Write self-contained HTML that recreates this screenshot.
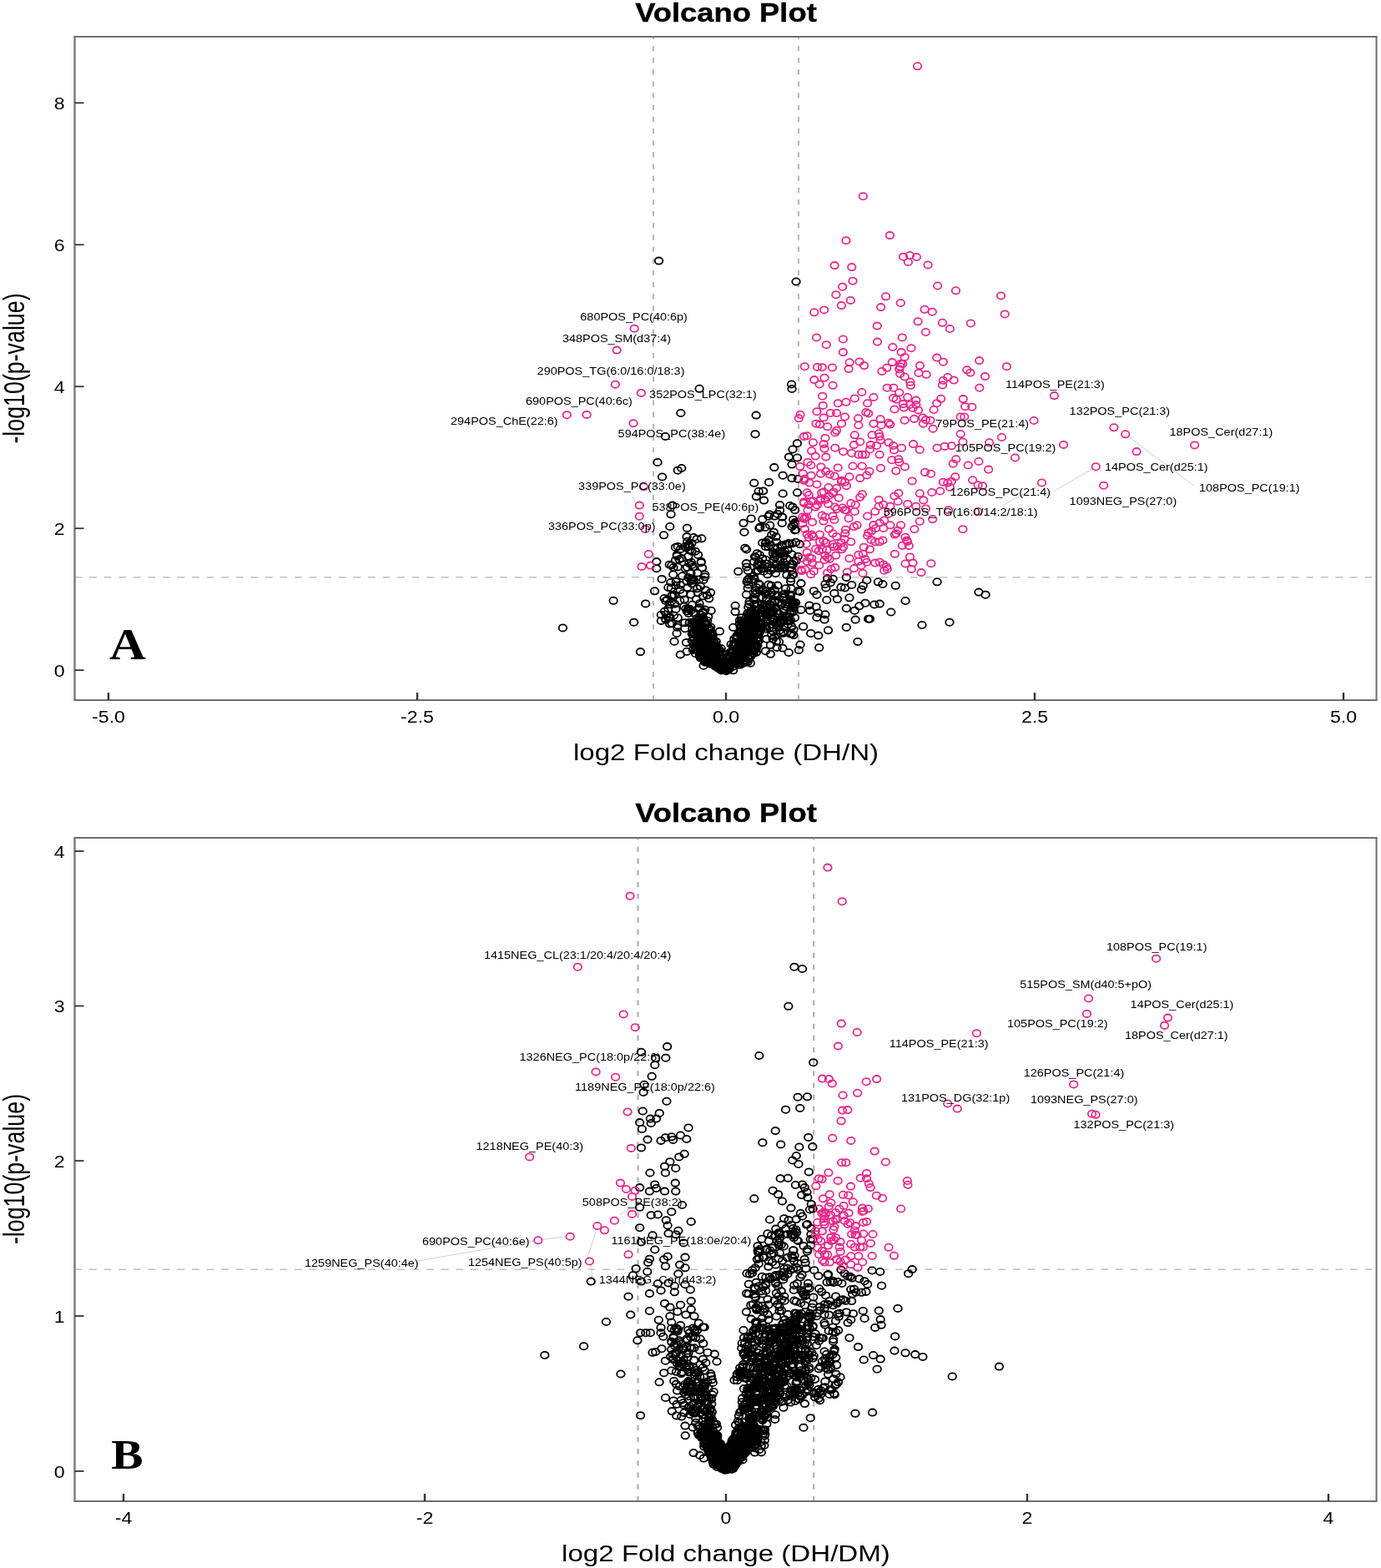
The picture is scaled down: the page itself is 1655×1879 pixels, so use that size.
<!DOCTYPE html>
<html lang="en"><head><meta charset="utf-8"><title>Volcano Plot</title>
<style>
html,body{margin:0;padding:0;background:#fff;}
body{width:1655px;height:1879px;overflow:hidden;}
svg{display:block;}
text{white-space:pre;}
</style></head><body>
<svg width="1655" height="1879" viewBox="0 0 1655 1879">
<rect width="1655" height="1879" fill="#fff"/>
<g>
<line x1="783" y1="839" x2="783" y2="44" stroke="#bababa" stroke-width="2.2" stroke-dasharray="6.3 7.85" stroke-dashoffset="0.5"/>
<line x1="957" y1="839" x2="957" y2="44" stroke="#bababa" stroke-width="2.2" stroke-dasharray="6.3 7.85" stroke-dashoffset="0.5"/>
<line x1="89.5" y1="691.8" x2="1649.5" y2="691.8" stroke="#c0c0c0" stroke-width="1.6" stroke-dasharray="8.75 8.82" stroke-dashoffset="0"/>
</g>
<line x1="1352.0" y1="523.0" x2="1431.0" y2="582.0" stroke="#cfcfcf" stroke-width="1"/>
<line x1="1262.0" y1="589.0" x2="1309.0" y2="562.0" stroke="#cfcfcf" stroke-width="1"/>
<line x1="1200.6" y1="606.1" x2="1243.0" y2="583.0" stroke="#cfcfcf" stroke-width="1"/>
<line x1="758.0" y1="595.0" x2="763.0" y2="605.0" stroke="#cfcfcf" stroke-width="1"/>
<polygon points="869.1,808.0 854.6,801.9 842.5,795.9 832.8,785.0 826.8,772.9 825.0,754.8 826.8,743.9 834.0,739.1 843.7,741.5 852.2,748.8 859.4,760.8 865.5,776.6 868.9,786.2 872.7,776.6 878.8,760.8 886.0,743.9 895.7,729.4 906.6,724.6 916.2,729.4 916.8,742.7 914.4,754.8 912.6,772.9 906.6,785.0 896.9,795.9 884.8,803.1" fill="#000" stroke="#fff" stroke-width="10" stroke-linejoin="round"/>
<path d="M949.3 337.5a4.75 4.1 0 1 0 9.5 0a4.75 4.1 0 1 0 -9.5 0M943.8 460.5a4.75 4.1 0 1 0 9.5 0a4.75 4.1 0 1 0 -9.5 0M944.3 466.0a4.75 4.1 0 1 0 9.5 0a4.75 4.1 0 1 0 -9.5 0M950.7 531.2a4.75 4.1 0 1 0 9.5 0a4.75 4.1 0 1 0 -9.5 0M945.2 538.5a4.75 4.1 0 1 0 9.5 0a4.75 4.1 0 1 0 -9.5 0M940.7 547.6a4.75 4.1 0 1 0 9.5 0a4.75 4.1 0 1 0 -9.5 0M950.7 548.5a4.75 4.1 0 1 0 9.5 0a4.75 4.1 0 1 0 -9.5 0M944.3 556.6a4.75 4.1 0 1 0 9.5 0a4.75 4.1 0 1 0 -9.5 0M986.9 693.1a4.75 4.1 0 1 0 9.5 0a4.75 4.1 0 1 0 -9.5 0M993.3 693.7a4.75 4.1 0 1 0 9.5 0a4.75 4.1 0 1 0 -9.5 0M1009.6 691.9a4.75 4.1 0 1 0 9.5 0a4.75 4.1 0 1 0 -9.5 0M1034.0 695.5a4.75 4.1 0 1 0 9.5 0a4.75 4.1 0 1 0 -9.5 0M1047.6 697.3a4.75 4.1 0 1 0 9.5 0a4.75 4.1 0 1 0 -9.5 0M1053.1 700.0a4.75 4.1 0 1 0 9.5 0a4.75 4.1 0 1 0 -9.5 0M1068.5 701.8a4.75 4.1 0 1 0 9.5 0a4.75 4.1 0 1 0 -9.5 0M1118.3 697.3a4.75 4.1 0 1 0 9.5 0a4.75 4.1 0 1 0 -9.5 0M1168.2 709.6a4.75 4.1 0 1 0 9.5 0a4.75 4.1 0 1 0 -9.5 0M1176.3 712.7a4.75 4.1 0 1 0 9.5 0a4.75 4.1 0 1 0 -9.5 0M955.2 699.1a4.75 4.1 0 1 0 9.5 0a4.75 4.1 0 1 0 -9.5 0M984.2 700.0a4.75 4.1 0 1 0 9.5 0a4.75 4.1 0 1 0 -9.5 0M990.5 698.2a4.75 4.1 0 1 0 9.5 0a4.75 4.1 0 1 0 -9.5 0M1015.9 700.9a4.75 4.1 0 1 0 9.5 0a4.75 4.1 0 1 0 -9.5 0M1029.5 701.8a4.75 4.1 0 1 0 9.5 0a4.75 4.1 0 1 0 -9.5 0M1027.7 706.4a4.75 4.1 0 1 0 9.5 0a4.75 4.1 0 1 0 -9.5 0M985.1 704.5a4.75 4.1 0 1 0 9.5 0a4.75 4.1 0 1 0 -9.5 0M1003.2 703.6a4.75 4.1 0 1 0 9.5 0a4.75 4.1 0 1 0 -9.5 0M1007.8 704.5a4.75 4.1 0 1 0 9.5 0a4.75 4.1 0 1 0 -9.5 0M970.6 708.2a4.75 4.1 0 1 0 9.5 0a4.75 4.1 0 1 0 -9.5 0M974.2 712.7a4.75 4.1 0 1 0 9.5 0a4.75 4.1 0 1 0 -9.5 0M995.1 710.9a4.75 4.1 0 1 0 9.5 0a4.75 4.1 0 1 0 -9.5 0M1013.2 716.3a4.75 4.1 0 1 0 9.5 0a4.75 4.1 0 1 0 -9.5 0M998.7 718.1a4.75 4.1 0 1 0 9.5 0a4.75 4.1 0 1 0 -9.5 0M986.0 719.0a4.75 4.1 0 1 0 9.5 0a4.75 4.1 0 1 0 -9.5 0M1080.3 720.0a4.75 4.1 0 1 0 9.5 0a4.75 4.1 0 1 0 -9.5 0M1032.2 722.7a4.75 4.1 0 1 0 9.5 0a4.75 4.1 0 1 0 -9.5 0M1025.0 726.3a4.75 4.1 0 1 0 9.5 0a4.75 4.1 0 1 0 -9.5 0M1043.1 724.5a4.75 4.1 0 1 0 9.5 0a4.75 4.1 0 1 0 -9.5 0M1049.4 723.6a4.75 4.1 0 1 0 9.5 0a4.75 4.1 0 1 0 -9.5 0M1009.6 729.0a4.75 4.1 0 1 0 9.5 0a4.75 4.1 0 1 0 -9.5 0M1019.5 731.7a4.75 4.1 0 1 0 9.5 0a4.75 4.1 0 1 0 -9.5 0M1063.0 733.5a4.75 4.1 0 1 0 9.5 0a4.75 4.1 0 1 0 -9.5 0M965.2 725.4a4.75 4.1 0 1 0 9.5 0a4.75 4.1 0 1 0 -9.5 0M973.3 727.2a4.75 4.1 0 1 0 9.5 0a4.75 4.1 0 1 0 -9.5 0M966.1 731.7a4.75 4.1 0 1 0 9.5 0a4.75 4.1 0 1 0 -9.5 0M976.0 734.5a4.75 4.1 0 1 0 9.5 0a4.75 4.1 0 1 0 -9.5 0M984.2 736.3a4.75 4.1 0 1 0 9.5 0a4.75 4.1 0 1 0 -9.5 0M974.2 739.9a4.75 4.1 0 1 0 9.5 0a4.75 4.1 0 1 0 -9.5 0M983.3 742.6a4.75 4.1 0 1 0 9.5 0a4.75 4.1 0 1 0 -9.5 0M955.2 730.8a4.75 4.1 0 1 0 9.5 0a4.75 4.1 0 1 0 -9.5 0M1020.4 742.6a4.75 4.1 0 1 0 9.5 0a4.75 4.1 0 1 0 -9.5 0M1035.9 741.7a4.75 4.1 0 1 0 9.5 0a4.75 4.1 0 1 0 -9.5 0M1037.7 741.7a4.75 4.1 0 1 0 9.5 0a4.75 4.1 0 1 0 -9.5 0M1100.2 749.0a4.75 4.1 0 1 0 9.5 0a4.75 4.1 0 1 0 -9.5 0M1133.2 745.7a4.75 4.1 0 1 0 9.5 0a4.75 4.1 0 1 0 -9.5 0M1009.6 751.7a4.75 4.1 0 1 0 9.5 0a4.75 4.1 0 1 0 -9.5 0M987.8 755.3a4.75 4.1 0 1 0 9.5 0a4.75 4.1 0 1 0 -9.5 0M957.9 750.8a4.75 4.1 0 1 0 9.5 0a4.75 4.1 0 1 0 -9.5 0M967.0 758.9a4.75 4.1 0 1 0 9.5 0a4.75 4.1 0 1 0 -9.5 0M976.0 761.6a4.75 4.1 0 1 0 9.5 0a4.75 4.1 0 1 0 -9.5 0M1023.2 768.9a4.75 4.1 0 1 0 9.5 0a4.75 4.1 0 1 0 -9.5 0M954.3 772.5a4.75 4.1 0 1 0 9.5 0a4.75 4.1 0 1 0 -9.5 0M976.9 776.1a4.75 4.1 0 1 0 9.5 0a4.75 4.1 0 1 0 -9.5 0M944.3 573.1a4.75 4.1 0 1 0 9.5 0a4.75 4.1 0 1 0 -9.5 0M951.6 574.0a4.75 4.1 0 1 0 9.5 0a4.75 4.1 0 1 0 -9.5 0M950.7 590.3a4.75 4.1 0 1 0 9.5 0a4.75 4.1 0 1 0 -9.5 0M945.2 607.6a4.75 4.1 0 1 0 9.5 0a4.75 4.1 0 1 0 -9.5 0M947.9 611.2a4.75 4.1 0 1 0 9.5 0a4.75 4.1 0 1 0 -9.5 0M944.3 631.1a4.75 4.1 0 1 0 9.5 0a4.75 4.1 0 1 0 -9.5 0M948.8 634.8a4.75 4.1 0 1 0 9.5 0a4.75 4.1 0 1 0 -9.5 0M784.8 312.6a4.75 4.1 0 1 0 9.5 0a4.75 4.1 0 1 0 -9.5 0M833.4 465.8a4.75 4.1 0 1 0 9.5 0a4.75 4.1 0 1 0 -9.5 0M811.1 495.0a4.75 4.1 0 1 0 9.5 0a4.75 4.1 0 1 0 -9.5 0M901.4 497.6a4.75 4.1 0 1 0 9.5 0a4.75 4.1 0 1 0 -9.5 0M792.6 523.0a4.75 4.1 0 1 0 9.5 0a4.75 4.1 0 1 0 -9.5 0M900.3 520.2a4.75 4.1 0 1 0 9.5 0a4.75 4.1 0 1 0 -9.5 0M783.3 554.0a4.75 4.1 0 1 0 9.5 0a4.75 4.1 0 1 0 -9.5 0M807.5 563.7a4.75 4.1 0 1 0 9.5 0a4.75 4.1 0 1 0 -9.5 0M812.0 561.0a4.75 4.1 0 1 0 9.5 0a4.75 4.1 0 1 0 -9.5 0M788.8 571.5a4.75 4.1 0 1 0 9.5 0a4.75 4.1 0 1 0 -9.5 0M923.1 560.1a4.75 4.1 0 1 0 9.5 0a4.75 4.1 0 1 0 -9.5 0M899.0 578.8a4.75 4.1 0 1 0 9.5 0a4.75 4.1 0 1 0 -9.5 0M916.8 577.9a4.75 4.1 0 1 0 9.5 0a4.75 4.1 0 1 0 -9.5 0M904.4 588.8a4.75 4.1 0 1 0 9.5 0a4.75 4.1 0 1 0 -9.5 0M909.9 588.4a4.75 4.1 0 1 0 9.5 0a4.75 4.1 0 1 0 -9.5 0M901.7 595.1a4.75 4.1 0 1 0 9.5 0a4.75 4.1 0 1 0 -9.5 0M910.8 599.6a4.75 4.1 0 1 0 9.5 0a4.75 4.1 0 1 0 -9.5 0M801.1 605.6a4.75 4.1 0 1 0 9.5 0a4.75 4.1 0 1 0 -9.5 0M799.3 616.3a4.75 4.1 0 1 0 9.5 0a4.75 4.1 0 1 0 -9.5 0M798.0 631.0a4.75 4.1 0 1 0 9.5 0a4.75 4.1 0 1 0 -9.5 0M790.8 641.3a4.75 4.1 0 1 0 9.5 0a4.75 4.1 0 1 0 -9.5 0M818.7 632.8a4.75 4.1 0 1 0 9.5 0a4.75 4.1 0 1 0 -9.5 0M818.3 643.1a4.75 4.1 0 1 0 9.5 0a4.75 4.1 0 1 0 -9.5 0M826.5 644.0a4.75 4.1 0 1 0 9.5 0a4.75 4.1 0 1 0 -9.5 0M836.1 645.3a4.75 4.1 0 1 0 9.5 0a4.75 4.1 0 1 0 -9.5 0M807.5 654.9a4.75 4.1 0 1 0 9.5 0a4.75 4.1 0 1 0 -9.5 0M821.0 652.2a4.75 4.1 0 1 0 9.5 0a4.75 4.1 0 1 0 -9.5 0M822.0 659.5a4.75 4.1 0 1 0 9.5 0a4.75 4.1 0 1 0 -9.5 0M831.9 664.9a4.75 4.1 0 1 0 9.5 0a4.75 4.1 0 1 0 -9.5 0M806.5 664.9a4.75 4.1 0 1 0 9.5 0a4.75 4.1 0 1 0 -9.5 0M820.1 666.7a4.75 4.1 0 1 0 9.5 0a4.75 4.1 0 1 0 -9.5 0M809.3 670.3a4.75 4.1 0 1 0 9.5 0a4.75 4.1 0 1 0 -9.5 0M823.8 674.0a4.75 4.1 0 1 0 9.5 0a4.75 4.1 0 1 0 -9.5 0M782.1 673.1a4.75 4.1 0 1 0 9.5 0a4.75 4.1 0 1 0 -9.5 0M797.5 676.7a4.75 4.1 0 1 0 9.5 0a4.75 4.1 0 1 0 -9.5 0M782.1 681.2a4.75 4.1 0 1 0 9.5 0a4.75 4.1 0 1 0 -9.5 0M807.5 679.4a4.75 4.1 0 1 0 9.5 0a4.75 4.1 0 1 0 -9.5 0M816.5 681.2a4.75 4.1 0 1 0 9.5 0a4.75 4.1 0 1 0 -9.5 0M825.6 679.4a4.75 4.1 0 1 0 9.5 0a4.75 4.1 0 1 0 -9.5 0M831.0 686.6a4.75 4.1 0 1 0 9.5 0a4.75 4.1 0 1 0 -9.5 0M840.1 688.5a4.75 4.1 0 1 0 9.5 0a4.75 4.1 0 1 0 -9.5 0M802.0 688.5a4.75 4.1 0 1 0 9.5 0a4.75 4.1 0 1 0 -9.5 0M788.4 693.9a4.75 4.1 0 1 0 9.5 0a4.75 4.1 0 1 0 -9.5 0M812.9 690.3a4.75 4.1 0 1 0 9.5 0a4.75 4.1 0 1 0 -9.5 0M820.1 692.1a4.75 4.1 0 1 0 9.5 0a4.75 4.1 0 1 0 -9.5 0M933.4 569.7a4.75 4.1 0 1 0 9.5 0a4.75 4.1 0 1 0 -9.5 0M933.4 591.5a4.75 4.1 0 1 0 9.5 0a4.75 4.1 0 1 0 -9.5 0M895.4 621.4a4.75 4.1 0 1 0 9.5 0a4.75 4.1 0 1 0 -9.5 0M886.3 626.8a4.75 4.1 0 1 0 9.5 0a4.75 4.1 0 1 0 -9.5 0M887.2 637.7a4.75 4.1 0 1 0 9.5 0a4.75 4.1 0 1 0 -9.5 0M906.2 631.4a4.75 4.1 0 1 0 9.5 0a4.75 4.1 0 1 0 -9.5 0M909.0 622.3a4.75 4.1 0 1 0 9.5 0a4.75 4.1 0 1 0 -9.5 0M916.2 618.7a4.75 4.1 0 1 0 9.5 0a4.75 4.1 0 1 0 -9.5 0M918.0 629.5a4.75 4.1 0 1 0 9.5 0a4.75 4.1 0 1 0 -9.5 0M922.6 637.7a4.75 4.1 0 1 0 9.5 0a4.75 4.1 0 1 0 -9.5 0M889.9 658.5a4.75 4.1 0 1 0 9.5 0a4.75 4.1 0 1 0 -9.5 0M888.1 656.7a4.75 4.1 0 1 0 9.5 0a4.75 4.1 0 1 0 -9.5 0M909.0 650.4a4.75 4.1 0 1 0 9.5 0a4.75 4.1 0 1 0 -9.5 0M912.6 654.9a4.75 4.1 0 1 0 9.5 0a4.75 4.1 0 1 0 -9.5 0M916.2 646.8a4.75 4.1 0 1 0 9.5 0a4.75 4.1 0 1 0 -9.5 0M925.3 643.1a4.75 4.1 0 1 0 9.5 0a4.75 4.1 0 1 0 -9.5 0M929.8 605.1a4.75 4.1 0 1 0 9.5 0a4.75 4.1 0 1 0 -9.5 0M929.8 611.4a4.75 4.1 0 1 0 9.5 0a4.75 4.1 0 1 0 -9.5 0M932.5 619.6a4.75 4.1 0 1 0 9.5 0a4.75 4.1 0 1 0 -9.5 0M932.5 626.8a4.75 4.1 0 1 0 9.5 0a4.75 4.1 0 1 0 -9.5 0M909.0 669.4a4.75 4.1 0 1 0 9.5 0a4.75 4.1 0 1 0 -9.5 0M899.0 673.1a4.75 4.1 0 1 0 9.5 0a4.75 4.1 0 1 0 -9.5 0M921.7 663.1a4.75 4.1 0 1 0 9.5 0a4.75 4.1 0 1 0 -9.5 0M880.0 684.8a4.75 4.1 0 1 0 9.5 0a4.75 4.1 0 1 0 -9.5 0M891.7 683.9a4.75 4.1 0 1 0 9.5 0a4.75 4.1 0 1 0 -9.5 0M905.3 677.6a4.75 4.1 0 1 0 9.5 0a4.75 4.1 0 1 0 -9.5 0M914.4 679.4a4.75 4.1 0 1 0 9.5 0a4.75 4.1 0 1 0 -9.5 0M925.3 675.8a4.75 4.1 0 1 0 9.5 0a4.75 4.1 0 1 0 -9.5 0M932.5 661.3a4.75 4.1 0 1 0 9.5 0a4.75 4.1 0 1 0 -9.5 0M669.7 752.4a4.75 4.1 0 1 0 9.5 0a4.75 4.1 0 1 0 -9.5 0M730.4 719.8a4.75 4.1 0 1 0 9.5 0a4.75 4.1 0 1 0 -9.5 0M754.9 745.7a4.75 4.1 0 1 0 9.5 0a4.75 4.1 0 1 0 -9.5 0M762.7 781.1a4.75 4.1 0 1 0 9.5 0a4.75 4.1 0 1 0 -9.5 0M799.1 698.0a4.75 4.1 0 1 0 9.5 0a4.75 4.1 0 1 0 -9.5 0M805.1 701.6a4.75 4.1 0 1 0 9.5 0a4.75 4.1 0 1 0 -9.5 0M818.4 696.8a4.75 4.1 0 1 0 9.5 0a4.75 4.1 0 1 0 -9.5 0M826.9 695.6a4.75 4.1 0 1 0 9.5 0a4.75 4.1 0 1 0 -9.5 0M834.7 702.8a4.75 4.1 0 1 0 9.5 0a4.75 4.1 0 1 0 -9.5 0M779.8 708.3a4.75 4.1 0 1 0 9.5 0a4.75 4.1 0 1 0 -9.5 0M796.1 704.0a4.75 4.1 0 1 0 9.5 0a4.75 4.1 0 1 0 -9.5 0M819.0 704.0a4.75 4.1 0 1 0 9.5 0a4.75 4.1 0 1 0 -9.5 0M830.5 705.3a4.75 4.1 0 1 0 9.5 0a4.75 4.1 0 1 0 -9.5 0M846.8 710.1a4.75 4.1 0 1 0 9.5 0a4.75 4.1 0 1 0 -9.5 0M845.0 717.3a4.75 4.1 0 1 0 9.5 0a4.75 4.1 0 1 0 -9.5 0M813.6 711.3a4.75 4.1 0 1 0 9.5 0a4.75 4.1 0 1 0 -9.5 0M823.3 712.5a4.75 4.1 0 1 0 9.5 0a4.75 4.1 0 1 0 -9.5 0M794.9 718.5a4.75 4.1 0 1 0 9.5 0a4.75 4.1 0 1 0 -9.5 0M799.7 721.0a4.75 4.1 0 1 0 9.5 0a4.75 4.1 0 1 0 -9.5 0M768.9 723.4a4.75 4.1 0 1 0 9.5 0a4.75 4.1 0 1 0 -9.5 0M810.0 719.8a4.75 4.1 0 1 0 9.5 0a4.75 4.1 0 1 0 -9.5 0M796.1 729.4a4.75 4.1 0 1 0 9.5 0a4.75 4.1 0 1 0 -9.5 0M805.1 730.0a4.75 4.1 0 1 0 9.5 0a4.75 4.1 0 1 0 -9.5 0M817.2 729.4a4.75 4.1 0 1 0 9.5 0a4.75 4.1 0 1 0 -9.5 0M840.2 730.6a4.75 4.1 0 1 0 9.5 0a4.75 4.1 0 1 0 -9.5 0M847.4 731.8a4.75 4.1 0 1 0 9.5 0a4.75 4.1 0 1 0 -9.5 0M787.6 736.7a4.75 4.1 0 1 0 9.5 0a4.75 4.1 0 1 0 -9.5 0M787.6 743.9a4.75 4.1 0 1 0 9.5 0a4.75 4.1 0 1 0 -9.5 0M797.9 739.1a4.75 4.1 0 1 0 9.5 0a4.75 4.1 0 1 0 -9.5 0M807.5 740.3a4.75 4.1 0 1 0 9.5 0a4.75 4.1 0 1 0 -9.5 0M797.9 747.6a4.75 4.1 0 1 0 9.5 0a4.75 4.1 0 1 0 -9.5 0M807.5 749.4a4.75 4.1 0 1 0 9.5 0a4.75 4.1 0 1 0 -9.5 0M816.0 746.3a4.75 4.1 0 1 0 9.5 0a4.75 4.1 0 1 0 -9.5 0M806.3 759.0a4.75 4.1 0 1 0 9.5 0a4.75 4.1 0 1 0 -9.5 0M803.3 768.7a4.75 4.1 0 1 0 9.5 0a4.75 4.1 0 1 0 -9.5 0M817.8 769.9a4.75 4.1 0 1 0 9.5 0a4.75 4.1 0 1 0 -9.5 0M857.7 756.6a4.75 4.1 0 1 0 9.5 0a4.75 4.1 0 1 0 -9.5 0M810.6 784.4a4.75 4.1 0 1 0 9.5 0a4.75 4.1 0 1 0 -9.5 0M818.4 780.8a4.75 4.1 0 1 0 9.5 0a4.75 4.1 0 1 0 -9.5 0M838.4 797.7a4.75 4.1 0 1 0 9.5 0a4.75 4.1 0 1 0 -9.5 0M825.7 779.0a4.75 4.1 0 1 0 9.5 0a4.75 4.1 0 1 0 -9.5 0M926.0 649.7a4.75 4.1 0 1 0 9.5 0a4.75 4.1 0 1 0 -9.5 0M932.0 653.3a4.75 4.1 0 1 0 9.5 0a4.75 4.1 0 1 0 -9.5 0M940.5 650.9a4.75 4.1 0 1 0 9.5 0a4.75 4.1 0 1 0 -9.5 0M948.9 649.7a4.75 4.1 0 1 0 9.5 0a4.75 4.1 0 1 0 -9.5 0M953.8 652.1a4.75 4.1 0 1 0 9.5 0a4.75 4.1 0 1 0 -9.5 0M944.1 664.2a4.75 4.1 0 1 0 9.5 0a4.75 4.1 0 1 0 -9.5 0M922.3 670.2a4.75 4.1 0 1 0 9.5 0a4.75 4.1 0 1 0 -9.5 0M938.1 669.0a4.75 4.1 0 1 0 9.5 0a4.75 4.1 0 1 0 -9.5 0M946.5 672.6a4.75 4.1 0 1 0 9.5 0a4.75 4.1 0 1 0 -9.5 0M901.8 684.7a4.75 4.1 0 1 0 9.5 0a4.75 4.1 0 1 0 -9.5 0M910.3 684.7a4.75 4.1 0 1 0 9.5 0a4.75 4.1 0 1 0 -9.5 0M919.9 679.9a4.75 4.1 0 1 0 9.5 0a4.75 4.1 0 1 0 -9.5 0M928.4 681.1a4.75 4.1 0 1 0 9.5 0a4.75 4.1 0 1 0 -9.5 0M935.6 679.9a4.75 4.1 0 1 0 9.5 0a4.75 4.1 0 1 0 -9.5 0M944.1 683.5a4.75 4.1 0 1 0 9.5 0a4.75 4.1 0 1 0 -9.5 0M924.8 687.1a4.75 4.1 0 1 0 9.5 0a4.75 4.1 0 1 0 -9.5 0M915.1 688.3a4.75 4.1 0 1 0 9.5 0a4.75 4.1 0 1 0 -9.5 0M942.9 693.2a4.75 4.1 0 1 0 9.5 0a4.75 4.1 0 1 0 -9.5 0M942.9 696.8a4.75 4.1 0 1 0 9.5 0a4.75 4.1 0 1 0 -9.5 0M951.4 708.3a4.75 4.1 0 1 0 9.5 0a4.75 4.1 0 1 0 -9.5 0M953.8 708.9a4.75 4.1 0 1 0 9.5 0a4.75 4.1 0 1 0 -9.5 0M892.1 700.4a4.75 4.1 0 1 0 9.5 0a4.75 4.1 0 1 0 -9.5 0M904.2 699.2a4.75 4.1 0 1 0 9.5 0a4.75 4.1 0 1 0 -9.5 0M916.3 700.4a4.75 4.1 0 1 0 9.5 0a4.75 4.1 0 1 0 -9.5 0M927.2 701.6a4.75 4.1 0 1 0 9.5 0a4.75 4.1 0 1 0 -9.5 0M936.9 705.3a4.75 4.1 0 1 0 9.5 0a4.75 4.1 0 1 0 -9.5 0M889.7 712.5a4.75 4.1 0 1 0 9.5 0a4.75 4.1 0 1 0 -9.5 0M900.6 707.7a4.75 4.1 0 1 0 9.5 0a4.75 4.1 0 1 0 -9.5 0M912.7 708.9a4.75 4.1 0 1 0 9.5 0a4.75 4.1 0 1 0 -9.5 0M923.6 712.5a4.75 4.1 0 1 0 9.5 0a4.75 4.1 0 1 0 -9.5 0M934.4 714.9a4.75 4.1 0 1 0 9.5 0a4.75 4.1 0 1 0 -9.5 0M941.7 712.5a4.75 4.1 0 1 0 9.5 0a4.75 4.1 0 1 0 -9.5 0M876.4 725.8a4.75 4.1 0 1 0 9.5 0a4.75 4.1 0 1 0 -9.5 0M876.4 733.1a4.75 4.1 0 1 0 9.5 0a4.75 4.1 0 1 0 -9.5 0M893.3 721.0a4.75 4.1 0 1 0 9.5 0a4.75 4.1 0 1 0 -9.5 0M927.2 722.2a4.75 4.1 0 1 0 9.5 0a4.75 4.1 0 1 0 -9.5 0M939.3 724.6a4.75 4.1 0 1 0 9.5 0a4.75 4.1 0 1 0 -9.5 0M948.9 722.2a4.75 4.1 0 1 0 9.5 0a4.75 4.1 0 1 0 -9.5 0M934.4 731.8a4.75 4.1 0 1 0 9.5 0a4.75 4.1 0 1 0 -9.5 0M944.1 734.3a4.75 4.1 0 1 0 9.5 0a4.75 4.1 0 1 0 -9.5 0M928.4 740.3a4.75 4.1 0 1 0 9.5 0a4.75 4.1 0 1 0 -9.5 0M939.3 742.7a4.75 4.1 0 1 0 9.5 0a4.75 4.1 0 1 0 -9.5 0M947.7 740.3a4.75 4.1 0 1 0 9.5 0a4.75 4.1 0 1 0 -9.5 0M918.7 740.3a4.75 4.1 0 1 0 9.5 0a4.75 4.1 0 1 0 -9.5 0M912.7 745.1a4.75 4.1 0 1 0 9.5 0a4.75 4.1 0 1 0 -9.5 0M922.3 748.8a4.75 4.1 0 1 0 9.5 0a4.75 4.1 0 1 0 -9.5 0M934.4 751.2a4.75 4.1 0 1 0 9.5 0a4.75 4.1 0 1 0 -9.5 0M944.1 751.2a4.75 4.1 0 1 0 9.5 0a4.75 4.1 0 1 0 -9.5 0M944.1 759.6a4.75 4.1 0 1 0 9.5 0a4.75 4.1 0 1 0 -9.5 0M919.9 760.8a4.75 4.1 0 1 0 9.5 0a4.75 4.1 0 1 0 -9.5 0M913.9 765.7a4.75 4.1 0 1 0 9.5 0a4.75 4.1 0 1 0 -9.5 0M918.7 772.9a4.75 4.1 0 1 0 9.5 0a4.75 4.1 0 1 0 -9.5 0M912.7 780.2a4.75 4.1 0 1 0 9.5 0a4.75 4.1 0 1 0 -9.5 0M918.7 783.8a4.75 4.1 0 1 0 9.5 0a4.75 4.1 0 1 0 -9.5 0M933.2 776.6a4.75 4.1 0 1 0 9.5 0a4.75 4.1 0 1 0 -9.5 0M940.5 782.0a4.75 4.1 0 1 0 9.5 0a4.75 4.1 0 1 0 -9.5 0M952.6 779.0a4.75 4.1 0 1 0 9.5 0a4.75 4.1 0 1 0 -9.5 0M874.0 751.8a4.75 4.1 0 1 0 9.5 0a4.75 4.1 0 1 0 -9.5 0M883.7 740.3a4.75 4.1 0 1 0 9.5 0a4.75 4.1 0 1 0 -9.5 0M894.6 794.7a4.75 4.1 0 1 0 9.5 0a4.75 4.1 0 1 0 -9.5 0M826.4 759.8a4.75 4.1 0 1 0 9.5 0a4.75 4.1 0 1 0 -9.5 0M905.7 738.7a4.75 4.1 0 1 0 9.5 0a4.75 4.1 0 1 0 -9.5 0M830.5 745.7a4.75 4.1 0 1 0 9.5 0a4.75 4.1 0 1 0 -9.5 0M886.5 749.2a4.75 4.1 0 1 0 9.5 0a4.75 4.1 0 1 0 -9.5 0M871.4 781.6a4.75 4.1 0 1 0 9.5 0a4.75 4.1 0 1 0 -9.5 0M895.6 732.4a4.75 4.1 0 1 0 9.5 0a4.75 4.1 0 1 0 -9.5 0M896.0 733.5a4.75 4.1 0 1 0 9.5 0a4.75 4.1 0 1 0 -9.5 0M850.7 797.1a4.75 4.1 0 1 0 9.5 0a4.75 4.1 0 1 0 -9.5 0M846.4 795.6a4.75 4.1 0 1 0 9.5 0a4.75 4.1 0 1 0 -9.5 0M826.5 772.6a4.75 4.1 0 1 0 9.5 0a4.75 4.1 0 1 0 -9.5 0M830.4 774.9a4.75 4.1 0 1 0 9.5 0a4.75 4.1 0 1 0 -9.5 0M872.7 781.0a4.75 4.1 0 1 0 9.5 0a4.75 4.1 0 1 0 -9.5 0M873.6 779.6a4.75 4.1 0 1 0 9.5 0a4.75 4.1 0 1 0 -9.5 0M897.7 778.9a4.75 4.1 0 1 0 9.5 0a4.75 4.1 0 1 0 -9.5 0M867.9 787.8a4.75 4.1 0 1 0 9.5 0a4.75 4.1 0 1 0 -9.5 0M870.1 781.7a4.75 4.1 0 1 0 9.5 0a4.75 4.1 0 1 0 -9.5 0M857.9 786.1a4.75 4.1 0 1 0 9.5 0a4.75 4.1 0 1 0 -9.5 0M900.8 775.6a4.75 4.1 0 1 0 9.5 0a4.75 4.1 0 1 0 -9.5 0M906.5 748.7a4.75 4.1 0 1 0 9.5 0a4.75 4.1 0 1 0 -9.5 0M826.0 760.3a4.75 4.1 0 1 0 9.5 0a4.75 4.1 0 1 0 -9.5 0M853.2 774.0a4.75 4.1 0 1 0 9.5 0a4.75 4.1 0 1 0 -9.5 0M892.4 789.8a4.75 4.1 0 1 0 9.5 0a4.75 4.1 0 1 0 -9.5 0M898.3 783.0a4.75 4.1 0 1 0 9.5 0a4.75 4.1 0 1 0 -9.5 0M878.2 761.5a4.75 4.1 0 1 0 9.5 0a4.75 4.1 0 1 0 -9.5 0M850.3 767.0a4.75 4.1 0 1 0 9.5 0a4.75 4.1 0 1 0 -9.5 0M868.6 800.6a4.75 4.1 0 1 0 9.5 0a4.75 4.1 0 1 0 -9.5 0M872.3 780.8a4.75 4.1 0 1 0 9.5 0a4.75 4.1 0 1 0 -9.5 0M882.6 796.6a4.75 4.1 0 1 0 9.5 0a4.75 4.1 0 1 0 -9.5 0M856.8 798.9a4.75 4.1 0 1 0 9.5 0a4.75 4.1 0 1 0 -9.5 0M841.2 749.1a4.75 4.1 0 1 0 9.5 0a4.75 4.1 0 1 0 -9.5 0M858.4 784.4a4.75 4.1 0 1 0 9.5 0a4.75 4.1 0 1 0 -9.5 0M828.4 774.6a4.75 4.1 0 1 0 9.5 0a4.75 4.1 0 1 0 -9.5 0M848.0 759.9a4.75 4.1 0 1 0 9.5 0a4.75 4.1 0 1 0 -9.5 0M882.4 751.6a4.75 4.1 0 1 0 9.5 0a4.75 4.1 0 1 0 -9.5 0M875.5 771.6a4.75 4.1 0 1 0 9.5 0a4.75 4.1 0 1 0 -9.5 0M834.5 785.3a4.75 4.1 0 1 0 9.5 0a4.75 4.1 0 1 0 -9.5 0M882.5 756.6a4.75 4.1 0 1 0 9.5 0a4.75 4.1 0 1 0 -9.5 0M847.9 762.0a4.75 4.1 0 1 0 9.5 0a4.75 4.1 0 1 0 -9.5 0M852.9 798.8a4.75 4.1 0 1 0 9.5 0a4.75 4.1 0 1 0 -9.5 0M889.6 791.1a4.75 4.1 0 1 0 9.5 0a4.75 4.1 0 1 0 -9.5 0M887.2 794.3a4.75 4.1 0 1 0 9.5 0a4.75 4.1 0 1 0 -9.5 0M826.6 760.5a4.75 4.1 0 1 0 9.5 0a4.75 4.1 0 1 0 -9.5 0M899.1 730.1a4.75 4.1 0 1 0 9.5 0a4.75 4.1 0 1 0 -9.5 0M887.5 746.4a4.75 4.1 0 1 0 9.5 0a4.75 4.1 0 1 0 -9.5 0M827.2 747.5a4.75 4.1 0 1 0 9.5 0a4.75 4.1 0 1 0 -9.5 0M862.1 800.1a4.75 4.1 0 1 0 9.5 0a4.75 4.1 0 1 0 -9.5 0M846.3 758.9a4.75 4.1 0 1 0 9.5 0a4.75 4.1 0 1 0 -9.5 0M892.8 736.2a4.75 4.1 0 1 0 9.5 0a4.75 4.1 0 1 0 -9.5 0M901.1 732.2a4.75 4.1 0 1 0 9.5 0a4.75 4.1 0 1 0 -9.5 0M869.5 788.9a4.75 4.1 0 1 0 9.5 0a4.75 4.1 0 1 0 -9.5 0M893.2 735.7a4.75 4.1 0 1 0 9.5 0a4.75 4.1 0 1 0 -9.5 0M905.3 746.2a4.75 4.1 0 1 0 9.5 0a4.75 4.1 0 1 0 -9.5 0M824.6 759.7a4.75 4.1 0 1 0 9.5 0a4.75 4.1 0 1 0 -9.5 0M881.2 757.7a4.75 4.1 0 1 0 9.5 0a4.75 4.1 0 1 0 -9.5 0M853.9 799.1a4.75 4.1 0 1 0 9.5 0a4.75 4.1 0 1 0 -9.5 0M833.6 783.9a4.75 4.1 0 1 0 9.5 0a4.75 4.1 0 1 0 -9.5 0M844.6 752.5a4.75 4.1 0 1 0 9.5 0a4.75 4.1 0 1 0 -9.5 0M831.3 745.0a4.75 4.1 0 1 0 9.5 0a4.75 4.1 0 1 0 -9.5 0M846.6 755.0a4.75 4.1 0 1 0 9.5 0a4.75 4.1 0 1 0 -9.5 0M832.8 745.0a4.75 4.1 0 1 0 9.5 0a4.75 4.1 0 1 0 -9.5 0M828.9 777.4a4.75 4.1 0 1 0 9.5 0a4.75 4.1 0 1 0 -9.5 0M906.0 753.2a4.75 4.1 0 1 0 9.5 0a4.75 4.1 0 1 0 -9.5 0M905.5 757.8a4.75 4.1 0 1 0 9.5 0a4.75 4.1 0 1 0 -9.5 0M843.2 792.4a4.75 4.1 0 1 0 9.5 0a4.75 4.1 0 1 0 -9.5 0M887.7 744.3a4.75 4.1 0 1 0 9.5 0a4.75 4.1 0 1 0 -9.5 0M904.4 764.3a4.75 4.1 0 1 0 9.5 0a4.75 4.1 0 1 0 -9.5 0M901.9 732.3a4.75 4.1 0 1 0 9.5 0a4.75 4.1 0 1 0 -9.5 0M825.1 753.3a4.75 4.1 0 1 0 9.5 0a4.75 4.1 0 1 0 -9.5 0M842.2 793.2a4.75 4.1 0 1 0 9.5 0a4.75 4.1 0 1 0 -9.5 0M905.1 745.9a4.75 4.1 0 1 0 9.5 0a4.75 4.1 0 1 0 -9.5 0M902.1 773.5a4.75 4.1 0 1 0 9.5 0a4.75 4.1 0 1 0 -9.5 0M902.5 773.2a4.75 4.1 0 1 0 9.5 0a4.75 4.1 0 1 0 -9.5 0M860.5 799.8a4.75 4.1 0 1 0 9.5 0a4.75 4.1 0 1 0 -9.5 0M885.7 745.7a4.75 4.1 0 1 0 9.5 0a4.75 4.1 0 1 0 -9.5 0M886.8 747.2a4.75 4.1 0 1 0 9.5 0a4.75 4.1 0 1 0 -9.5 0M855.4 797.3a4.75 4.1 0 1 0 9.5 0a4.75 4.1 0 1 0 -9.5 0M885.9 747.6a4.75 4.1 0 1 0 9.5 0a4.75 4.1 0 1 0 -9.5 0M902.7 730.8a4.75 4.1 0 1 0 9.5 0a4.75 4.1 0 1 0 -9.5 0M907.3 746.9a4.75 4.1 0 1 0 9.5 0a4.75 4.1 0 1 0 -9.5 0M878.0 763.0a4.75 4.1 0 1 0 9.5 0a4.75 4.1 0 1 0 -9.5 0M886.2 748.8a4.75 4.1 0 1 0 9.5 0a4.75 4.1 0 1 0 -9.5 0M903.1 773.5a4.75 4.1 0 1 0 9.5 0a4.75 4.1 0 1 0 -9.5 0M902.8 763.9a4.75 4.1 0 1 0 9.5 0a4.75 4.1 0 1 0 -9.5 0M859.5 789.9a4.75 4.1 0 1 0 9.5 0a4.75 4.1 0 1 0 -9.5 0M869.3 788.7a4.75 4.1 0 1 0 9.5 0a4.75 4.1 0 1 0 -9.5 0M872.2 781.0a4.75 4.1 0 1 0 9.5 0a4.75 4.1 0 1 0 -9.5 0M905.1 750.9a4.75 4.1 0 1 0 9.5 0a4.75 4.1 0 1 0 -9.5 0M865.9 800.4a4.75 4.1 0 1 0 9.5 0a4.75 4.1 0 1 0 -9.5 0M838.1 790.2a4.75 4.1 0 1 0 9.5 0a4.75 4.1 0 1 0 -9.5 0M904.9 755.8a4.75 4.1 0 1 0 9.5 0a4.75 4.1 0 1 0 -9.5 0M864.8 803.4a4.75 4.1 0 1 0 9.5 0a4.75 4.1 0 1 0 -9.5 0M826.5 746.1a4.75 4.1 0 1 0 9.5 0a4.75 4.1 0 1 0 -9.5 0M843.2 755.3a4.75 4.1 0 1 0 9.5 0a4.75 4.1 0 1 0 -9.5 0M885.6 745.4a4.75 4.1 0 1 0 9.5 0a4.75 4.1 0 1 0 -9.5 0M863.2 802.0a4.75 4.1 0 1 0 9.5 0a4.75 4.1 0 1 0 -9.5 0M826.6 763.2a4.75 4.1 0 1 0 9.5 0a4.75 4.1 0 1 0 -9.5 0M851.7 797.3a4.75 4.1 0 1 0 9.5 0a4.75 4.1 0 1 0 -9.5 0M827.4 770.5a4.75 4.1 0 1 0 9.5 0a4.75 4.1 0 1 0 -9.5 0M867.1 789.4a4.75 4.1 0 1 0 9.5 0a4.75 4.1 0 1 0 -9.5 0M881.8 757.6a4.75 4.1 0 1 0 9.5 0a4.75 4.1 0 1 0 -9.5 0M858.1 780.9a4.75 4.1 0 1 0 9.5 0a4.75 4.1 0 1 0 -9.5 0M854.9 779.5a4.75 4.1 0 1 0 9.5 0a4.75 4.1 0 1 0 -9.5 0M870.0 799.6a4.75 4.1 0 1 0 9.5 0a4.75 4.1 0 1 0 -9.5 0M866.2 792.4a4.75 4.1 0 1 0 9.5 0a4.75 4.1 0 1 0 -9.5 0M895.9 784.9a4.75 4.1 0 1 0 9.5 0a4.75 4.1 0 1 0 -9.5 0M879.6 796.7a4.75 4.1 0 1 0 9.5 0a4.75 4.1 0 1 0 -9.5 0M876.3 774.2a4.75 4.1 0 1 0 9.5 0a4.75 4.1 0 1 0 -9.5 0M906.7 746.3a4.75 4.1 0 1 0 9.5 0a4.75 4.1 0 1 0 -9.5 0M856.3 782.2a4.75 4.1 0 1 0 9.5 0a4.75 4.1 0 1 0 -9.5 0M849.4 795.8a4.75 4.1 0 1 0 9.5 0a4.75 4.1 0 1 0 -9.5 0M894.7 787.0a4.75 4.1 0 1 0 9.5 0a4.75 4.1 0 1 0 -9.5 0M899.9 779.3a4.75 4.1 0 1 0 9.5 0a4.75 4.1 0 1 0 -9.5 0M894.5 732.4a4.75 4.1 0 1 0 9.5 0a4.75 4.1 0 1 0 -9.5 0M828.1 773.9a4.75 4.1 0 1 0 9.5 0a4.75 4.1 0 1 0 -9.5 0M889.1 740.8a4.75 4.1 0 1 0 9.5 0a4.75 4.1 0 1 0 -9.5 0M835.5 744.8a4.75 4.1 0 1 0 9.5 0a4.75 4.1 0 1 0 -9.5 0M842.8 793.6a4.75 4.1 0 1 0 9.5 0a4.75 4.1 0 1 0 -9.5 0M833.6 785.0a4.75 4.1 0 1 0 9.5 0a4.75 4.1 0 1 0 -9.5 0M877.3 763.7a4.75 4.1 0 1 0 9.5 0a4.75 4.1 0 1 0 -9.5 0M868.9 785.3a4.75 4.1 0 1 0 9.5 0a4.75 4.1 0 1 0 -9.5 0M840.4 789.1a4.75 4.1 0 1 0 9.5 0a4.75 4.1 0 1 0 -9.5 0M862.7 800.8a4.75 4.1 0 1 0 9.5 0a4.75 4.1 0 1 0 -9.5 0M896.7 779.9a4.75 4.1 0 1 0 9.5 0a4.75 4.1 0 1 0 -9.5 0M829.2 778.5a4.75 4.1 0 1 0 9.5 0a4.75 4.1 0 1 0 -9.5 0M904.5 763.9a4.75 4.1 0 1 0 9.5 0a4.75 4.1 0 1 0 -9.5 0M893.7 735.3a4.75 4.1 0 1 0 9.5 0a4.75 4.1 0 1 0 -9.5 0M886.9 747.2a4.75 4.1 0 1 0 9.5 0a4.75 4.1 0 1 0 -9.5 0M872.3 782.3a4.75 4.1 0 1 0 9.5 0a4.75 4.1 0 1 0 -9.5 0M826.1 757.6a4.75 4.1 0 1 0 9.5 0a4.75 4.1 0 1 0 -9.5 0M891.6 789.2a4.75 4.1 0 1 0 9.5 0a4.75 4.1 0 1 0 -9.5 0M868.3 800.3a4.75 4.1 0 1 0 9.5 0a4.75 4.1 0 1 0 -9.5 0M846.7 795.5a4.75 4.1 0 1 0 9.5 0a4.75 4.1 0 1 0 -9.5 0M853.5 768.7a4.75 4.1 0 1 0 9.5 0a4.75 4.1 0 1 0 -9.5 0M873.5 774.3a4.75 4.1 0 1 0 9.5 0a4.75 4.1 0 1 0 -9.5 0M827.8 751.7a4.75 4.1 0 1 0 9.5 0a4.75 4.1 0 1 0 -9.5 0M876.5 770.1a4.75 4.1 0 1 0 9.5 0a4.75 4.1 0 1 0 -9.5 0M875.8 773.9a4.75 4.1 0 1 0 9.5 0a4.75 4.1 0 1 0 -9.5 0M867.4 801.5a4.75 4.1 0 1 0 9.5 0a4.75 4.1 0 1 0 -9.5 0M867.2 802.7a4.75 4.1 0 1 0 9.5 0a4.75 4.1 0 1 0 -9.5 0M828.1 744.9a4.75 4.1 0 1 0 9.5 0a4.75 4.1 0 1 0 -9.5 0M868.6 786.4a4.75 4.1 0 1 0 9.5 0a4.75 4.1 0 1 0 -9.5 0M859.2 801.4a4.75 4.1 0 1 0 9.5 0a4.75 4.1 0 1 0 -9.5 0M903.4 768.8a4.75 4.1 0 1 0 9.5 0a4.75 4.1 0 1 0 -9.5 0M849.8 796.1a4.75 4.1 0 1 0 9.5 0a4.75 4.1 0 1 0 -9.5 0M849.6 760.8a4.75 4.1 0 1 0 9.5 0a4.75 4.1 0 1 0 -9.5 0M905.3 734.5a4.75 4.1 0 1 0 9.5 0a4.75 4.1 0 1 0 -9.5 0M826.8 766.5a4.75 4.1 0 1 0 9.5 0a4.75 4.1 0 1 0 -9.5 0M905.4 735.5a4.75 4.1 0 1 0 9.5 0a4.75 4.1 0 1 0 -9.5 0M836.6 785.2a4.75 4.1 0 1 0 9.5 0a4.75 4.1 0 1 0 -9.5 0M881.0 759.7a4.75 4.1 0 1 0 9.5 0a4.75 4.1 0 1 0 -9.5 0M899.1 730.6a4.75 4.1 0 1 0 9.5 0a4.75 4.1 0 1 0 -9.5 0M848.7 761.6a4.75 4.1 0 1 0 9.5 0a4.75 4.1 0 1 0 -9.5 0M849.5 764.8a4.75 4.1 0 1 0 9.5 0a4.75 4.1 0 1 0 -9.5 0M836.9 785.3a4.75 4.1 0 1 0 9.5 0a4.75 4.1 0 1 0 -9.5 0M830.9 777.6a4.75 4.1 0 1 0 9.5 0a4.75 4.1 0 1 0 -9.5 0M891.5 740.9a4.75 4.1 0 1 0 9.5 0a4.75 4.1 0 1 0 -9.5 0M892.3 789.5a4.75 4.1 0 1 0 9.5 0a4.75 4.1 0 1 0 -9.5 0M853.5 798.8a4.75 4.1 0 1 0 9.5 0a4.75 4.1 0 1 0 -9.5 0M835.1 747.6a4.75 4.1 0 1 0 9.5 0a4.75 4.1 0 1 0 -9.5 0M867.9 802.3a4.75 4.1 0 1 0 9.5 0a4.75 4.1 0 1 0 -9.5 0M902.6 758.6a4.75 4.1 0 1 0 9.5 0a4.75 4.1 0 1 0 -9.5 0M837.9 789.9a4.75 4.1 0 1 0 9.5 0a4.75 4.1 0 1 0 -9.5 0M879.0 764.8a4.75 4.1 0 1 0 9.5 0a4.75 4.1 0 1 0 -9.5 0M902.1 760.2a4.75 4.1 0 1 0 9.5 0a4.75 4.1 0 1 0 -9.5 0M874.9 771.2a4.75 4.1 0 1 0 9.5 0a4.75 4.1 0 1 0 -9.5 0M894.0 735.6a4.75 4.1 0 1 0 9.5 0a4.75 4.1 0 1 0 -9.5 0M850.0 795.7a4.75 4.1 0 1 0 9.5 0a4.75 4.1 0 1 0 -9.5 0M839.7 791.4a4.75 4.1 0 1 0 9.5 0a4.75 4.1 0 1 0 -9.5 0M834.0 785.3a4.75 4.1 0 1 0 9.5 0a4.75 4.1 0 1 0 -9.5 0M869.2 786.1a4.75 4.1 0 1 0 9.5 0a4.75 4.1 0 1 0 -9.5 0M875.7 773.6a4.75 4.1 0 1 0 9.5 0a4.75 4.1 0 1 0 -9.5 0M895.4 786.0a4.75 4.1 0 1 0 9.5 0a4.75 4.1 0 1 0 -9.5 0M859.0 790.0a4.75 4.1 0 1 0 9.5 0a4.75 4.1 0 1 0 -9.5 0M903.0 731.8a4.75 4.1 0 1 0 9.5 0a4.75 4.1 0 1 0 -9.5 0M856.2 798.4a4.75 4.1 0 1 0 9.5 0a4.75 4.1 0 1 0 -9.5 0M874.3 773.9a4.75 4.1 0 1 0 9.5 0a4.75 4.1 0 1 0 -9.5 0M848.8 760.1a4.75 4.1 0 1 0 9.5 0a4.75 4.1 0 1 0 -9.5 0M830.9 746.4a4.75 4.1 0 1 0 9.5 0a4.75 4.1 0 1 0 -9.5 0M885.9 746.6a4.75 4.1 0 1 0 9.5 0a4.75 4.1 0 1 0 -9.5 0M898.1 733.5a4.75 4.1 0 1 0 9.5 0a4.75 4.1 0 1 0 -9.5 0M846.0 754.0a4.75 4.1 0 1 0 9.5 0a4.75 4.1 0 1 0 -9.5 0M906.3 751.6a4.75 4.1 0 1 0 9.5 0a4.75 4.1 0 1 0 -9.5 0M851.5 770.0a4.75 4.1 0 1 0 9.5 0a4.75 4.1 0 1 0 -9.5 0M884.9 747.0a4.75 4.1 0 1 0 9.5 0a4.75 4.1 0 1 0 -9.5 0M869.6 801.3a4.75 4.1 0 1 0 9.5 0a4.75 4.1 0 1 0 -9.5 0M857.5 785.7a4.75 4.1 0 1 0 9.5 0a4.75 4.1 0 1 0 -9.5 0M835.8 786.1a4.75 4.1 0 1 0 9.5 0a4.75 4.1 0 1 0 -9.5 0M826.5 746.2a4.75 4.1 0 1 0 9.5 0a4.75 4.1 0 1 0 -9.5 0M848.0 761.5a4.75 4.1 0 1 0 9.5 0a4.75 4.1 0 1 0 -9.5 0M840.1 751.7a4.75 4.1 0 1 0 9.5 0a4.75 4.1 0 1 0 -9.5 0M839.3 747.2a4.75 4.1 0 1 0 9.5 0a4.75 4.1 0 1 0 -9.5 0M871.4 783.0a4.75 4.1 0 1 0 9.5 0a4.75 4.1 0 1 0 -9.5 0M881.7 794.3a4.75 4.1 0 1 0 9.5 0a4.75 4.1 0 1 0 -9.5 0M864.4 801.3a4.75 4.1 0 1 0 9.5 0a4.75 4.1 0 1 0 -9.5 0M885.5 795.0a4.75 4.1 0 1 0 9.5 0a4.75 4.1 0 1 0 -9.5 0M856.9 777.9a4.75 4.1 0 1 0 9.5 0a4.75 4.1 0 1 0 -9.5 0M873.1 798.9a4.75 4.1 0 1 0 9.5 0a4.75 4.1 0 1 0 -9.5 0M870.8 788.1a4.75 4.1 0 1 0 9.5 0a4.75 4.1 0 1 0 -9.5 0M840.9 793.1a4.75 4.1 0 1 0 9.5 0a4.75 4.1 0 1 0 -9.5 0M855.2 775.1a4.75 4.1 0 1 0 9.5 0a4.75 4.1 0 1 0 -9.5 0M893.7 786.7a4.75 4.1 0 1 0 9.5 0a4.75 4.1 0 1 0 -9.5 0M858.4 784.3a4.75 4.1 0 1 0 9.5 0a4.75 4.1 0 1 0 -9.5 0M827.2 748.1a4.75 4.1 0 1 0 9.5 0a4.75 4.1 0 1 0 -9.5 0M873.6 779.3a4.75 4.1 0 1 0 9.5 0a4.75 4.1 0 1 0 -9.5 0M827.4 749.3a4.75 4.1 0 1 0 9.5 0a4.75 4.1 0 1 0 -9.5 0M884.0 750.0a4.75 4.1 0 1 0 9.5 0a4.75 4.1 0 1 0 -9.5 0M891.9 787.8a4.75 4.1 0 1 0 9.5 0a4.75 4.1 0 1 0 -9.5 0M851.9 770.5a4.75 4.1 0 1 0 9.5 0a4.75 4.1 0 1 0 -9.5 0M889.2 792.6a4.75 4.1 0 1 0 9.5 0a4.75 4.1 0 1 0 -9.5 0M899.1 776.5a4.75 4.1 0 1 0 9.5 0a4.75 4.1 0 1 0 -9.5 0M828.8 783.2a4.75 4.1 0 1 0 9.5 0a4.75 4.1 0 1 0 -9.5 0M865.5 804.2a4.75 4.1 0 1 0 9.5 0a4.75 4.1 0 1 0 -9.5 0M859.6 803.4a4.75 4.1 0 1 0 9.5 0a4.75 4.1 0 1 0 -9.5 0M847.0 751.5a4.75 4.1 0 1 0 9.5 0a4.75 4.1 0 1 0 -9.5 0M841.6 746.9a4.75 4.1 0 1 0 9.5 0a4.75 4.1 0 1 0 -9.5 0M832.6 742.4a4.75 4.1 0 1 0 9.5 0a4.75 4.1 0 1 0 -9.5 0M909.7 746.7a4.75 4.1 0 1 0 9.5 0a4.75 4.1 0 1 0 -9.5 0M866.7 784.0a4.75 4.1 0 1 0 9.5 0a4.75 4.1 0 1 0 -9.5 0M859.5 777.0a4.75 4.1 0 1 0 9.5 0a4.75 4.1 0 1 0 -9.5 0M830.2 741.0a4.75 4.1 0 1 0 9.5 0a4.75 4.1 0 1 0 -9.5 0M881.6 747.7a4.75 4.1 0 1 0 9.5 0a4.75 4.1 0 1 0 -9.5 0M839.6 792.5a4.75 4.1 0 1 0 9.5 0a4.75 4.1 0 1 0 -9.5 0M891.5 793.2a4.75 4.1 0 1 0 9.5 0a4.75 4.1 0 1 0 -9.5 0M907.1 753.8a4.75 4.1 0 1 0 9.5 0a4.75 4.1 0 1 0 -9.5 0M904.9 767.4a4.75 4.1 0 1 0 9.5 0a4.75 4.1 0 1 0 -9.5 0M860.3 802.7a4.75 4.1 0 1 0 9.5 0a4.75 4.1 0 1 0 -9.5 0M840.2 793.7a4.75 4.1 0 1 0 9.5 0a4.75 4.1 0 1 0 -9.5 0M909.7 738.0a4.75 4.1 0 1 0 9.5 0a4.75 4.1 0 1 0 -9.5 0M834.6 788.3a4.75 4.1 0 1 0 9.5 0a4.75 4.1 0 1 0 -9.5 0M901.6 777.1a4.75 4.1 0 1 0 9.5 0a4.75 4.1 0 1 0 -9.5 0M824.5 767.8a4.75 4.1 0 1 0 9.5 0a4.75 4.1 0 1 0 -9.5 0M826.1 772.6a4.75 4.1 0 1 0 9.5 0a4.75 4.1 0 1 0 -9.5 0M883.7 744.4a4.75 4.1 0 1 0 9.5 0a4.75 4.1 0 1 0 -9.5 0M836.4 789.0a4.75 4.1 0 1 0 9.5 0a4.75 4.1 0 1 0 -9.5 0M840.1 745.0a4.75 4.1 0 1 0 9.5 0a4.75 4.1 0 1 0 -9.5 0M856.0 800.9a4.75 4.1 0 1 0 9.5 0a4.75 4.1 0 1 0 -9.5 0M834.9 788.0a4.75 4.1 0 1 0 9.5 0a4.75 4.1 0 1 0 -9.5 0M875.1 765.6a4.75 4.1 0 1 0 9.5 0a4.75 4.1 0 1 0 -9.5 0M824.4 746.8a4.75 4.1 0 1 0 9.5 0a4.75 4.1 0 1 0 -9.5 0M901.5 782.0a4.75 4.1 0 1 0 9.5 0a4.75 4.1 0 1 0 -9.5 0M891.1 735.1a4.75 4.1 0 1 0 9.5 0a4.75 4.1 0 1 0 -9.5 0M858.7 780.3a4.75 4.1 0 1 0 9.5 0a4.75 4.1 0 1 0 -9.5 0M901.6 781.4a4.75 4.1 0 1 0 9.5 0a4.75 4.1 0 1 0 -9.5 0M871.4 772.2a4.75 4.1 0 1 0 9.5 0a4.75 4.1 0 1 0 -9.5 0M873.9 803.3a4.75 4.1 0 1 0 9.5 0a4.75 4.1 0 1 0 -9.5 0M821.7 745.8a4.75 4.1 0 1 0 9.5 0a4.75 4.1 0 1 0 -9.5 0M833.6 728.0a4.75 4.1 0 1 0 9.5 0a4.75 4.1 0 1 0 -9.5 0M837.9 732.9a4.75 4.1 0 1 0 9.5 0a4.75 4.1 0 1 0 -9.5 0M821.5 746.4a4.75 4.1 0 1 0 9.5 0a4.75 4.1 0 1 0 -9.5 0M820.4 735.0a4.75 4.1 0 1 0 9.5 0a4.75 4.1 0 1 0 -9.5 0M821.8 729.7a4.75 4.1 0 1 0 9.5 0a4.75 4.1 0 1 0 -9.5 0M818.5 732.5a4.75 4.1 0 1 0 9.5 0a4.75 4.1 0 1 0 -9.5 0M823.2 731.5a4.75 4.1 0 1 0 9.5 0a4.75 4.1 0 1 0 -9.5 0M844.0 739.1a4.75 4.1 0 1 0 9.5 0a4.75 4.1 0 1 0 -9.5 0M833.3 739.9a4.75 4.1 0 1 0 9.5 0a4.75 4.1 0 1 0 -9.5 0M832.0 729.4a4.75 4.1 0 1 0 9.5 0a4.75 4.1 0 1 0 -9.5 0M824.9 724.6a4.75 4.1 0 1 0 9.5 0a4.75 4.1 0 1 0 -9.5 0M836.4 740.8a4.75 4.1 0 1 0 9.5 0a4.75 4.1 0 1 0 -9.5 0M819.0 732.4a4.75 4.1 0 1 0 9.5 0a4.75 4.1 0 1 0 -9.5 0M834.7 736.6a4.75 4.1 0 1 0 9.5 0a4.75 4.1 0 1 0 -9.5 0M837.6 739.7a4.75 4.1 0 1 0 9.5 0a4.75 4.1 0 1 0 -9.5 0M843.0 743.8a4.75 4.1 0 1 0 9.5 0a4.75 4.1 0 1 0 -9.5 0M837.8 734.7a4.75 4.1 0 1 0 9.5 0a4.75 4.1 0 1 0 -9.5 0M826.7 734.4a4.75 4.1 0 1 0 9.5 0a4.75 4.1 0 1 0 -9.5 0M881.6 743.4a4.75 4.1 0 1 0 9.5 0a4.75 4.1 0 1 0 -9.5 0M902.4 723.4a4.75 4.1 0 1 0 9.5 0a4.75 4.1 0 1 0 -9.5 0M903.1 723.6a4.75 4.1 0 1 0 9.5 0a4.75 4.1 0 1 0 -9.5 0M913.0 736.8a4.75 4.1 0 1 0 9.5 0a4.75 4.1 0 1 0 -9.5 0M913.2 726.9a4.75 4.1 0 1 0 9.5 0a4.75 4.1 0 1 0 -9.5 0M913.7 720.2a4.75 4.1 0 1 0 9.5 0a4.75 4.1 0 1 0 -9.5 0M898.4 717.8a4.75 4.1 0 1 0 9.5 0a4.75 4.1 0 1 0 -9.5 0M893.1 724.1a4.75 4.1 0 1 0 9.5 0a4.75 4.1 0 1 0 -9.5 0M913.3 725.4a4.75 4.1 0 1 0 9.5 0a4.75 4.1 0 1 0 -9.5 0M898.8 724.0a4.75 4.1 0 1 0 9.5 0a4.75 4.1 0 1 0 -9.5 0M912.6 734.6a4.75 4.1 0 1 0 9.5 0a4.75 4.1 0 1 0 -9.5 0M909.0 723.6a4.75 4.1 0 1 0 9.5 0a4.75 4.1 0 1 0 -9.5 0M892.0 727.5a4.75 4.1 0 1 0 9.5 0a4.75 4.1 0 1 0 -9.5 0M910.9 725.1a4.75 4.1 0 1 0 9.5 0a4.75 4.1 0 1 0 -9.5 0M909.2 706.7a4.75 4.1 0 1 0 9.5 0a4.75 4.1 0 1 0 -9.5 0M909.3 716.0a4.75 4.1 0 1 0 9.5 0a4.75 4.1 0 1 0 -9.5 0M902.3 709.8a4.75 4.1 0 1 0 9.5 0a4.75 4.1 0 1 0 -9.5 0M912.9 711.4a4.75 4.1 0 1 0 9.5 0a4.75 4.1 0 1 0 -9.5 0M898.8 719.0a4.75 4.1 0 1 0 9.5 0a4.75 4.1 0 1 0 -9.5 0M899.8 718.9a4.75 4.1 0 1 0 9.5 0a4.75 4.1 0 1 0 -9.5 0M900.0 707.5a4.75 4.1 0 1 0 9.5 0a4.75 4.1 0 1 0 -9.5 0M900.8 712.3a4.75 4.1 0 1 0 9.5 0a4.75 4.1 0 1 0 -9.5 0M906.0 707.9a4.75 4.1 0 1 0 9.5 0a4.75 4.1 0 1 0 -9.5 0M791.3 717.0a4.75 4.1 0 1 0 9.5 0a4.75 4.1 0 1 0 -9.5 0M824.3 676.9a4.75 4.1 0 1 0 9.5 0a4.75 4.1 0 1 0 -9.5 0M793.4 742.7a4.75 4.1 0 1 0 9.5 0a4.75 4.1 0 1 0 -9.5 0M824.5 699.3a4.75 4.1 0 1 0 9.5 0a4.75 4.1 0 1 0 -9.5 0M824.4 660.8a4.75 4.1 0 1 0 9.5 0a4.75 4.1 0 1 0 -9.5 0M810.4 706.7a4.75 4.1 0 1 0 9.5 0a4.75 4.1 0 1 0 -9.5 0M810.8 657.9a4.75 4.1 0 1 0 9.5 0a4.75 4.1 0 1 0 -9.5 0M819.7 653.3a4.75 4.1 0 1 0 9.5 0a4.75 4.1 0 1 0 -9.5 0M799.8 714.3a4.75 4.1 0 1 0 9.5 0a4.75 4.1 0 1 0 -9.5 0M833.0 694.5a4.75 4.1 0 1 0 9.5 0a4.75 4.1 0 1 0 -9.5 0M829.7 717.9a4.75 4.1 0 1 0 9.5 0a4.75 4.1 0 1 0 -9.5 0M831.2 705.2a4.75 4.1 0 1 0 9.5 0a4.75 4.1 0 1 0 -9.5 0M833.4 723.3a4.75 4.1 0 1 0 9.5 0a4.75 4.1 0 1 0 -9.5 0M805.5 697.3a4.75 4.1 0 1 0 9.5 0a4.75 4.1 0 1 0 -9.5 0M802.8 737.5a4.75 4.1 0 1 0 9.5 0a4.75 4.1 0 1 0 -9.5 0M836.8 680.4a4.75 4.1 0 1 0 9.5 0a4.75 4.1 0 1 0 -9.5 0M835.4 674.2a4.75 4.1 0 1 0 9.5 0a4.75 4.1 0 1 0 -9.5 0M806.6 666.4a4.75 4.1 0 1 0 9.5 0a4.75 4.1 0 1 0 -9.5 0M818.8 679.8a4.75 4.1 0 1 0 9.5 0a4.75 4.1 0 1 0 -9.5 0M797.8 724.3a4.75 4.1 0 1 0 9.5 0a4.75 4.1 0 1 0 -9.5 0M828.6 660.7a4.75 4.1 0 1 0 9.5 0a4.75 4.1 0 1 0 -9.5 0M823.2 686.7a4.75 4.1 0 1 0 9.5 0a4.75 4.1 0 1 0 -9.5 0M823.8 693.2a4.75 4.1 0 1 0 9.5 0a4.75 4.1 0 1 0 -9.5 0M815.9 655.3a4.75 4.1 0 1 0 9.5 0a4.75 4.1 0 1 0 -9.5 0M792.8 741.6a4.75 4.1 0 1 0 9.5 0a4.75 4.1 0 1 0 -9.5 0M803.8 723.7a4.75 4.1 0 1 0 9.5 0a4.75 4.1 0 1 0 -9.5 0M810.8 701.0a4.75 4.1 0 1 0 9.5 0a4.75 4.1 0 1 0 -9.5 0M800.2 677.5a4.75 4.1 0 1 0 9.5 0a4.75 4.1 0 1 0 -9.5 0M793.7 736.3a4.75 4.1 0 1 0 9.5 0a4.75 4.1 0 1 0 -9.5 0M835.6 672.9a4.75 4.1 0 1 0 9.5 0a4.75 4.1 0 1 0 -9.5 0M796.7 740.1a4.75 4.1 0 1 0 9.5 0a4.75 4.1 0 1 0 -9.5 0M812.1 669.1a4.75 4.1 0 1 0 9.5 0a4.75 4.1 0 1 0 -9.5 0M841.0 707.2a4.75 4.1 0 1 0 9.5 0a4.75 4.1 0 1 0 -9.5 0M819.9 729.5a4.75 4.1 0 1 0 9.5 0a4.75 4.1 0 1 0 -9.5 0M817.7 656.6a4.75 4.1 0 1 0 9.5 0a4.75 4.1 0 1 0 -9.5 0M802.3 680.0a4.75 4.1 0 1 0 9.5 0a4.75 4.1 0 1 0 -9.5 0M819.0 648.8a4.75 4.1 0 1 0 9.5 0a4.75 4.1 0 1 0 -9.5 0M830.4 645.9a4.75 4.1 0 1 0 9.5 0a4.75 4.1 0 1 0 -9.5 0M791.7 732.6a4.75 4.1 0 1 0 9.5 0a4.75 4.1 0 1 0 -9.5 0M815.0 726.7a4.75 4.1 0 1 0 9.5 0a4.75 4.1 0 1 0 -9.5 0M806.9 751.7a4.75 4.1 0 1 0 9.5 0a4.75 4.1 0 1 0 -9.5 0M803.4 712.9a4.75 4.1 0 1 0 9.5 0a4.75 4.1 0 1 0 -9.5 0M821.1 675.1a4.75 4.1 0 1 0 9.5 0a4.75 4.1 0 1 0 -9.5 0M831.6 710.4a4.75 4.1 0 1 0 9.5 0a4.75 4.1 0 1 0 -9.5 0M804.7 655.9a4.75 4.1 0 1 0 9.5 0a4.75 4.1 0 1 0 -9.5 0M800.5 747.1a4.75 4.1 0 1 0 9.5 0a4.75 4.1 0 1 0 -9.5 0M822.1 654.4a4.75 4.1 0 1 0 9.5 0a4.75 4.1 0 1 0 -9.5 0M804.7 671.4a4.75 4.1 0 1 0 9.5 0a4.75 4.1 0 1 0 -9.5 0M825.1 694.8a4.75 4.1 0 1 0 9.5 0a4.75 4.1 0 1 0 -9.5 0M840.1 691.2a4.75 4.1 0 1 0 9.5 0a4.75 4.1 0 1 0 -9.5 0M793.0 720.0a4.75 4.1 0 1 0 9.5 0a4.75 4.1 0 1 0 -9.5 0M838.3 694.9a4.75 4.1 0 1 0 9.5 0a4.75 4.1 0 1 0 -9.5 0M815.5 718.4a4.75 4.1 0 1 0 9.5 0a4.75 4.1 0 1 0 -9.5 0M824.1 651.1a4.75 4.1 0 1 0 9.5 0a4.75 4.1 0 1 0 -9.5 0M842.7 713.3a4.75 4.1 0 1 0 9.5 0a4.75 4.1 0 1 0 -9.5 0M801.1 712.9a4.75 4.1 0 1 0 9.5 0a4.75 4.1 0 1 0 -9.5 0M799.6 704.7a4.75 4.1 0 1 0 9.5 0a4.75 4.1 0 1 0 -9.5 0M816.1 753.2a4.75 4.1 0 1 0 9.5 0a4.75 4.1 0 1 0 -9.5 0M837.8 714.2a4.75 4.1 0 1 0 9.5 0a4.75 4.1 0 1 0 -9.5 0M823.2 696.1a4.75 4.1 0 1 0 9.5 0a4.75 4.1 0 1 0 -9.5 0M946.3 754.3a4.75 4.1 0 1 0 9.5 0a4.75 4.1 0 1 0 -9.5 0M895.9 695.0a4.75 4.1 0 1 0 9.5 0a4.75 4.1 0 1 0 -9.5 0M903.1 677.8a4.75 4.1 0 1 0 9.5 0a4.75 4.1 0 1 0 -9.5 0M911.0 681.5a4.75 4.1 0 1 0 9.5 0a4.75 4.1 0 1 0 -9.5 0M926.8 713.1a4.75 4.1 0 1 0 9.5 0a4.75 4.1 0 1 0 -9.5 0M942.2 732.8a4.75 4.1 0 1 0 9.5 0a4.75 4.1 0 1 0 -9.5 0M922.2 731.6a4.75 4.1 0 1 0 9.5 0a4.75 4.1 0 1 0 -9.5 0M912.6 651.1a4.75 4.1 0 1 0 9.5 0a4.75 4.1 0 1 0 -9.5 0M898.7 693.7a4.75 4.1 0 1 0 9.5 0a4.75 4.1 0 1 0 -9.5 0M923.5 763.0a4.75 4.1 0 1 0 9.5 0a4.75 4.1 0 1 0 -9.5 0M946.0 727.7a4.75 4.1 0 1 0 9.5 0a4.75 4.1 0 1 0 -9.5 0M930.8 677.5a4.75 4.1 0 1 0 9.5 0a4.75 4.1 0 1 0 -9.5 0M945.3 677.0a4.75 4.1 0 1 0 9.5 0a4.75 4.1 0 1 0 -9.5 0M943.4 705.3a4.75 4.1 0 1 0 9.5 0a4.75 4.1 0 1 0 -9.5 0M925.6 768.8a4.75 4.1 0 1 0 9.5 0a4.75 4.1 0 1 0 -9.5 0M942.1 743.2a4.75 4.1 0 1 0 9.5 0a4.75 4.1 0 1 0 -9.5 0M942.4 759.6a4.75 4.1 0 1 0 9.5 0a4.75 4.1 0 1 0 -9.5 0M889.6 675.1a4.75 4.1 0 1 0 9.5 0a4.75 4.1 0 1 0 -9.5 0M949.5 671.8a4.75 4.1 0 1 0 9.5 0a4.75 4.1 0 1 0 -9.5 0M913.5 675.4a4.75 4.1 0 1 0 9.5 0a4.75 4.1 0 1 0 -9.5 0M901.9 704.0a4.75 4.1 0 1 0 9.5 0a4.75 4.1 0 1 0 -9.5 0M901.0 667.7a4.75 4.1 0 1 0 9.5 0a4.75 4.1 0 1 0 -9.5 0M917.1 712.6a4.75 4.1 0 1 0 9.5 0a4.75 4.1 0 1 0 -9.5 0M924.9 665.4a4.75 4.1 0 1 0 9.5 0a4.75 4.1 0 1 0 -9.5 0M932.5 680.9a4.75 4.1 0 1 0 9.5 0a4.75 4.1 0 1 0 -9.5 0M923.4 667.7a4.75 4.1 0 1 0 9.5 0a4.75 4.1 0 1 0 -9.5 0M932.2 677.0a4.75 4.1 0 1 0 9.5 0a4.75 4.1 0 1 0 -9.5 0M924.1 662.5a4.75 4.1 0 1 0 9.5 0a4.75 4.1 0 1 0 -9.5 0M934.3 712.1a4.75 4.1 0 1 0 9.5 0a4.75 4.1 0 1 0 -9.5 0M946.4 724.0a4.75 4.1 0 1 0 9.5 0a4.75 4.1 0 1 0 -9.5 0M903.6 675.5a4.75 4.1 0 1 0 9.5 0a4.75 4.1 0 1 0 -9.5 0M919.6 701.7a4.75 4.1 0 1 0 9.5 0a4.75 4.1 0 1 0 -9.5 0M926.4 775.9a4.75 4.1 0 1 0 9.5 0a4.75 4.1 0 1 0 -9.5 0M934.6 666.1a4.75 4.1 0 1 0 9.5 0a4.75 4.1 0 1 0 -9.5 0M945.9 688.5a4.75 4.1 0 1 0 9.5 0a4.75 4.1 0 1 0 -9.5 0M940.5 744.5a4.75 4.1 0 1 0 9.5 0a4.75 4.1 0 1 0 -9.5 0M899.3 693.7a4.75 4.1 0 1 0 9.5 0a4.75 4.1 0 1 0 -9.5 0M902.6 663.2a4.75 4.1 0 1 0 9.5 0a4.75 4.1 0 1 0 -9.5 0M920.2 721.9a4.75 4.1 0 1 0 9.5 0a4.75 4.1 0 1 0 -9.5 0M917.6 734.9a4.75 4.1 0 1 0 9.5 0a4.75 4.1 0 1 0 -9.5 0M924.1 667.8a4.75 4.1 0 1 0 9.5 0a4.75 4.1 0 1 0 -9.5 0M892.9 693.0a4.75 4.1 0 1 0 9.5 0a4.75 4.1 0 1 0 -9.5 0M933.9 757.3a4.75 4.1 0 1 0 9.5 0a4.75 4.1 0 1 0 -9.5 0M921.5 765.7a4.75 4.1 0 1 0 9.5 0a4.75 4.1 0 1 0 -9.5 0M930.9 759.2a4.75 4.1 0 1 0 9.5 0a4.75 4.1 0 1 0 -9.5 0M928.8 769.0a4.75 4.1 0 1 0 9.5 0a4.75 4.1 0 1 0 -9.5 0M907.5 681.2a4.75 4.1 0 1 0 9.5 0a4.75 4.1 0 1 0 -9.5 0M928.9 735.3a4.75 4.1 0 1 0 9.5 0a4.75 4.1 0 1 0 -9.5 0M923.4 681.1a4.75 4.1 0 1 0 9.5 0a4.75 4.1 0 1 0 -9.5 0M936.8 737.4a4.75 4.1 0 1 0 9.5 0a4.75 4.1 0 1 0 -9.5 0M917.3 723.8a4.75 4.1 0 1 0 9.5 0a4.75 4.1 0 1 0 -9.5 0M906.0 700.8a4.75 4.1 0 1 0 9.5 0a4.75 4.1 0 1 0 -9.5 0M951.5 666.7a4.75 4.1 0 1 0 9.5 0a4.75 4.1 0 1 0 -9.5 0M919.4 731.1a4.75 4.1 0 1 0 9.5 0a4.75 4.1 0 1 0 -9.5 0M920.0 710.3a4.75 4.1 0 1 0 9.5 0a4.75 4.1 0 1 0 -9.5 0M890.4 697.2a4.75 4.1 0 1 0 9.5 0a4.75 4.1 0 1 0 -9.5 0M913.0 670.7a4.75 4.1 0 1 0 9.5 0a4.75 4.1 0 1 0 -9.5 0M946.3 761.1a4.75 4.1 0 1 0 9.5 0a4.75 4.1 0 1 0 -9.5 0M890.1 679.4a4.75 4.1 0 1 0 9.5 0a4.75 4.1 0 1 0 -9.5 0M891.3 694.6a4.75 4.1 0 1 0 9.5 0a4.75 4.1 0 1 0 -9.5 0M899.8 667.1a4.75 4.1 0 1 0 9.5 0a4.75 4.1 0 1 0 -9.5 0M923.7 707.2a4.75 4.1 0 1 0 9.5 0a4.75 4.1 0 1 0 -9.5 0M918.7 653.1a4.75 4.1 0 1 0 9.5 0a4.75 4.1 0 1 0 -9.5 0M891.4 704.7a4.75 4.1 0 1 0 9.5 0a4.75 4.1 0 1 0 -9.5 0M933.9 758.8a4.75 4.1 0 1 0 9.5 0a4.75 4.1 0 1 0 -9.5 0M913.2 649.5a4.75 4.1 0 1 0 9.5 0a4.75 4.1 0 1 0 -9.5 0M944.6 651.3a4.75 4.1 0 1 0 9.5 0a4.75 4.1 0 1 0 -9.5 0M918.8 683.7a4.75 4.1 0 1 0 9.5 0a4.75 4.1 0 1 0 -9.5 0M927.5 670.4a4.75 4.1 0 1 0 9.5 0a4.75 4.1 0 1 0 -9.5 0M937.6 651.9a4.75 4.1 0 1 0 9.5 0a4.75 4.1 0 1 0 -9.5 0M941.7 651.9a4.75 4.1 0 1 0 9.5 0a4.75 4.1 0 1 0 -9.5 0M948.0 627.5a4.75 4.1 0 1 0 9.5 0a4.75 4.1 0 1 0 -9.5 0M947.9 626.0a4.75 4.1 0 1 0 9.5 0a4.75 4.1 0 1 0 -9.5 0M927.0 615.9a4.75 4.1 0 1 0 9.5 0a4.75 4.1 0 1 0 -9.5 0M933.0 619.5a4.75 4.1 0 1 0 9.5 0a4.75 4.1 0 1 0 -9.5 0M945.9 622.7a4.75 4.1 0 1 0 9.5 0a4.75 4.1 0 1 0 -9.5 0M947.8 635.5a4.75 4.1 0 1 0 9.5 0a4.75 4.1 0 1 0 -9.5 0M920.0 640.9a4.75 4.1 0 1 0 9.5 0a4.75 4.1 0 1 0 -9.5 0M912.3 631.9a4.75 4.1 0 1 0 9.5 0a4.75 4.1 0 1 0 -9.5 0M923.5 618.6a4.75 4.1 0 1 0 9.5 0a4.75 4.1 0 1 0 -9.5 0M941.9 606.0a4.75 4.1 0 1 0 9.5 0a4.75 4.1 0 1 0 -9.5 0M917.6 616.4a4.75 4.1 0 1 0 9.5 0a4.75 4.1 0 1 0 -9.5 0M905.1 632.9a4.75 4.1 0 1 0 9.5 0a4.75 4.1 0 1 0 -9.5 0M946.0 628.9a4.75 4.1 0 1 0 9.5 0a4.75 4.1 0 1 0 -9.5 0M947.1 723.2a4.75 4.1 0 1 0 9.5 0a4.75 4.1 0 1 0 -9.5 0M918.0 751.5a4.75 4.1 0 1 0 9.5 0a4.75 4.1 0 1 0 -9.5 0M913.1 736.2a4.75 4.1 0 1 0 9.5 0a4.75 4.1 0 1 0 -9.5 0M929.6 755.3a4.75 4.1 0 1 0 9.5 0a4.75 4.1 0 1 0 -9.5 0M935.1 751.8a4.75 4.1 0 1 0 9.5 0a4.75 4.1 0 1 0 -9.5 0M914.0 717.4a4.75 4.1 0 1 0 9.5 0a4.75 4.1 0 1 0 -9.5 0M933.1 738.2a4.75 4.1 0 1 0 9.5 0a4.75 4.1 0 1 0 -9.5 0M921.5 742.0a4.75 4.1 0 1 0 9.5 0a4.75 4.1 0 1 0 -9.5 0M930.5 747.5a4.75 4.1 0 1 0 9.5 0a4.75 4.1 0 1 0 -9.5 0M921.9 733.6a4.75 4.1 0 1 0 9.5 0a4.75 4.1 0 1 0 -9.5 0M920.4 752.4a4.75 4.1 0 1 0 9.5 0a4.75 4.1 0 1 0 -9.5 0M942.8 714.1a4.75 4.1 0 1 0 9.5 0a4.75 4.1 0 1 0 -9.5 0M943.0 718.2a4.75 4.1 0 1 0 9.5 0a4.75 4.1 0 1 0 -9.5 0M936.0 711.4a4.75 4.1 0 1 0 9.5 0a4.75 4.1 0 1 0 -9.5 0M922.0 741.7a4.75 4.1 0 1 0 9.5 0a4.75 4.1 0 1 0 -9.5 0M941.7 723.1a4.75 4.1 0 1 0 9.5 0a4.75 4.1 0 1 0 -9.5 0M928.5 749.6a4.75 4.1 0 1 0 9.5 0a4.75 4.1 0 1 0 -9.5 0M937.5 719.0a4.75 4.1 0 1 0 9.5 0a4.75 4.1 0 1 0 -9.5 0M923.8 742.5a4.75 4.1 0 1 0 9.5 0a4.75 4.1 0 1 0 -9.5 0M946.6 729.2a4.75 4.1 0 1 0 9.5 0a4.75 4.1 0 1 0 -9.5 0M931.6 725.3a4.75 4.1 0 1 0 9.5 0a4.75 4.1 0 1 0 -9.5 0M913.7 753.6a4.75 4.1 0 1 0 9.5 0a4.75 4.1 0 1 0 -9.5 0M921.2 756.3a4.75 4.1 0 1 0 9.5 0a4.75 4.1 0 1 0 -9.5 0M924.2 727.7a4.75 4.1 0 1 0 9.5 0a4.75 4.1 0 1 0 -9.5 0M936.5 738.2a4.75 4.1 0 1 0 9.5 0a4.75 4.1 0 1 0 -9.5 0M946.6 732.0a4.75 4.1 0 1 0 9.5 0a4.75 4.1 0 1 0 -9.5 0M941.8 722.7a4.75 4.1 0 1 0 9.5 0a4.75 4.1 0 1 0 -9.5 0M922.3 742.5a4.75 4.1 0 1 0 9.5 0a4.75 4.1 0 1 0 -9.5 0M932.5 722.4a4.75 4.1 0 1 0 9.5 0a4.75 4.1 0 1 0 -9.5 0M924.9 728.6a4.75 4.1 0 1 0 9.5 0a4.75 4.1 0 1 0 -9.5 0M927.6 735.0a4.75 4.1 0 1 0 9.5 0a4.75 4.1 0 1 0 -9.5 0M924.0 719.3a4.75 4.1 0 1 0 9.5 0a4.75 4.1 0 1 0 -9.5 0M920.1 737.2a4.75 4.1 0 1 0 9.5 0a4.75 4.1 0 1 0 -9.5 0M945.6 725.2a4.75 4.1 0 1 0 9.5 0a4.75 4.1 0 1 0 -9.5 0M923.5 721.9a4.75 4.1 0 1 0 9.5 0a4.75 4.1 0 1 0 -9.5 0M943.8 750.3a4.75 4.1 0 1 0 9.5 0a4.75 4.1 0 1 0 -9.5 0M912.3 731.3a4.75 4.1 0 1 0 9.5 0a4.75 4.1 0 1 0 -9.5 0M914.4 735.7a4.75 4.1 0 1 0 9.5 0a4.75 4.1 0 1 0 -9.5 0M928.3 751.6a4.75 4.1 0 1 0 9.5 0a4.75 4.1 0 1 0 -9.5 0M939.4 747.9a4.75 4.1 0 1 0 9.5 0a4.75 4.1 0 1 0 -9.5 0M932.1 746.1a4.75 4.1 0 1 0 9.5 0a4.75 4.1 0 1 0 -9.5 0M943.1 720.0a4.75 4.1 0 1 0 9.5 0a4.75 4.1 0 1 0 -9.5 0M912.8 750.2a4.75 4.1 0 1 0 9.5 0a4.75 4.1 0 1 0 -9.5 0M917.1 752.3a4.75 4.1 0 1 0 9.5 0a4.75 4.1 0 1 0 -9.5 0M936.1 726.7a4.75 4.1 0 1 0 9.5 0a4.75 4.1 0 1 0 -9.5 0M914.5 733.6a4.75 4.1 0 1 0 9.5 0a4.75 4.1 0 1 0 -9.5 0M939.1 739.0a4.75 4.1 0 1 0 9.5 0a4.75 4.1 0 1 0 -9.5 0M933.2 742.3a4.75 4.1 0 1 0 9.5 0a4.75 4.1 0 1 0 -9.5 0M913.7 742.4a4.75 4.1 0 1 0 9.5 0a4.75 4.1 0 1 0 -9.5 0M914.0 717.2a4.75 4.1 0 1 0 9.5 0a4.75 4.1 0 1 0 -9.5 0M944.8 725.7a4.75 4.1 0 1 0 9.5 0a4.75 4.1 0 1 0 -9.5 0M936.4 726.7a4.75 4.1 0 1 0 9.5 0a4.75 4.1 0 1 0 -9.5 0M919.1 733.2a4.75 4.1 0 1 0 9.5 0a4.75 4.1 0 1 0 -9.5 0M933.0 716.3a4.75 4.1 0 1 0 9.5 0a4.75 4.1 0 1 0 -9.5 0M915.0 727.1a4.75 4.1 0 1 0 9.5 0a4.75 4.1 0 1 0 -9.5 0M940.6 739.9a4.75 4.1 0 1 0 9.5 0a4.75 4.1 0 1 0 -9.5 0M926.9 745.7a4.75 4.1 0 1 0 9.5 0a4.75 4.1 0 1 0 -9.5 0M934.7 743.6a4.75 4.1 0 1 0 9.5 0a4.75 4.1 0 1 0 -9.5 0M942.8 743.4a4.75 4.1 0 1 0 9.5 0a4.75 4.1 0 1 0 -9.5 0M943.4 728.3a4.75 4.1 0 1 0 9.5 0a4.75 4.1 0 1 0 -9.5 0M908.2 675.9a4.75 4.1 0 1 0 9.5 0a4.75 4.1 0 1 0 -9.5 0M938.2 689.1a4.75 4.1 0 1 0 9.5 0a4.75 4.1 0 1 0 -9.5 0M944.5 675.5a4.75 4.1 0 1 0 9.5 0a4.75 4.1 0 1 0 -9.5 0M942.7 679.9a4.75 4.1 0 1 0 9.5 0a4.75 4.1 0 1 0 -9.5 0M930.8 679.4a4.75 4.1 0 1 0 9.5 0a4.75 4.1 0 1 0 -9.5 0M905.7 665.0a4.75 4.1 0 1 0 9.5 0a4.75 4.1 0 1 0 -9.5 0M929.7 660.7a4.75 4.1 0 1 0 9.5 0a4.75 4.1 0 1 0 -9.5 0M898.5 690.4a4.75 4.1 0 1 0 9.5 0a4.75 4.1 0 1 0 -9.5 0M934.2 673.8a4.75 4.1 0 1 0 9.5 0a4.75 4.1 0 1 0 -9.5 0M905.1 673.1a4.75 4.1 0 1 0 9.5 0a4.75 4.1 0 1 0 -9.5 0M932.8 655.4a4.75 4.1 0 1 0 9.5 0a4.75 4.1 0 1 0 -9.5 0M939.3 659.2a4.75 4.1 0 1 0 9.5 0a4.75 4.1 0 1 0 -9.5 0M904.0 683.8a4.75 4.1 0 1 0 9.5 0a4.75 4.1 0 1 0 -9.5 0M922.2 656.9a4.75 4.1 0 1 0 9.5 0a4.75 4.1 0 1 0 -9.5 0M935.4 660.3a4.75 4.1 0 1 0 9.5 0a4.75 4.1 0 1 0 -9.5 0M927.1 656.0a4.75 4.1 0 1 0 9.5 0a4.75 4.1 0 1 0 -9.5 0M935.8 676.7a4.75 4.1 0 1 0 9.5 0a4.75 4.1 0 1 0 -9.5 0M916.1 655.3a4.75 4.1 0 1 0 9.5 0a4.75 4.1 0 1 0 -9.5 0M934.7 663.6a4.75 4.1 0 1 0 9.5 0a4.75 4.1 0 1 0 -9.5 0M944.9 688.7a4.75 4.1 0 1 0 9.5 0a4.75 4.1 0 1 0 -9.5 0" fill="none" stroke="#000" stroke-width="1.8"/>
<path d="M1094.8 79.3a4.75 4.1 0 1 0 9.5 0a4.75 4.1 0 1 0 -9.5 0M1029.5 235.2a4.75 4.1 0 1 0 9.5 0a4.75 4.1 0 1 0 -9.5 0M1061.7 282.1a4.75 4.1 0 1 0 9.5 0a4.75 4.1 0 1 0 -9.5 0M1009.2 288.2a4.75 4.1 0 1 0 9.5 0a4.75 4.1 0 1 0 -9.5 0M1077.8 307.7a4.75 4.1 0 1 0 9.5 0a4.75 4.1 0 1 0 -9.5 0M1085.6 306.0a4.75 4.1 0 1 0 9.5 0a4.75 4.1 0 1 0 -9.5 0M1093.6 308.0a4.75 4.1 0 1 0 9.5 0a4.75 4.1 0 1 0 -9.5 0M1083.6 314.0a4.75 4.1 0 1 0 9.5 0a4.75 4.1 0 1 0 -9.5 0M1107.3 317.4a4.75 4.1 0 1 0 9.5 0a4.75 4.1 0 1 0 -9.5 0M995.4 318.1a4.75 4.1 0 1 0 9.5 0a4.75 4.1 0 1 0 -9.5 0M1016.0 320.1a4.75 4.1 0 1 0 9.5 0a4.75 4.1 0 1 0 -9.5 0M1017.2 336.7a4.75 4.1 0 1 0 9.5 0a4.75 4.1 0 1 0 -9.5 0M1004.9 343.7a4.75 4.1 0 1 0 9.5 0a4.75 4.1 0 1 0 -9.5 0M1118.9 342.5a4.75 4.1 0 1 0 9.5 0a4.75 4.1 0 1 0 -9.5 0M1140.7 348.3a4.75 4.1 0 1 0 9.5 0a4.75 4.1 0 1 0 -9.5 0M997.1 353.2a4.75 4.1 0 1 0 9.5 0a4.75 4.1 0 1 0 -9.5 0M1056.8 355.3a4.75 4.1 0 1 0 9.5 0a4.75 4.1 0 1 0 -9.5 0M1194.8 354.4a4.75 4.1 0 1 0 9.5 0a4.75 4.1 0 1 0 -9.5 0M1014.5 359.9a4.75 4.1 0 1 0 9.5 0a4.75 4.1 0 1 0 -9.5 0M1074.5 363.0a4.75 4.1 0 1 0 9.5 0a4.75 4.1 0 1 0 -9.5 0M1003.6 366.1a4.75 4.1 0 1 0 9.5 0a4.75 4.1 0 1 0 -9.5 0M1050.9 368.1a4.75 4.1 0 1 0 9.5 0a4.75 4.1 0 1 0 -9.5 0M982.9 371.4a4.75 4.1 0 1 0 9.5 0a4.75 4.1 0 1 0 -9.5 0M971.0 374.3a4.75 4.1 0 1 0 9.5 0a4.75 4.1 0 1 0 -9.5 0M1103.3 370.8a4.75 4.1 0 1 0 9.5 0a4.75 4.1 0 1 0 -9.5 0M1112.5 373.7a4.75 4.1 0 1 0 9.5 0a4.75 4.1 0 1 0 -9.5 0M1199.4 376.4a4.75 4.1 0 1 0 9.5 0a4.75 4.1 0 1 0 -9.5 0M1095.3 385.3a4.75 4.1 0 1 0 9.5 0a4.75 4.1 0 1 0 -9.5 0M1124.7 386.8a4.75 4.1 0 1 0 9.5 0a4.75 4.1 0 1 0 -9.5 0M1158.6 387.5a4.75 4.1 0 1 0 9.5 0a4.75 4.1 0 1 0 -9.5 0M1046.5 390.6a4.75 4.1 0 1 0 9.5 0a4.75 4.1 0 1 0 -9.5 0M1133.6 394.0a4.75 4.1 0 1 0 9.5 0a4.75 4.1 0 1 0 -9.5 0M1104.6 398.0a4.75 4.1 0 1 0 9.5 0a4.75 4.1 0 1 0 -9.5 0M973.7 404.5a4.75 4.1 0 1 0 9.5 0a4.75 4.1 0 1 0 -9.5 0M1005.6 406.5a4.75 4.1 0 1 0 9.5 0a4.75 4.1 0 1 0 -9.5 0M1076.5 404.4a4.75 4.1 0 1 0 9.5 0a4.75 4.1 0 1 0 -9.5 0M985.5 413.2a4.75 4.1 0 1 0 9.5 0a4.75 4.1 0 1 0 -9.5 0M1046.7 409.6a4.75 4.1 0 1 0 9.5 0a4.75 4.1 0 1 0 -9.5 0M1065.0 416.0a4.75 4.1 0 1 0 9.5 0a4.75 4.1 0 1 0 -9.5 0M1087.2 417.2a4.75 4.1 0 1 0 9.5 0a4.75 4.1 0 1 0 -9.5 0M1005.6 422.1a4.75 4.1 0 1 0 9.5 0a4.75 4.1 0 1 0 -9.5 0M1075.4 422.1a4.75 4.1 0 1 0 9.5 0a4.75 4.1 0 1 0 -9.5 0M1079.4 427.9a4.75 4.1 0 1 0 9.5 0a4.75 4.1 0 1 0 -9.5 0M1118.0 428.6a4.75 4.1 0 1 0 9.5 0a4.75 4.1 0 1 0 -9.5 0M1125.6 433.7a4.75 4.1 0 1 0 9.5 0a4.75 4.1 0 1 0 -9.5 0M1168.9 432.1a4.75 4.1 0 1 0 9.5 0a4.75 4.1 0 1 0 -9.5 0M1013.4 434.3a4.75 4.1 0 1 0 9.5 0a4.75 4.1 0 1 0 -9.5 0M1025.3 433.4a4.75 4.1 0 1 0 9.5 0a4.75 4.1 0 1 0 -9.5 0M1030.8 438.1a4.75 4.1 0 1 0 9.5 0a4.75 4.1 0 1 0 -9.5 0M1064.5 434.1a4.75 4.1 0 1 0 9.5 0a4.75 4.1 0 1 0 -9.5 0M1074.8 435.7a4.75 4.1 0 1 0 9.5 0a4.75 4.1 0 1 0 -9.5 0M1077.0 436.1a4.75 4.1 0 1 0 9.5 0a4.75 4.1 0 1 0 -9.5 0M959.5 439.2a4.75 4.1 0 1 0 9.5 0a4.75 4.1 0 1 0 -9.5 0M974.8 439.9a4.75 4.1 0 1 0 9.5 0a4.75 4.1 0 1 0 -9.5 0M980.6 440.2a4.75 4.1 0 1 0 9.5 0a4.75 4.1 0 1 0 -9.5 0M992.7 440.4a4.75 4.1 0 1 0 9.5 0a4.75 4.1 0 1 0 -9.5 0M1012.3 442.1a4.75 4.1 0 1 0 9.5 0a4.75 4.1 0 1 0 -9.5 0M1058.0 440.8a4.75 4.1 0 1 0 9.5 0a4.75 4.1 0 1 0 -9.5 0M1052.2 445.0a4.75 4.1 0 1 0 9.5 0a4.75 4.1 0 1 0 -9.5 0M1073.9 439.3a4.75 4.1 0 1 0 9.5 0a4.75 4.1 0 1 0 -9.5 0M1073.0 442.4a4.75 4.1 0 1 0 9.5 0a4.75 4.1 0 1 0 -9.5 0M1097.7 438.1a4.75 4.1 0 1 0 9.5 0a4.75 4.1 0 1 0 -9.5 0M1201.7 439.2a4.75 4.1 0 1 0 9.5 0a4.75 4.1 0 1 0 -9.5 0M1154.0 443.3a4.75 4.1 0 1 0 9.5 0a4.75 4.1 0 1 0 -9.5 0M1158.2 446.6a4.75 4.1 0 1 0 9.5 0a4.75 4.1 0 1 0 -9.5 0M1096.2 446.9a4.75 4.1 0 1 0 9.5 0a4.75 4.1 0 1 0 -9.5 0M1105.3 448.8a4.75 4.1 0 1 0 9.5 0a4.75 4.1 0 1 0 -9.5 0M1073.9 447.9a4.75 4.1 0 1 0 9.5 0a4.75 4.1 0 1 0 -9.5 0M1079.4 451.5a4.75 4.1 0 1 0 9.5 0a4.75 4.1 0 1 0 -9.5 0M983.3 452.7a4.75 4.1 0 1 0 9.5 0a4.75 4.1 0 1 0 -9.5 0M971.0 455.1a4.75 4.1 0 1 0 9.5 0a4.75 4.1 0 1 0 -9.5 0M1131.0 452.0a4.75 4.1 0 1 0 9.5 0a4.75 4.1 0 1 0 -9.5 0M1138.3 455.6a4.75 4.1 0 1 0 9.5 0a4.75 4.1 0 1 0 -9.5 0M1175.8 451.1a4.75 4.1 0 1 0 9.5 0a4.75 4.1 0 1 0 -9.5 0M1125.6 456.0a4.75 4.1 0 1 0 9.5 0a4.75 4.1 0 1 0 -9.5 0M977.3 460.5a4.75 4.1 0 1 0 9.5 0a4.75 4.1 0 1 0 -9.5 0M993.3 461.8a4.75 4.1 0 1 0 9.5 0a4.75 4.1 0 1 0 -9.5 0M1086.1 457.8a4.75 4.1 0 1 0 9.5 0a4.75 4.1 0 1 0 -9.5 0M1086.6 461.8a4.75 4.1 0 1 0 9.5 0a4.75 4.1 0 1 0 -9.5 0M1124.7 461.4a4.75 4.1 0 1 0 9.5 0a4.75 4.1 0 1 0 -9.5 0M1169.1 464.7a4.75 4.1 0 1 0 9.5 0a4.75 4.1 0 1 0 -9.5 0M1058.5 464.7a4.75 4.1 0 1 0 9.5 0a4.75 4.1 0 1 0 -9.5 0M1066.1 464.7a4.75 4.1 0 1 0 9.5 0a4.75 4.1 0 1 0 -9.5 0M1028.1 470.0a4.75 4.1 0 1 0 9.5 0a4.75 4.1 0 1 0 -9.5 0M1073.0 470.5a4.75 4.1 0 1 0 9.5 0a4.75 4.1 0 1 0 -9.5 0M980.9 474.7a4.75 4.1 0 1 0 9.5 0a4.75 4.1 0 1 0 -9.5 0M1042.2 476.0a4.75 4.1 0 1 0 9.5 0a4.75 4.1 0 1 0 -9.5 0M1019.5 477.4a4.75 4.1 0 1 0 9.5 0a4.75 4.1 0 1 0 -9.5 0M1065.8 476.9a4.75 4.1 0 1 0 9.5 0a4.75 4.1 0 1 0 -9.5 0M1069.4 478.7a4.75 4.1 0 1 0 9.5 0a4.75 4.1 0 1 0 -9.5 0M1083.0 476.0a4.75 4.1 0 1 0 9.5 0a4.75 4.1 0 1 0 -9.5 0M1093.0 479.6a4.75 4.1 0 1 0 9.5 0a4.75 4.1 0 1 0 -9.5 0M1122.9 477.8a4.75 4.1 0 1 0 9.5 0a4.75 4.1 0 1 0 -9.5 0M1149.5 478.1a4.75 4.1 0 1 0 9.5 0a4.75 4.1 0 1 0 -9.5 0M999.6 483.2a4.75 4.1 0 1 0 9.5 0a4.75 4.1 0 1 0 -9.5 0M1009.2 481.8a4.75 4.1 0 1 0 9.5 0a4.75 4.1 0 1 0 -9.5 0M1034.9 483.2a4.75 4.1 0 1 0 9.5 0a4.75 4.1 0 1 0 -9.5 0M981.5 485.9a4.75 4.1 0 1 0 9.5 0a4.75 4.1 0 1 0 -9.5 0M1077.5 484.1a4.75 4.1 0 1 0 9.5 0a4.75 4.1 0 1 0 -9.5 0M1085.7 485.0a4.75 4.1 0 1 0 9.5 0a4.75 4.1 0 1 0 -9.5 0M1093.0 485.0a4.75 4.1 0 1 0 9.5 0a4.75 4.1 0 1 0 -9.5 0M1118.0 483.2a4.75 4.1 0 1 0 9.5 0a4.75 4.1 0 1 0 -9.5 0M1151.9 487.2a4.75 4.1 0 1 0 9.5 0a4.75 4.1 0 1 0 -9.5 0M1160.0 487.7a4.75 4.1 0 1 0 9.5 0a4.75 4.1 0 1 0 -9.5 0M974.2 493.2a4.75 4.1 0 1 0 9.5 0a4.75 4.1 0 1 0 -9.5 0M990.5 495.0a4.75 4.1 0 1 0 9.5 0a4.75 4.1 0 1 0 -9.5 0M997.8 495.0a4.75 4.1 0 1 0 9.5 0a4.75 4.1 0 1 0 -9.5 0M1033.1 494.1a4.75 4.1 0 1 0 9.5 0a4.75 4.1 0 1 0 -9.5 0M1035.9 495.5a4.75 4.1 0 1 0 9.5 0a4.75 4.1 0 1 0 -9.5 0M1067.2 490.5a4.75 4.1 0 1 0 9.5 0a4.75 4.1 0 1 0 -9.5 0M1078.5 488.6a4.75 4.1 0 1 0 9.5 0a4.75 4.1 0 1 0 -9.5 0M1089.3 489.0a4.75 4.1 0 1 0 9.5 0a4.75 4.1 0 1 0 -9.5 0M1095.7 491.4a4.75 4.1 0 1 0 9.5 0a4.75 4.1 0 1 0 -9.5 0M1114.3 491.0a4.75 4.1 0 1 0 9.5 0a4.75 4.1 0 1 0 -9.5 0M954.3 496.8a4.75 4.1 0 1 0 9.5 0a4.75 4.1 0 1 0 -9.5 0M952.5 501.3a4.75 4.1 0 1 0 9.5 0a4.75 4.1 0 1 0 -9.5 0M982.4 500.4a4.75 4.1 0 1 0 9.5 0a4.75 4.1 0 1 0 -9.5 0M1007.8 499.5a4.75 4.1 0 1 0 9.5 0a4.75 4.1 0 1 0 -9.5 0M1023.7 501.3a4.75 4.1 0 1 0 9.5 0a4.75 4.1 0 1 0 -9.5 0M1050.4 502.2a4.75 4.1 0 1 0 9.5 0a4.75 4.1 0 1 0 -9.5 0M1079.4 503.7a4.75 4.1 0 1 0 9.5 0a4.75 4.1 0 1 0 -9.5 0M1090.8 501.9a4.75 4.1 0 1 0 9.5 0a4.75 4.1 0 1 0 -9.5 0M1101.1 500.4a4.75 4.1 0 1 0 9.5 0a4.75 4.1 0 1 0 -9.5 0M1104.7 503.1a4.75 4.1 0 1 0 9.5 0a4.75 4.1 0 1 0 -9.5 0M1110.2 503.7a4.75 4.1 0 1 0 9.5 0a4.75 4.1 0 1 0 -9.5 0M1146.4 499.5a4.75 4.1 0 1 0 9.5 0a4.75 4.1 0 1 0 -9.5 0M1151.0 499.5a4.75 4.1 0 1 0 9.5 0a4.75 4.1 0 1 0 -9.5 0M1234.3 504.0a4.75 4.1 0 1 0 9.5 0a4.75 4.1 0 1 0 -9.5 0M973.3 507.7a4.75 4.1 0 1 0 9.5 0a4.75 4.1 0 1 0 -9.5 0M977.8 508.6a4.75 4.1 0 1 0 9.5 0a4.75 4.1 0 1 0 -9.5 0M986.9 511.3a4.75 4.1 0 1 0 9.5 0a4.75 4.1 0 1 0 -9.5 0M1003.8 507.7a4.75 4.1 0 1 0 9.5 0a4.75 4.1 0 1 0 -9.5 0M1024.1 509.5a4.75 4.1 0 1 0 9.5 0a4.75 4.1 0 1 0 -9.5 0M1042.2 507.7a4.75 4.1 0 1 0 9.5 0a4.75 4.1 0 1 0 -9.5 0M1051.3 509.5a4.75 4.1 0 1 0 9.5 0a4.75 4.1 0 1 0 -9.5 0M1060.3 506.8a4.75 4.1 0 1 0 9.5 0a4.75 4.1 0 1 0 -9.5 0M1062.1 508.6a4.75 4.1 0 1 0 9.5 0a4.75 4.1 0 1 0 -9.5 0M1101.7 507.7a4.75 4.1 0 1 0 9.5 0a4.75 4.1 0 1 0 -9.5 0M1113.3 513.7a4.75 4.1 0 1 0 9.5 0a4.75 4.1 0 1 0 -9.5 0M958.8 523.1a4.75 4.1 0 1 0 9.5 0a4.75 4.1 0 1 0 -9.5 0M962.4 522.2a4.75 4.1 0 1 0 9.5 0a4.75 4.1 0 1 0 -9.5 0M984.2 524.9a4.75 4.1 0 1 0 9.5 0a4.75 4.1 0 1 0 -9.5 0M996.0 518.5a4.75 4.1 0 1 0 9.5 0a4.75 4.1 0 1 0 -9.5 0M997.8 515.8a4.75 4.1 0 1 0 9.5 0a4.75 4.1 0 1 0 -9.5 0M1019.5 521.3a4.75 4.1 0 1 0 9.5 0a4.75 4.1 0 1 0 -9.5 0M1040.4 521.3a4.75 4.1 0 1 0 9.5 0a4.75 4.1 0 1 0 -9.5 0M1048.5 519.5a4.75 4.1 0 1 0 9.5 0a4.75 4.1 0 1 0 -9.5 0M1049.4 523.1a4.75 4.1 0 1 0 9.5 0a4.75 4.1 0 1 0 -9.5 0M1146.4 520.0a4.75 4.1 0 1 0 9.5 0a4.75 4.1 0 1 0 -9.5 0M1195.7 524.0a4.75 4.1 0 1 0 9.5 0a4.75 4.1 0 1 0 -9.5 0M969.7 530.3a4.75 4.1 0 1 0 9.5 0a4.75 4.1 0 1 0 -9.5 0M982.4 532.1a4.75 4.1 0 1 0 9.5 0a4.75 4.1 0 1 0 -9.5 0M1025.9 529.4a4.75 4.1 0 1 0 9.5 0a4.75 4.1 0 1 0 -9.5 0M1018.6 533.1a4.75 4.1 0 1 0 9.5 0a4.75 4.1 0 1 0 -9.5 0M1038.6 533.1a4.75 4.1 0 1 0 9.5 0a4.75 4.1 0 1 0 -9.5 0M1045.8 534.0a4.75 4.1 0 1 0 9.5 0a4.75 4.1 0 1 0 -9.5 0M1050.4 527.6a4.75 4.1 0 1 0 9.5 0a4.75 4.1 0 1 0 -9.5 0M1060.3 530.3a4.75 4.1 0 1 0 9.5 0a4.75 4.1 0 1 0 -9.5 0M1065.8 534.0a4.75 4.1 0 1 0 9.5 0a4.75 4.1 0 1 0 -9.5 0M1075.7 536.7a4.75 4.1 0 1 0 9.5 0a4.75 4.1 0 1 0 -9.5 0M1089.7 532.1a4.75 4.1 0 1 0 9.5 0a4.75 4.1 0 1 0 -9.5 0M1097.5 539.0a4.75 4.1 0 1 0 9.5 0a4.75 4.1 0 1 0 -9.5 0M1118.3 536.7a4.75 4.1 0 1 0 9.5 0a4.75 4.1 0 1 0 -9.5 0M1127.4 534.9a4.75 4.1 0 1 0 9.5 0a4.75 4.1 0 1 0 -9.5 0M1135.6 534.3a4.75 4.1 0 1 0 9.5 0a4.75 4.1 0 1 0 -9.5 0M1149.1 529.4a4.75 4.1 0 1 0 9.5 0a4.75 4.1 0 1 0 -9.5 0M1180.9 530.3a4.75 4.1 0 1 0 9.5 0a4.75 4.1 0 1 0 -9.5 0M967.9 540.3a4.75 4.1 0 1 0 9.5 0a4.75 4.1 0 1 0 -9.5 0M983.3 537.6a4.75 4.1 0 1 0 9.5 0a4.75 4.1 0 1 0 -9.5 0M996.0 536.7a4.75 4.1 0 1 0 9.5 0a4.75 4.1 0 1 0 -9.5 0M1005.9 541.2a4.75 4.1 0 1 0 9.5 0a4.75 4.1 0 1 0 -9.5 0M1015.9 543.0a4.75 4.1 0 1 0 9.5 0a4.75 4.1 0 1 0 -9.5 0M1024.1 544.8a4.75 4.1 0 1 0 9.5 0a4.75 4.1 0 1 0 -9.5 0M1028.6 544.8a4.75 4.1 0 1 0 9.5 0a4.75 4.1 0 1 0 -9.5 0M1032.2 544.8a4.75 4.1 0 1 0 9.5 0a4.75 4.1 0 1 0 -9.5 0M1037.7 538.5a4.75 4.1 0 1 0 9.5 0a4.75 4.1 0 1 0 -9.5 0M1049.4 544.8a4.75 4.1 0 1 0 9.5 0a4.75 4.1 0 1 0 -9.5 0M1066.7 539.4a4.75 4.1 0 1 0 9.5 0a4.75 4.1 0 1 0 -9.5 0M972.4 546.6a4.75 4.1 0 1 0 9.5 0a4.75 4.1 0 1 0 -9.5 0M985.1 547.6a4.75 4.1 0 1 0 9.5 0a4.75 4.1 0 1 0 -9.5 0M963.3 553.9a4.75 4.1 0 1 0 9.5 0a4.75 4.1 0 1 0 -9.5 0M967.0 557.5a4.75 4.1 0 1 0 9.5 0a4.75 4.1 0 1 0 -9.5 0M1064.0 551.2a4.75 4.1 0 1 0 9.5 0a4.75 4.1 0 1 0 -9.5 0M1072.1 550.3a4.75 4.1 0 1 0 9.5 0a4.75 4.1 0 1 0 -9.5 0M1073.0 553.9a4.75 4.1 0 1 0 9.5 0a4.75 4.1 0 1 0 -9.5 0M1141.0 550.3a4.75 4.1 0 1 0 9.5 0a4.75 4.1 0 1 0 -9.5 0M1168.2 553.0a4.75 4.1 0 1 0 9.5 0a4.75 4.1 0 1 0 -9.5 0M1211.7 548.5a4.75 4.1 0 1 0 9.5 0a4.75 4.1 0 1 0 -9.5 0M1155.5 557.5a4.75 4.1 0 1 0 9.5 0a4.75 4.1 0 1 0 -9.5 0M1137.4 555.7a4.75 4.1 0 1 0 9.5 0a4.75 4.1 0 1 0 -9.5 0M1258.7 474.1a4.75 4.1 0 1 0 9.5 0a4.75 4.1 0 1 0 -9.5 0M1330.2 512.3a4.75 4.1 0 1 0 9.5 0a4.75 4.1 0 1 0 -9.5 0M1344.0 520.3a4.75 4.1 0 1 0 9.5 0a4.75 4.1 0 1 0 -9.5 0M1269.8 532.9a4.75 4.1 0 1 0 9.5 0a4.75 4.1 0 1 0 -9.5 0M1357.3 541.1a4.75 4.1 0 1 0 9.5 0a4.75 4.1 0 1 0 -9.5 0M1426.9 533.4a4.75 4.1 0 1 0 9.5 0a4.75 4.1 0 1 0 -9.5 0M1308.5 559.2a4.75 4.1 0 1 0 9.5 0a4.75 4.1 0 1 0 -9.5 0M1243.7 578.5a4.75 4.1 0 1 0 9.5 0a4.75 4.1 0 1 0 -9.5 0M1317.9 581.7a4.75 4.1 0 1 0 9.5 0a4.75 4.1 0 1 0 -9.5 0M978.8 567.7a4.75 4.1 0 1 0 9.5 0a4.75 4.1 0 1 0 -9.5 0M989.6 568.6a4.75 4.1 0 1 0 9.5 0a4.75 4.1 0 1 0 -9.5 0M1013.2 571.3a4.75 4.1 0 1 0 9.5 0a4.75 4.1 0 1 0 -9.5 0M1025.9 573.1a4.75 4.1 0 1 0 9.5 0a4.75 4.1 0 1 0 -9.5 0M1034.0 569.5a4.75 4.1 0 1 0 9.5 0a4.75 4.1 0 1 0 -9.5 0M1103.8 565.9a4.75 4.1 0 1 0 9.5 0a4.75 4.1 0 1 0 -9.5 0M1110.7 567.7a4.75 4.1 0 1 0 9.5 0a4.75 4.1 0 1 0 -9.5 0M1140.1 571.3a4.75 4.1 0 1 0 9.5 0a4.75 4.1 0 1 0 -9.5 0M1135.6 576.8a4.75 4.1 0 1 0 9.5 0a4.75 4.1 0 1 0 -9.5 0M1125.6 577.7a4.75 4.1 0 1 0 9.5 0a4.75 4.1 0 1 0 -9.5 0M1088.4 576.4a4.75 4.1 0 1 0 9.5 0a4.75 4.1 0 1 0 -9.5 0M1160.9 575.3a4.75 4.1 0 1 0 9.5 0a4.75 4.1 0 1 0 -9.5 0M1167.3 581.3a4.75 4.1 0 1 0 9.5 0a4.75 4.1 0 1 0 -9.5 0M1172.7 582.2a4.75 4.1 0 1 0 9.5 0a4.75 4.1 0 1 0 -9.5 0M958.8 575.8a4.75 4.1 0 1 0 9.5 0a4.75 4.1 0 1 0 -9.5 0M965.2 578.6a4.75 4.1 0 1 0 9.5 0a4.75 4.1 0 1 0 -9.5 0M974.2 580.4a4.75 4.1 0 1 0 9.5 0a4.75 4.1 0 1 0 -9.5 0M1007.8 577.7a4.75 4.1 0 1 0 9.5 0a4.75 4.1 0 1 0 -9.5 0M1009.6 582.2a4.75 4.1 0 1 0 9.5 0a4.75 4.1 0 1 0 -9.5 0M1004.1 575.8a4.75 4.1 0 1 0 9.5 0a4.75 4.1 0 1 0 -9.5 0M997.8 584.9a4.75 4.1 0 1 0 9.5 0a4.75 4.1 0 1 0 -9.5 0M994.2 589.4a4.75 4.1 0 1 0 9.5 0a4.75 4.1 0 1 0 -9.5 0M982.4 589.4a4.75 4.1 0 1 0 9.5 0a4.75 4.1 0 1 0 -9.5 0M962.4 590.3a4.75 4.1 0 1 0 9.5 0a4.75 4.1 0 1 0 -9.5 0M988.7 594.0a4.75 4.1 0 1 0 9.5 0a4.75 4.1 0 1 0 -9.5 0M1000.5 596.7a4.75 4.1 0 1 0 9.5 0a4.75 4.1 0 1 0 -9.5 0M978.8 597.6a4.75 4.1 0 1 0 9.5 0a4.75 4.1 0 1 0 -9.5 0M1028.6 592.2a4.75 4.1 0 1 0 9.5 0a4.75 4.1 0 1 0 -9.5 0M1025.9 595.8a4.75 4.1 0 1 0 9.5 0a4.75 4.1 0 1 0 -9.5 0M1072.1 590.9a4.75 4.1 0 1 0 9.5 0a4.75 4.1 0 1 0 -9.5 0M1097.5 591.3a4.75 4.1 0 1 0 9.5 0a4.75 4.1 0 1 0 -9.5 0M1112.0 590.0a4.75 4.1 0 1 0 9.5 0a4.75 4.1 0 1 0 -9.5 0M1122.0 588.5a4.75 4.1 0 1 0 9.5 0a4.75 4.1 0 1 0 -9.5 0M1133.7 584.0a4.75 4.1 0 1 0 9.5 0a4.75 4.1 0 1 0 -9.5 0M1131.0 578.6a4.75 4.1 0 1 0 9.5 0a4.75 4.1 0 1 0 -9.5 0M958.8 603.0a4.75 4.1 0 1 0 9.5 0a4.75 4.1 0 1 0 -9.5 0M972.4 607.6a4.75 4.1 0 1 0 9.5 0a4.75 4.1 0 1 0 -9.5 0M987.8 603.9a4.75 4.1 0 1 0 9.5 0a4.75 4.1 0 1 0 -9.5 0M1015.0 603.0a4.75 4.1 0 1 0 9.5 0a4.75 4.1 0 1 0 -9.5 0M1020.4 604.8a4.75 4.1 0 1 0 9.5 0a4.75 4.1 0 1 0 -9.5 0M1005.0 608.5a4.75 4.1 0 1 0 9.5 0a4.75 4.1 0 1 0 -9.5 0M1007.8 611.2a4.75 4.1 0 1 0 9.5 0a4.75 4.1 0 1 0 -9.5 0M1102.0 599.4a4.75 4.1 0 1 0 9.5 0a4.75 4.1 0 1 0 -9.5 0M1083.0 603.9a4.75 4.1 0 1 0 9.5 0a4.75 4.1 0 1 0 -9.5 0M1093.0 606.7a4.75 4.1 0 1 0 9.5 0a4.75 4.1 0 1 0 -9.5 0M1104.7 609.4a4.75 4.1 0 1 0 9.5 0a4.75 4.1 0 1 0 -9.5 0M1048.5 606.7a4.75 4.1 0 1 0 9.5 0a4.75 4.1 0 1 0 -9.5 0M1062.1 606.7a4.75 4.1 0 1 0 9.5 0a4.75 4.1 0 1 0 -9.5 0M1044.0 613.0a4.75 4.1 0 1 0 9.5 0a4.75 4.1 0 1 0 -9.5 0M1060.3 615.7a4.75 4.1 0 1 0 9.5 0a4.75 4.1 0 1 0 -9.5 0M1131.9 611.2a4.75 4.1 0 1 0 9.5 0a4.75 4.1 0 1 0 -9.5 0M1167.3 613.0a4.75 4.1 0 1 0 9.5 0a4.75 4.1 0 1 0 -9.5 0M1019.5 613.0a4.75 4.1 0 1 0 9.5 0a4.75 4.1 0 1 0 -9.5 0M1034.9 618.4a4.75 4.1 0 1 0 9.5 0a4.75 4.1 0 1 0 -9.5 0M980.6 617.5a4.75 4.1 0 1 0 9.5 0a4.75 4.1 0 1 0 -9.5 0M984.2 619.4a4.75 4.1 0 1 0 9.5 0a4.75 4.1 0 1 0 -9.5 0M993.3 618.4a4.75 4.1 0 1 0 9.5 0a4.75 4.1 0 1 0 -9.5 0M995.1 623.0a4.75 4.1 0 1 0 9.5 0a4.75 4.1 0 1 0 -9.5 0M1012.3 621.2a4.75 4.1 0 1 0 9.5 0a4.75 4.1 0 1 0 -9.5 0M959.7 620.3a4.75 4.1 0 1 0 9.5 0a4.75 4.1 0 1 0 -9.5 0M968.8 625.7a4.75 4.1 0 1 0 9.5 0a4.75 4.1 0 1 0 -9.5 0M1112.9 622.1a4.75 4.1 0 1 0 9.5 0a4.75 4.1 0 1 0 -9.5 0M1097.5 624.8a4.75 4.1 0 1 0 9.5 0a4.75 4.1 0 1 0 -9.5 0M957.0 627.5a4.75 4.1 0 1 0 9.5 0a4.75 4.1 0 1 0 -9.5 0M1049.4 626.6a4.75 4.1 0 1 0 9.5 0a4.75 4.1 0 1 0 -9.5 0M1062.1 629.3a4.75 4.1 0 1 0 9.5 0a4.75 4.1 0 1 0 -9.5 0M1074.8 629.3a4.75 4.1 0 1 0 9.5 0a4.75 4.1 0 1 0 -9.5 0M1022.3 629.3a4.75 4.1 0 1 0 9.5 0a4.75 4.1 0 1 0 -9.5 0M1018.6 631.1a4.75 4.1 0 1 0 9.5 0a4.75 4.1 0 1 0 -9.5 0M1044.9 632.9a4.75 4.1 0 1 0 9.5 0a4.75 4.1 0 1 0 -9.5 0M1054.0 632.9a4.75 4.1 0 1 0 9.5 0a4.75 4.1 0 1 0 -9.5 0M988.7 633.9a4.75 4.1 0 1 0 9.5 0a4.75 4.1 0 1 0 -9.5 0M1008.7 634.8a4.75 4.1 0 1 0 9.5 0a4.75 4.1 0 1 0 -9.5 0M1039.5 636.6a4.75 4.1 0 1 0 9.5 0a4.75 4.1 0 1 0 -9.5 0M1035.9 638.4a4.75 4.1 0 1 0 9.5 0a4.75 4.1 0 1 0 -9.5 0M1071.2 635.7a4.75 4.1 0 1 0 9.5 0a4.75 4.1 0 1 0 -9.5 0M1069.4 639.3a4.75 4.1 0 1 0 9.5 0a4.75 4.1 0 1 0 -9.5 0M1091.1 634.2a4.75 4.1 0 1 0 9.5 0a4.75 4.1 0 1 0 -9.5 0M1149.1 634.2a4.75 4.1 0 1 0 9.5 0a4.75 4.1 0 1 0 -9.5 0M993.3 639.3a4.75 4.1 0 1 0 9.5 0a4.75 4.1 0 1 0 -9.5 0M997.8 642.9a4.75 4.1 0 1 0 9.5 0a4.75 4.1 0 1 0 -9.5 0M1034.9 642.0a4.75 4.1 0 1 0 9.5 0a4.75 4.1 0 1 0 -9.5 0M959.7 633.9a4.75 4.1 0 1 0 9.5 0a4.75 4.1 0 1 0 -9.5 0M962.4 640.2a4.75 4.1 0 1 0 9.5 0a4.75 4.1 0 1 0 -9.5 0M964.3 643.8a4.75 4.1 0 1 0 9.5 0a4.75 4.1 0 1 0 -9.5 0M969.7 642.9a4.75 4.1 0 1 0 9.5 0a4.75 4.1 0 1 0 -9.5 0M1080.3 643.8a4.75 4.1 0 1 0 9.5 0a4.75 4.1 0 1 0 -9.5 0M1082.1 647.4a4.75 4.1 0 1 0 9.5 0a4.75 4.1 0 1 0 -9.5 0M1053.1 647.4a4.75 4.1 0 1 0 9.5 0a4.75 4.1 0 1 0 -9.5 0M1049.4 649.3a4.75 4.1 0 1 0 9.5 0a4.75 4.1 0 1 0 -9.5 0M1044.0 649.3a4.75 4.1 0 1 0 9.5 0a4.75 4.1 0 1 0 -9.5 0M1015.0 649.3a4.75 4.1 0 1 0 9.5 0a4.75 4.1 0 1 0 -9.5 0M977.8 649.3a4.75 4.1 0 1 0 9.5 0a4.75 4.1 0 1 0 -9.5 0M985.1 650.2a4.75 4.1 0 1 0 9.5 0a4.75 4.1 0 1 0 -9.5 0M961.5 652.0a4.75 4.1 0 1 0 9.5 0a4.75 4.1 0 1 0 -9.5 0M998.7 654.7a4.75 4.1 0 1 0 9.5 0a4.75 4.1 0 1 0 -9.5 0M1005.9 655.6a4.75 4.1 0 1 0 9.5 0a4.75 4.1 0 1 0 -9.5 0M1076.6 653.8a4.75 4.1 0 1 0 9.5 0a4.75 4.1 0 1 0 -9.5 0M1037.7 658.3a4.75 4.1 0 1 0 9.5 0a4.75 4.1 0 1 0 -9.5 0M980.6 658.3a4.75 4.1 0 1 0 9.5 0a4.75 4.1 0 1 0 -9.5 0M986.0 659.2a4.75 4.1 0 1 0 9.5 0a4.75 4.1 0 1 0 -9.5 0M1004.1 658.3a4.75 4.1 0 1 0 9.5 0a4.75 4.1 0 1 0 -9.5 0M962.4 661.9a4.75 4.1 0 1 0 9.5 0a4.75 4.1 0 1 0 -9.5 0M996.9 665.6a4.75 4.1 0 1 0 9.5 0a4.75 4.1 0 1 0 -9.5 0M984.2 665.6a4.75 4.1 0 1 0 9.5 0a4.75 4.1 0 1 0 -9.5 0M986.9 668.3a4.75 4.1 0 1 0 9.5 0a4.75 4.1 0 1 0 -9.5 0M1024.1 664.7a4.75 4.1 0 1 0 9.5 0a4.75 4.1 0 1 0 -9.5 0M1029.5 663.8a4.75 4.1 0 1 0 9.5 0a4.75 4.1 0 1 0 -9.5 0M1067.6 663.8a4.75 4.1 0 1 0 9.5 0a4.75 4.1 0 1 0 -9.5 0M1085.7 667.4a4.75 4.1 0 1 0 9.5 0a4.75 4.1 0 1 0 -9.5 0M1013.2 669.2a4.75 4.1 0 1 0 9.5 0a4.75 4.1 0 1 0 -9.5 0M1032.2 670.1a4.75 4.1 0 1 0 9.5 0a4.75 4.1 0 1 0 -9.5 0M956.1 669.2a4.75 4.1 0 1 0 9.5 0a4.75 4.1 0 1 0 -9.5 0M967.9 669.2a4.75 4.1 0 1 0 9.5 0a4.75 4.1 0 1 0 -9.5 0M1024.1 672.8a4.75 4.1 0 1 0 9.5 0a4.75 4.1 0 1 0 -9.5 0M1034.0 673.7a4.75 4.1 0 1 0 9.5 0a4.75 4.1 0 1 0 -9.5 0M1044.0 674.6a4.75 4.1 0 1 0 9.5 0a4.75 4.1 0 1 0 -9.5 0M1049.4 673.7a4.75 4.1 0 1 0 9.5 0a4.75 4.1 0 1 0 -9.5 0M1054.0 676.4a4.75 4.1 0 1 0 9.5 0a4.75 4.1 0 1 0 -9.5 0M1057.6 679.2a4.75 4.1 0 1 0 9.5 0a4.75 4.1 0 1 0 -9.5 0M1058.5 681.9a4.75 4.1 0 1 0 9.5 0a4.75 4.1 0 1 0 -9.5 0M1054.9 683.7a4.75 4.1 0 1 0 9.5 0a4.75 4.1 0 1 0 -9.5 0M1080.3 675.5a4.75 4.1 0 1 0 9.5 0a4.75 4.1 0 1 0 -9.5 0M1089.3 674.6a4.75 4.1 0 1 0 9.5 0a4.75 4.1 0 1 0 -9.5 0M1111.1 675.2a4.75 4.1 0 1 0 9.5 0a4.75 4.1 0 1 0 -9.5 0M1087.5 681.9a4.75 4.1 0 1 0 9.5 0a4.75 4.1 0 1 0 -9.5 0M962.4 672.8a4.75 4.1 0 1 0 9.5 0a4.75 4.1 0 1 0 -9.5 0M968.8 674.6a4.75 4.1 0 1 0 9.5 0a4.75 4.1 0 1 0 -9.5 0M976.9 677.4a4.75 4.1 0 1 0 9.5 0a4.75 4.1 0 1 0 -9.5 0M983.3 671.0a4.75 4.1 0 1 0 9.5 0a4.75 4.1 0 1 0 -9.5 0M996.0 680.1a4.75 4.1 0 1 0 9.5 0a4.75 4.1 0 1 0 -9.5 0M991.4 681.9a4.75 4.1 0 1 0 9.5 0a4.75 4.1 0 1 0 -9.5 0M955.2 682.8a4.75 4.1 0 1 0 9.5 0a4.75 4.1 0 1 0 -9.5 0M970.6 684.6a4.75 4.1 0 1 0 9.5 0a4.75 4.1 0 1 0 -9.5 0M967.0 688.2a4.75 4.1 0 1 0 9.5 0a4.75 4.1 0 1 0 -9.5 0M1010.5 685.5a4.75 4.1 0 1 0 9.5 0a4.75 4.1 0 1 0 -9.5 0M986.9 686.4a4.75 4.1 0 1 0 9.5 0a4.75 4.1 0 1 0 -9.5 0M1099.3 686.1a4.75 4.1 0 1 0 9.5 0a4.75 4.1 0 1 0 -9.5 0M755.4 393.7a4.75 4.1 0 1 0 9.5 0a4.75 4.1 0 1 0 -9.5 0M734.4 419.6a4.75 4.1 0 1 0 9.5 0a4.75 4.1 0 1 0 -9.5 0M732.6 460.7a4.75 4.1 0 1 0 9.5 0a4.75 4.1 0 1 0 -9.5 0M763.6 470.9a4.75 4.1 0 1 0 9.5 0a4.75 4.1 0 1 0 -9.5 0M674.6 497.2a4.75 4.1 0 1 0 9.5 0a4.75 4.1 0 1 0 -9.5 0M698.3 496.9a4.75 4.1 0 1 0 9.5 0a4.75 4.1 0 1 0 -9.5 0M754.3 507.2a4.75 4.1 0 1 0 9.5 0a4.75 4.1 0 1 0 -9.5 0M766.7 583.3a4.75 4.1 0 1 0 9.5 0a4.75 4.1 0 1 0 -9.5 0M761.6 605.6a4.75 4.1 0 1 0 9.5 0a4.75 4.1 0 1 0 -9.5 0M761.6 618.7a4.75 4.1 0 1 0 9.5 0a4.75 4.1 0 1 0 -9.5 0M768.5 634.1a4.75 4.1 0 1 0 9.5 0a4.75 4.1 0 1 0 -9.5 0M772.5 664.0a4.75 4.1 0 1 0 9.5 0a4.75 4.1 0 1 0 -9.5 0M764.3 678.9a4.75 4.1 0 1 0 9.5 0a4.75 4.1 0 1 0 -9.5 0M774.8 677.6a4.75 4.1 0 1 0 9.5 0a4.75 4.1 0 1 0 -9.5 0M954.0 559.0a4.75 4.1 0 1 0 9.5 0a4.75 4.1 0 1 0 -9.5 0M979.1 559.4a4.75 4.1 0 1 0 9.5 0a4.75 4.1 0 1 0 -9.5 0M984.9 564.8a4.75 4.1 0 1 0 9.5 0a4.75 4.1 0 1 0 -9.5 0M999.4 560.4a4.75 4.1 0 1 0 9.5 0a4.75 4.1 0 1 0 -9.5 0M1017.3 558.5a4.75 4.1 0 1 0 9.5 0a4.75 4.1 0 1 0 -9.5 0M1028.4 558.5a4.75 4.1 0 1 0 9.5 0a4.75 4.1 0 1 0 -9.5 0M1037.1 564.8a4.75 4.1 0 1 0 9.5 0a4.75 4.1 0 1 0 -9.5 0M1050.7 560.9a4.75 4.1 0 1 0 9.5 0a4.75 4.1 0 1 0 -9.5 0M1069.0 564.3a4.75 4.1 0 1 0 9.5 0a4.75 4.1 0 1 0 -9.5 0M1079.7 559.4a4.75 4.1 0 1 0 9.5 0a4.75 4.1 0 1 0 -9.5 0M1179.9 562.6a4.75 4.1 0 1 0 9.5 0a4.75 4.1 0 1 0 -9.5 0M959.6 573.8a4.75 4.1 0 1 0 9.5 0a4.75 4.1 0 1 0 -9.5 0M957.6 567.5a4.75 4.1 0 1 0 9.5 0a4.75 4.1 0 1 0 -9.5 0M956.0 684.1a4.75 4.1 0 1 0 9.5 0a4.75 4.1 0 1 0 -9.5 0M972.9 657.8a4.75 4.1 0 1 0 9.5 0a4.75 4.1 0 1 0 -9.5 0M993.2 652.3a4.75 4.1 0 1 0 9.5 0a4.75 4.1 0 1 0 -9.5 0M974.7 605.2a4.75 4.1 0 1 0 9.5 0a4.75 4.1 0 1 0 -9.5 0M967.5 569.8a4.75 4.1 0 1 0 9.5 0a4.75 4.1 0 1 0 -9.5 0M988.2 584.0a4.75 4.1 0 1 0 9.5 0a4.75 4.1 0 1 0 -9.5 0M992.9 591.3a4.75 4.1 0 1 0 9.5 0a4.75 4.1 0 1 0 -9.5 0M967.2 600.6a4.75 4.1 0 1 0 9.5 0a4.75 4.1 0 1 0 -9.5 0M961.8 619.6a4.75 4.1 0 1 0 9.5 0a4.75 4.1 0 1 0 -9.5 0M1003.8 577.2a4.75 4.1 0 1 0 9.5 0a4.75 4.1 0 1 0 -9.5 0M995.4 570.5a4.75 4.1 0 1 0 9.5 0a4.75 4.1 0 1 0 -9.5 0M969.9 600.5a4.75 4.1 0 1 0 9.5 0a4.75 4.1 0 1 0 -9.5 0M976.5 660.1a4.75 4.1 0 1 0 9.5 0a4.75 4.1 0 1 0 -9.5 0M956.8 619.5a4.75 4.1 0 1 0 9.5 0a4.75 4.1 0 1 0 -9.5 0M978.3 599.7a4.75 4.1 0 1 0 9.5 0a4.75 4.1 0 1 0 -9.5 0M964.6 593.3a4.75 4.1 0 1 0 9.5 0a4.75 4.1 0 1 0 -9.5 0M989.3 669.9a4.75 4.1 0 1 0 9.5 0a4.75 4.1 0 1 0 -9.5 0M1009.6 611.5a4.75 4.1 0 1 0 9.5 0a4.75 4.1 0 1 0 -9.5 0M958.5 601.4a4.75 4.1 0 1 0 9.5 0a4.75 4.1 0 1 0 -9.5 0M998.2 610.0a4.75 4.1 0 1 0 9.5 0a4.75 4.1 0 1 0 -9.5 0M979.9 590.3a4.75 4.1 0 1 0 9.5 0a4.75 4.1 0 1 0 -9.5 0M1007.3 645.9a4.75 4.1 0 1 0 9.5 0a4.75 4.1 0 1 0 -9.5 0M982.2 624.6a4.75 4.1 0 1 0 9.5 0a4.75 4.1 0 1 0 -9.5 0M958.7 621.8a4.75 4.1 0 1 0 9.5 0a4.75 4.1 0 1 0 -9.5 0M1008.1 639.2a4.75 4.1 0 1 0 9.5 0a4.75 4.1 0 1 0 -9.5 0M995.8 607.5a4.75 4.1 0 1 0 9.5 0a4.75 4.1 0 1 0 -9.5 0M982.3 648.2a4.75 4.1 0 1 0 9.5 0a4.75 4.1 0 1 0 -9.5 0M984.4 598.8a4.75 4.1 0 1 0 9.5 0a4.75 4.1 0 1 0 -9.5 0M964.4 604.8a4.75 4.1 0 1 0 9.5 0a4.75 4.1 0 1 0 -9.5 0M977.6 640.5a4.75 4.1 0 1 0 9.5 0a4.75 4.1 0 1 0 -9.5 0M965.0 668.0a4.75 4.1 0 1 0 9.5 0a4.75 4.1 0 1 0 -9.5 0M968.0 640.6a4.75 4.1 0 1 0 9.5 0a4.75 4.1 0 1 0 -9.5 0M994.7 655.3a4.75 4.1 0 1 0 9.5 0a4.75 4.1 0 1 0 -9.5 0M1003.6 650.4a4.75 4.1 0 1 0 9.5 0a4.75 4.1 0 1 0 -9.5 0M963.3 611.4a4.75 4.1 0 1 0 9.5 0a4.75 4.1 0 1 0 -9.5 0M960.3 682.5a4.75 4.1 0 1 0 9.5 0a4.75 4.1 0 1 0 -9.5 0M1039.3 646.9a4.75 4.1 0 1 0 9.5 0a4.75 4.1 0 1 0 -9.5 0M1084.5 653.9a4.75 4.1 0 1 0 9.5 0a4.75 4.1 0 1 0 -9.5 0M1082.7 649.1a4.75 4.1 0 1 0 9.5 0a4.75 4.1 0 1 0 -9.5 0M1042.1 629.1a4.75 4.1 0 1 0 9.5 0a4.75 4.1 0 1 0 -9.5 0M1071.4 601.0a4.75 4.1 0 1 0 9.5 0a4.75 4.1 0 1 0 -9.5 0M1067.6 640.6a4.75 4.1 0 1 0 9.5 0a4.75 4.1 0 1 0 -9.5 0M1048.5 598.9a4.75 4.1 0 1 0 9.5 0a4.75 4.1 0 1 0 -9.5 0M1067.2 594.5a4.75 4.1 0 1 0 9.5 0a4.75 4.1 0 1 0 -9.5 0M1029.2 687.0a4.75 4.1 0 1 0 9.5 0a4.75 4.1 0 1 0 -9.5 0M1018.8 681.1a4.75 4.1 0 1 0 9.5 0a4.75 4.1 0 1 0 -9.5 0M1054.9 623.5a4.75 4.1 0 1 0 9.5 0a4.75 4.1 0 1 0 -9.5 0M1027.2 677.9a4.75 4.1 0 1 0 9.5 0a4.75 4.1 0 1 0 -9.5 0M1030.5 655.7a4.75 4.1 0 1 0 9.5 0a4.75 4.1 0 1 0 -9.5 0M1053.8 604.7a4.75 4.1 0 1 0 9.5 0a4.75 4.1 0 1 0 -9.5 0" fill="none" stroke="#e7298a" stroke-width="1.8"/>
<text transform="translate(695.3,384.3) scale(1.186,1)" font-family='"Liberation Sans", sans-serif' font-size="12.2" font-weight="normal" text-anchor="start" fill="#000">680POS_PC(40:6p)</text>
<text transform="translate(673.9,409.7) scale(1.186,1)" font-family='"Liberation Sans", sans-serif' font-size="12.2" font-weight="normal" text-anchor="start" fill="#000">348POS_SM(d37:4)</text>
<text transform="translate(643.6,448.6) scale(1.186,1)" font-family='"Liberation Sans", sans-serif' font-size="12.2" font-weight="normal" text-anchor="start" fill="#000">290POS_TG(6:0/16:0/18:3)</text>
<text transform="translate(778.1,476.7) scale(1.186,1)" font-family='"Liberation Sans", sans-serif' font-size="12.2" font-weight="normal" text-anchor="start" fill="#000">352POS_LPC(32:1)</text>
<text transform="translate(630.0,485.2) scale(1.186,1)" font-family='"Liberation Sans", sans-serif' font-size="12.2" font-weight="normal" text-anchor="start" fill="#000">690POS_PC(40:6c)</text>
<text transform="translate(540.0,508.5) scale(1.186,1)" font-family='"Liberation Sans", sans-serif' font-size="12.2" font-weight="normal" text-anchor="start" fill="#000">294POS_ChE(22:6)</text>
<text transform="translate(740.6,523.5) scale(1.186,1)" font-family='"Liberation Sans", sans-serif' font-size="12.2" font-weight="normal" text-anchor="start" fill="#000">594POS_PC(38:4e)</text>
<text transform="translate(693.1,586.8) scale(1.186,1)" font-family='"Liberation Sans", sans-serif' font-size="12.2" font-weight="normal" text-anchor="start" fill="#000">339POS_PC(33:0e)</text>
<text transform="translate(781.4,611.5) scale(1.186,1)" font-family='"Liberation Sans", sans-serif' font-size="12.2" font-weight="normal" text-anchor="start" fill="#000">538POS_PE(40:6p)</text>
<text transform="translate(656.9,634.8) scale(1.186,1)" font-family='"Liberation Sans", sans-serif' font-size="12.2" font-weight="normal" text-anchor="start" fill="#000">336POS_PC(33:0p)</text>
<text transform="translate(1205.0,465.2) scale(1.186,1)" font-family='"Liberation Sans", sans-serif' font-size="12.2" font-weight="normal" text-anchor="start" fill="#000">114POS_PE(21:3)</text>
<text transform="translate(1281.6,496.5) scale(1.186,1)" font-family='"Liberation Sans", sans-serif' font-size="12.2" font-weight="normal" text-anchor="start" fill="#000">132POS_PC(21:3)</text>
<text transform="translate(1401.5,522.0) scale(1.186,1)" font-family='"Liberation Sans", sans-serif' font-size="12.2" font-weight="normal" text-anchor="start" fill="#000">18POS_Cer(d27:1)</text>
<text transform="translate(1323.9,563.8) scale(1.186,1)" font-family='"Liberation Sans", sans-serif' font-size="12.2" font-weight="normal" text-anchor="start" fill="#000">14POS_Cer(d25:1)</text>
<text transform="translate(1437.0,588.5) scale(1.186,1)" font-family='"Liberation Sans", sans-serif' font-size="12.2" font-weight="normal" text-anchor="start" fill="#000">108POS_PC(19:1)</text>
<text transform="translate(1281.6,604.5) scale(1.186,1)" font-family='"Liberation Sans", sans-serif' font-size="12.2" font-weight="normal" text-anchor="start" fill="#000">1093NEG_PS(27:0)</text>
<text transform="translate(1121.3,511.7) scale(1.186,1)" font-family='"Liberation Sans", sans-serif' font-size="12.2" font-weight="normal" text-anchor="start" fill="#000">79POS_PE(21:4)</text>
<text transform="translate(1144.8,540.7) scale(1.186,1)" font-family='"Liberation Sans", sans-serif' font-size="12.2" font-weight="normal" text-anchor="start" fill="#000">105POS_PC(19:2)</text>
<text transform="translate(1138.5,594.4) scale(1.186,1)" font-family='"Liberation Sans", sans-serif' font-size="12.2" font-weight="normal" text-anchor="start" fill="#000">126POS_PC(21:4)</text>
<text transform="translate(1058.7,617.9) scale(1.186,1)" font-family='"Liberation Sans", sans-serif' font-size="12.2" font-weight="normal" text-anchor="start" fill="#000">596POS_TG(16:0/14:2/18:1)</text>
<path d="M88.3 44H1650.7M88.3 839H1650.7" fill="none" stroke="#6e6e6e" stroke-width="1.8"/>
<path d="M89.5 44V839" fill="none" stroke="#7c7c7c" stroke-width="2.5"/>
<path d="M1649.5 44V839" fill="none" stroke="#686868" stroke-width="1.9"/>
<line x1="89.5" y1="123.3" x2="100.5" y2="123.3" stroke="#333" stroke-width="1.8"/>
<text transform="translate(77.6,131.0) scale(1.125,1)" font-family='"Liberation Sans", sans-serif' font-size="20.6" font-weight="normal" text-anchor="end" fill="#000">8</text>
<line x1="89.5" y1="293.3" x2="100.5" y2="293.3" stroke="#333" stroke-width="1.8"/>
<text transform="translate(77.6,301.0) scale(1.125,1)" font-family='"Liberation Sans", sans-serif' font-size="20.6" font-weight="normal" text-anchor="end" fill="#000">6</text>
<line x1="89.5" y1="463.2" x2="100.5" y2="463.2" stroke="#333" stroke-width="1.8"/>
<text transform="translate(77.6,470.9) scale(1.125,1)" font-family='"Liberation Sans", sans-serif' font-size="20.6" font-weight="normal" text-anchor="end" fill="#000">4</text>
<line x1="89.5" y1="633.2" x2="100.5" y2="633.2" stroke="#333" stroke-width="1.8"/>
<text transform="translate(77.6,640.9) scale(1.125,1)" font-family='"Liberation Sans", sans-serif' font-size="20.6" font-weight="normal" text-anchor="end" fill="#000">2</text>
<line x1="89.5" y1="803.1" x2="100.5" y2="803.1" stroke="#333" stroke-width="1.8"/>
<text transform="translate(77.6,810.8) scale(1.125,1)" font-family='"Liberation Sans", sans-serif' font-size="20.6" font-weight="normal" text-anchor="end" fill="#000">0</text>
<line x1="130" y1="839" x2="130" y2="830" stroke="#333" stroke-width="2.4"/>
<text transform="translate(130.0,866.0) scale(1.125,1)" font-family='"Liberation Sans", sans-serif' font-size="20.6" font-weight="normal" text-anchor="middle" fill="#000">-5.0</text>
<line x1="500" y1="839" x2="500" y2="830" stroke="#333" stroke-width="2.4"/>
<text transform="translate(500.0,866.0) scale(1.125,1)" font-family='"Liberation Sans", sans-serif' font-size="20.6" font-weight="normal" text-anchor="middle" fill="#000">-2.5</text>
<line x1="870" y1="839" x2="870" y2="830" stroke="#333" stroke-width="2.4"/>
<text transform="translate(870.0,866.0) scale(1.125,1)" font-family='"Liberation Sans", sans-serif' font-size="20.6" font-weight="normal" text-anchor="middle" fill="#000">0.0</text>
<line x1="1240" y1="839" x2="1240" y2="830" stroke="#333" stroke-width="2.4"/>
<text transform="translate(1240.0,866.0) scale(1.125,1)" font-family='"Liberation Sans", sans-serif' font-size="20.6" font-weight="normal" text-anchor="middle" fill="#000">2.5</text>
<line x1="1610" y1="839" x2="1610" y2="830" stroke="#333" stroke-width="2.4"/>
<text transform="translate(1610.0,866.0) scale(1.125,1)" font-family='"Liberation Sans", sans-serif' font-size="20.6" font-weight="normal" text-anchor="middle" fill="#000">5.0</text>
<text transform="translate(870.0,25.6) scale(1.166,1)" font-family='"Liberation Sans", sans-serif' font-size="31.2" font-weight="bold" text-anchor="middle" fill="#000" stroke="#000" stroke-width="0.4">Volcano Plot</text>
<text transform="translate(870.0,911.0) scale(1.183,1)" font-family='"Liberation Sans", sans-serif' font-size="28" font-weight="normal" text-anchor="middle" fill="#000">log2 Fold change (DH/N)</text>
<text transform="translate(28.7,441.5) scale(1.31,1) rotate(-90)" font-family='"Liberation Sans", sans-serif' font-size="26.8" font-weight="normal" text-anchor="middle" fill="#000">-log10(p-value)</text>
<text transform="translate(153.0,790.0) scale(1.17,1)" font-family='"Liberation Serif", serif' font-size="52" font-weight="bold" text-anchor="middle" fill="#000">A</text>
<line x1="764.5" y1="1799" x2="764.5" y2="1004" stroke="#b4b4b4" stroke-width="2.4" stroke-dasharray="6.3 7.85" stroke-dashoffset="0"/>
<line x1="975.2" y1="1799" x2="975.2" y2="1004" stroke="#b4b4b4" stroke-width="2.4" stroke-dasharray="6.3 7.85" stroke-dashoffset="0"/>
<line x1="89.5" y1="1521.3" x2="1649.5" y2="1521.3" stroke="#c0c0c0" stroke-width="1.6" stroke-dasharray="8.75 8.82" stroke-dashoffset="0"/>
<line x1="501.0" y1="1511.0" x2="640.0" y2="1487.0" stroke="#cfcfcf" stroke-width="1"/>
<line x1="645.0" y1="1486.0" x2="678.0" y2="1482.0" stroke="#cfcfcf" stroke-width="1"/>
<line x1="703.0" y1="1510.0" x2="714.0" y2="1476.0" stroke="#cfcfcf" stroke-width="1"/>
<line x1="743.0" y1="1456.0" x2="754.0" y2="1448.5" stroke="#cfcfcf" stroke-width="1"/>
<line x1="708.6" y1="1515.6" x2="709.5" y2="1532.0" stroke="#cfcfcf" stroke-width="1"/>
<polygon points="869.7,1767.6 854.6,1758.0 847.3,1747.1 840.1,1729.0 837.7,1718.1 841.3,1710.8 849.8,1709.6 858.2,1713.3 863.1,1720.5 869.3,1736.8 875.1,1721.7 878.8,1713.3 888.4,1706.0 900.5,1703.6 911.4,1708.4 915.0,1716.9 909.0,1727.8 894.5,1745.9 884.8,1758.0" fill="#000" stroke="#fff" stroke-width="10" stroke-linejoin="round"/>
<path d="M794.9 1254.1a4.75 4.1 0 1 0 9.5 0a4.75 4.1 0 1 0 -9.5 0M763.7 1260.8a4.75 4.1 0 1 0 9.5 0a4.75 4.1 0 1 0 -9.5 0M780.9 1268.1a4.75 4.1 0 1 0 9.5 0a4.75 4.1 0 1 0 -9.5 0M793.1 1267.7a4.75 4.1 0 1 0 9.5 0a4.75 4.1 0 1 0 -9.5 0M780.0 1276.2a4.75 4.1 0 1 0 9.5 0a4.75 4.1 0 1 0 -9.5 0M776.4 1289.8a4.75 4.1 0 1 0 9.5 0a4.75 4.1 0 1 0 -9.5 0M767.3 1299.8a4.75 4.1 0 1 0 9.5 0a4.75 4.1 0 1 0 -9.5 0M766.4 1308.9a4.75 4.1 0 1 0 9.5 0a4.75 4.1 0 1 0 -9.5 0M794.2 1319.7a4.75 4.1 0 1 0 9.5 0a4.75 4.1 0 1 0 -9.5 0M765.5 1331.5a4.75 4.1 0 1 0 9.5 0a4.75 4.1 0 1 0 -9.5 0M785.5 1333.9a4.75 4.1 0 1 0 9.5 0a4.75 4.1 0 1 0 -9.5 0M774.6 1340.6a4.75 4.1 0 1 0 9.5 0a4.75 4.1 0 1 0 -9.5 0M781.8 1340.6a4.75 4.1 0 1 0 9.5 0a4.75 4.1 0 1 0 -9.5 0M761.9 1345.1a4.75 4.1 0 1 0 9.5 0a4.75 4.1 0 1 0 -9.5 0M775.5 1346.0a4.75 4.1 0 1 0 9.5 0a4.75 4.1 0 1 0 -9.5 0M764.6 1352.9a4.75 4.1 0 1 0 9.5 0a4.75 4.1 0 1 0 -9.5 0M820.3 1351.4a4.75 4.1 0 1 0 9.5 0a4.75 4.1 0 1 0 -9.5 0M771.3 1365.6a4.75 4.1 0 1 0 9.5 0a4.75 4.1 0 1 0 -9.5 0M787.3 1366.9a4.75 4.1 0 1 0 9.5 0a4.75 4.1 0 1 0 -9.5 0M792.7 1363.2a4.75 4.1 0 1 0 9.5 0a4.75 4.1 0 1 0 -9.5 0M800.0 1362.3a4.75 4.1 0 1 0 9.5 0a4.75 4.1 0 1 0 -9.5 0M801.8 1366.0a4.75 4.1 0 1 0 9.5 0a4.75 4.1 0 1 0 -9.5 0M810.8 1360.5a4.75 4.1 0 1 0 9.5 0a4.75 4.1 0 1 0 -9.5 0M818.1 1365.0a4.75 4.1 0 1 0 9.5 0a4.75 4.1 0 1 0 -9.5 0M763.7 1375.4a4.75 4.1 0 1 0 9.5 0a4.75 4.1 0 1 0 -9.5 0M815.4 1382.8a4.75 4.1 0 1 0 9.5 0a4.75 4.1 0 1 0 -9.5 0M809.0 1386.4a4.75 4.1 0 1 0 9.5 0a4.75 4.1 0 1 0 -9.5 0M798.1 1392.2a4.75 4.1 0 1 0 9.5 0a4.75 4.1 0 1 0 -9.5 0M791.8 1397.7a4.75 4.1 0 1 0 9.5 0a4.75 4.1 0 1 0 -9.5 0M805.0 1400.0a4.75 4.1 0 1 0 9.5 0a4.75 4.1 0 1 0 -9.5 0M774.2 1405.5a4.75 4.1 0 1 0 9.5 0a4.75 4.1 0 1 0 -9.5 0M792.7 1405.5a4.75 4.1 0 1 0 9.5 0a4.75 4.1 0 1 0 -9.5 0M804.5 1417.6a4.75 4.1 0 1 0 9.5 0a4.75 4.1 0 1 0 -9.5 0M780.0 1419.4a4.75 4.1 0 1 0 9.5 0a4.75 4.1 0 1 0 -9.5 0M761.9 1423.1a4.75 4.1 0 1 0 9.5 0a4.75 4.1 0 1 0 -9.5 0M773.7 1427.6a4.75 4.1 0 1 0 9.5 0a4.75 4.1 0 1 0 -9.5 0M781.8 1424.0a4.75 4.1 0 1 0 9.5 0a4.75 4.1 0 1 0 -9.5 0M791.8 1427.6a4.75 4.1 0 1 0 9.5 0a4.75 4.1 0 1 0 -9.5 0M805.0 1427.6a4.75 4.1 0 1 0 9.5 0a4.75 4.1 0 1 0 -9.5 0M812.7 1444.0a4.75 4.1 0 1 0 9.5 0a4.75 4.1 0 1 0 -9.5 0M761.9 1446.8a4.75 4.1 0 1 0 9.5 0a4.75 4.1 0 1 0 -9.5 0M800.0 1452.2a4.75 4.1 0 1 0 9.5 0a4.75 4.1 0 1 0 -9.5 0M775.5 1456.2a4.75 4.1 0 1 0 9.5 0a4.75 4.1 0 1 0 -9.5 0M783.6 1455.5a4.75 4.1 0 1 0 9.5 0a4.75 4.1 0 1 0 -9.5 0M793.6 1462.2a4.75 4.1 0 1 0 9.5 0a4.75 4.1 0 1 0 -9.5 0M823.5 1464.0a4.75 4.1 0 1 0 9.5 0a4.75 4.1 0 1 0 -9.5 0M795.4 1468.5a4.75 4.1 0 1 0 9.5 0a4.75 4.1 0 1 0 -9.5 0M761.9 1471.2a4.75 4.1 0 1 0 9.5 0a4.75 4.1 0 1 0 -9.5 0M808.1 1474.8a4.75 4.1 0 1 0 9.5 0a4.75 4.1 0 1 0 -9.5 0M796.3 1478.1a4.75 4.1 0 1 0 9.5 0a4.75 4.1 0 1 0 -9.5 0M805.4 1479.4a4.75 4.1 0 1 0 9.5 0a4.75 4.1 0 1 0 -9.5 0M777.3 1480.3a4.75 4.1 0 1 0 9.5 0a4.75 4.1 0 1 0 -9.5 0M763.7 1488.4a4.75 4.1 0 1 0 9.5 0a4.75 4.1 0 1 0 -9.5 0M814.5 1489.4a4.75 4.1 0 1 0 9.5 0a4.75 4.1 0 1 0 -9.5 0M780.0 1497.5a4.75 4.1 0 1 0 9.5 0a4.75 4.1 0 1 0 -9.5 0M795.4 1505.7a4.75 4.1 0 1 0 9.5 0a4.75 4.1 0 1 0 -9.5 0M816.3 1506.6a4.75 4.1 0 1 0 9.5 0a4.75 4.1 0 1 0 -9.5 0M773.7 1508.7a4.75 4.1 0 1 0 9.5 0a4.75 4.1 0 1 0 -9.5 0M790.9 1509.3a4.75 4.1 0 1 0 9.5 0a4.75 4.1 0 1 0 -9.5 0M771.9 1512.9a4.75 4.1 0 1 0 9.5 0a4.75 4.1 0 1 0 -9.5 0M809.9 1515.6a4.75 4.1 0 1 0 9.5 0a4.75 4.1 0 1 0 -9.5 0M792.7 1517.4a4.75 4.1 0 1 0 9.5 0a4.75 4.1 0 1 0 -9.5 0M816.3 1519.3a4.75 4.1 0 1 0 9.5 0a4.75 4.1 0 1 0 -9.5 0M757.4 1520.2a4.75 4.1 0 1 0 9.5 0a4.75 4.1 0 1 0 -9.5 0M771.0 1523.8a4.75 4.1 0 1 0 9.5 0a4.75 4.1 0 1 0 -9.5 0M753.7 1528.3a4.75 4.1 0 1 0 9.5 0a4.75 4.1 0 1 0 -9.5 0M808.1 1526.5a4.75 4.1 0 1 0 9.5 0a4.75 4.1 0 1 0 -9.5 0M703.5 1535.6a4.75 4.1 0 1 0 9.5 0a4.75 4.1 0 1 0 -9.5 0M763.7 1535.6a4.75 4.1 0 1 0 9.5 0a4.75 4.1 0 1 0 -9.5 0M783.6 1538.3a4.75 4.1 0 1 0 9.5 0a4.75 4.1 0 1 0 -9.5 0M796.3 1537.4a4.75 4.1 0 1 0 9.5 0a4.75 4.1 0 1 0 -9.5 0M803.6 1541.0a4.75 4.1 0 1 0 9.5 0a4.75 4.1 0 1 0 -9.5 0M816.3 1539.2a4.75 4.1 0 1 0 9.5 0a4.75 4.1 0 1 0 -9.5 0M822.6 1545.5a4.75 4.1 0 1 0 9.5 0a4.75 4.1 0 1 0 -9.5 0M787.3 1546.4a4.75 4.1 0 1 0 9.5 0a4.75 4.1 0 1 0 -9.5 0M803.6 1548.3a4.75 4.1 0 1 0 9.5 0a4.75 4.1 0 1 0 -9.5 0M773.7 1550.1a4.75 4.1 0 1 0 9.5 0a4.75 4.1 0 1 0 -9.5 0M748.3 1553.7a4.75 4.1 0 1 0 9.5 0a4.75 4.1 0 1 0 -9.5 0M823.5 1559.1a4.75 4.1 0 1 0 9.5 0a4.75 4.1 0 1 0 -9.5 0M791.8 1561.9a4.75 4.1 0 1 0 9.5 0a4.75 4.1 0 1 0 -9.5 0M810.8 1563.7a4.75 4.1 0 1 0 9.5 0a4.75 4.1 0 1 0 -9.5 0M798.1 1566.4a4.75 4.1 0 1 0 9.5 0a4.75 4.1 0 1 0 -9.5 0M823.5 1569.1a4.75 4.1 0 1 0 9.5 0a4.75 4.1 0 1 0 -9.5 0M773.7 1570.9a4.75 4.1 0 1 0 9.5 0a4.75 4.1 0 1 0 -9.5 0M807.2 1571.8a4.75 4.1 0 1 0 9.5 0a4.75 4.1 0 1 0 -9.5 0M751.0 1575.5a4.75 4.1 0 1 0 9.5 0a4.75 4.1 0 1 0 -9.5 0M817.2 1575.5a4.75 4.1 0 1 0 9.5 0a4.75 4.1 0 1 0 -9.5 0M827.2 1577.3a4.75 4.1 0 1 0 9.5 0a4.75 4.1 0 1 0 -9.5 0M798.1 1577.3a4.75 4.1 0 1 0 9.5 0a4.75 4.1 0 1 0 -9.5 0M784.6 1581.8a4.75 4.1 0 1 0 9.5 0a4.75 4.1 0 1 0 -9.5 0M721.7 1584.0a4.75 4.1 0 1 0 9.5 0a4.75 4.1 0 1 0 -9.5 0M800.0 1584.5a4.75 4.1 0 1 0 9.5 0a4.75 4.1 0 1 0 -9.5 0M832.6 1585.4a4.75 4.1 0 1 0 9.5 0a4.75 4.1 0 1 0 -9.5 0M810.8 1588.1a4.75 4.1 0 1 0 9.5 0a4.75 4.1 0 1 0 -9.5 0M787.3 1590.9a4.75 4.1 0 1 0 9.5 0a4.75 4.1 0 1 0 -9.5 0M800.0 1591.8a4.75 4.1 0 1 0 9.5 0a4.75 4.1 0 1 0 -9.5 0M762.8 1597.2a4.75 4.1 0 1 0 9.5 0a4.75 4.1 0 1 0 -9.5 0M769.1 1597.2a4.75 4.1 0 1 0 9.5 0a4.75 4.1 0 1 0 -9.5 0M774.6 1597.2a4.75 4.1 0 1 0 9.5 0a4.75 4.1 0 1 0 -9.5 0M787.3 1597.2a4.75 4.1 0 1 0 9.5 0a4.75 4.1 0 1 0 -9.5 0M807.2 1595.4a4.75 4.1 0 1 0 9.5 0a4.75 4.1 0 1 0 -9.5 0M821.7 1597.2a4.75 4.1 0 1 0 9.5 0a4.75 4.1 0 1 0 -9.5 0M790.0 1601.7a4.75 4.1 0 1 0 9.5 0a4.75 4.1 0 1 0 -9.5 0M759.2 1606.3a4.75 4.1 0 1 0 9.5 0a4.75 4.1 0 1 0 -9.5 0M809.0 1606.3a4.75 4.1 0 1 0 9.5 0a4.75 4.1 0 1 0 -9.5 0M818.1 1604.5a4.75 4.1 0 1 0 9.5 0a4.75 4.1 0 1 0 -9.5 0M834.4 1604.5a4.75 4.1 0 1 0 9.5 0a4.75 4.1 0 1 0 -9.5 0M694.8 1613.2a4.75 4.1 0 1 0 9.5 0a4.75 4.1 0 1 0 -9.5 0M788.2 1616.2a4.75 4.1 0 1 0 9.5 0a4.75 4.1 0 1 0 -9.5 0M800.0 1617.1a4.75 4.1 0 1 0 9.5 0a4.75 4.1 0 1 0 -9.5 0M814.5 1615.3a4.75 4.1 0 1 0 9.5 0a4.75 4.1 0 1 0 -9.5 0M827.2 1615.3a4.75 4.1 0 1 0 9.5 0a4.75 4.1 0 1 0 -9.5 0M838.0 1609.9a4.75 4.1 0 1 0 9.5 0a4.75 4.1 0 1 0 -9.5 0M777.3 1620.8a4.75 4.1 0 1 0 9.5 0a4.75 4.1 0 1 0 -9.5 0M780.9 1619.9a4.75 4.1 0 1 0 9.5 0a4.75 4.1 0 1 0 -9.5 0M805.4 1622.6a4.75 4.1 0 1 0 9.5 0a4.75 4.1 0 1 0 -9.5 0M818.1 1622.6a4.75 4.1 0 1 0 9.5 0a4.75 4.1 0 1 0 -9.5 0M851.6 1622.6a4.75 4.1 0 1 0 9.5 0a4.75 4.1 0 1 0 -9.5 0M648.1 1623.9a4.75 4.1 0 1 0 9.5 0a4.75 4.1 0 1 0 -9.5 0M792.7 1630.7a4.75 4.1 0 1 0 9.5 0a4.75 4.1 0 1 0 -9.5 0M801.8 1628.0a4.75 4.1 0 1 0 9.5 0a4.75 4.1 0 1 0 -9.5 0M814.5 1629.8a4.75 4.1 0 1 0 9.5 0a4.75 4.1 0 1 0 -9.5 0M827.2 1629.8a4.75 4.1 0 1 0 9.5 0a4.75 4.1 0 1 0 -9.5 0M854.3 1631.6a4.75 4.1 0 1 0 9.5 0a4.75 4.1 0 1 0 -9.5 0M809.0 1637.1a4.75 4.1 0 1 0 9.5 0a4.75 4.1 0 1 0 -9.5 0M821.7 1637.1a4.75 4.1 0 1 0 9.5 0a4.75 4.1 0 1 0 -9.5 0M834.4 1635.3a4.75 4.1 0 1 0 9.5 0a4.75 4.1 0 1 0 -9.5 0M739.2 1646.5a4.75 4.1 0 1 0 9.5 0a4.75 4.1 0 1 0 -9.5 0M790.9 1645.2a4.75 4.1 0 1 0 9.5 0a4.75 4.1 0 1 0 -9.5 0M800.0 1642.5a4.75 4.1 0 1 0 9.5 0a4.75 4.1 0 1 0 -9.5 0M812.7 1644.3a4.75 4.1 0 1 0 9.5 0a4.75 4.1 0 1 0 -9.5 0M827.2 1644.3a4.75 4.1 0 1 0 9.5 0a4.75 4.1 0 1 0 -9.5 0M839.8 1642.5a4.75 4.1 0 1 0 9.5 0a4.75 4.1 0 1 0 -9.5 0M947.2 1158.7a4.75 4.1 0 1 0 9.5 0a4.75 4.1 0 1 0 -9.5 0M956.8 1161.0a4.75 4.1 0 1 0 9.5 0a4.75 4.1 0 1 0 -9.5 0M940.1 1205.8a4.75 4.1 0 1 0 9.5 0a4.75 4.1 0 1 0 -9.5 0M905.1 1265.0a4.75 4.1 0 1 0 9.5 0a4.75 4.1 0 1 0 -9.5 0M970.0 1273.2a4.75 4.1 0 1 0 9.5 0a4.75 4.1 0 1 0 -9.5 0M951.3 1314.7a4.75 4.1 0 1 0 9.5 0a4.75 4.1 0 1 0 -9.5 0M962.7 1314.3a4.75 4.1 0 1 0 9.5 0a4.75 4.1 0 1 0 -9.5 0M936.8 1329.7a4.75 4.1 0 1 0 9.5 0a4.75 4.1 0 1 0 -9.5 0M954.0 1327.9a4.75 4.1 0 1 0 9.5 0a4.75 4.1 0 1 0 -9.5 0M924.5 1355.1a4.75 4.1 0 1 0 9.5 0a4.75 4.1 0 1 0 -9.5 0M964.0 1362.9a4.75 4.1 0 1 0 9.5 0a4.75 4.1 0 1 0 -9.5 0M909.1 1369.2a4.75 4.1 0 1 0 9.5 0a4.75 4.1 0 1 0 -9.5 0M931.0 1371.4a4.75 4.1 0 1 0 9.5 0a4.75 4.1 0 1 0 -9.5 0M953.1 1374.5a4.75 4.1 0 1 0 9.5 0a4.75 4.1 0 1 0 -9.5 0M969.1 1374.1a4.75 4.1 0 1 0 9.5 0a4.75 4.1 0 1 0 -9.5 0M949.5 1385.0a4.75 4.1 0 1 0 9.5 0a4.75 4.1 0 1 0 -9.5 0M945.0 1390.5a4.75 4.1 0 1 0 9.5 0a4.75 4.1 0 1 0 -9.5 0M952.2 1395.0a4.75 4.1 0 1 0 9.5 0a4.75 4.1 0 1 0 -9.5 0M964.6 1404.4a4.75 4.1 0 1 0 9.5 0a4.75 4.1 0 1 0 -9.5 0M930.5 1412.2a4.75 4.1 0 1 0 9.5 0a4.75 4.1 0 1 0 -9.5 0M939.5 1411.8a4.75 4.1 0 1 0 9.5 0a4.75 4.1 0 1 0 -9.5 0M948.6 1420.0a4.75 4.1 0 1 0 9.5 0a4.75 4.1 0 1 0 -9.5 0M956.8 1419.5a4.75 4.1 0 1 0 9.5 0a4.75 4.1 0 1 0 -9.5 0M959.5 1423.1a4.75 4.1 0 1 0 9.5 0a4.75 4.1 0 1 0 -9.5 0M921.4 1426.7a4.75 4.1 0 1 0 9.5 0a4.75 4.1 0 1 0 -9.5 0M927.8 1431.2a4.75 4.1 0 1 0 9.5 0a4.75 4.1 0 1 0 -9.5 0M955.9 1432.1a4.75 4.1 0 1 0 9.5 0a4.75 4.1 0 1 0 -9.5 0M962.2 1428.5a4.75 4.1 0 1 0 9.5 0a4.75 4.1 0 1 0 -9.5 0M963.1 1434.9a4.75 4.1 0 1 0 9.5 0a4.75 4.1 0 1 0 -9.5 0M899.1 1436.3a4.75 4.1 0 1 0 9.5 0a4.75 4.1 0 1 0 -9.5 0M932.7 1439.4a4.75 4.1 0 1 0 9.5 0a4.75 4.1 0 1 0 -9.5 0M967.6 1443.0a4.75 4.1 0 1 0 9.5 0a4.75 4.1 0 1 0 -9.5 0M943.2 1447.6a4.75 4.1 0 1 0 9.5 0a4.75 4.1 0 1 0 -9.5 0M965.8 1449.4a4.75 4.1 0 1 0 9.5 0a4.75 4.1 0 1 0 -9.5 0M969.4 1448.5a4.75 4.1 0 1 0 9.5 0a4.75 4.1 0 1 0 -9.5 0M954.6 1453.9a4.75 4.1 0 1 0 9.5 0a4.75 4.1 0 1 0 -9.5 0M917.8 1461.5a4.75 4.1 0 1 0 9.5 0a4.75 4.1 0 1 0 -9.5 0M935.0 1460.2a4.75 4.1 0 1 0 9.5 0a4.75 4.1 0 1 0 -9.5 0M949.5 1461.1a4.75 4.1 0 1 0 9.5 0a4.75 4.1 0 1 0 -9.5 0M940.4 1462.1a4.75 4.1 0 1 0 9.5 0a4.75 4.1 0 1 0 -9.5 0M956.8 1457.5a4.75 4.1 0 1 0 9.5 0a4.75 4.1 0 1 0 -9.5 0M1003.2 1521.6a4.75 4.1 0 1 0 9.5 0a4.75 4.1 0 1 0 -9.5 0M1040.4 1522.5a4.75 4.1 0 1 0 9.5 0a4.75 4.1 0 1 0 -9.5 0M1050.0 1524.0a4.75 4.1 0 1 0 9.5 0a4.75 4.1 0 1 0 -9.5 0M1088.4 1521.1a4.75 4.1 0 1 0 9.5 0a4.75 4.1 0 1 0 -9.5 0M1083.9 1526.2a4.75 4.1 0 1 0 9.5 0a4.75 4.1 0 1 0 -9.5 0M1051.8 1540.7a4.75 4.1 0 1 0 9.5 0a4.75 4.1 0 1 0 -9.5 0M1014.1 1529.8a4.75 4.1 0 1 0 9.5 0a4.75 4.1 0 1 0 -9.5 0M1025.0 1532.5a4.75 4.1 0 1 0 9.5 0a4.75 4.1 0 1 0 -9.5 0M1031.3 1535.2a4.75 4.1 0 1 0 9.5 0a4.75 4.1 0 1 0 -9.5 0M1034.9 1538.9a4.75 4.1 0 1 0 9.5 0a4.75 4.1 0 1 0 -9.5 0M1004.1 1537.9a4.75 4.1 0 1 0 9.5 0a4.75 4.1 0 1 0 -9.5 0M994.2 1537.0a4.75 4.1 0 1 0 9.5 0a4.75 4.1 0 1 0 -9.5 0M976.0 1528.9a4.75 4.1 0 1 0 9.5 0a4.75 4.1 0 1 0 -9.5 0M987.8 1527.1a4.75 4.1 0 1 0 9.5 0a4.75 4.1 0 1 0 -9.5 0M976.9 1544.3a4.75 4.1 0 1 0 9.5 0a4.75 4.1 0 1 0 -9.5 0M1015.0 1545.2a4.75 4.1 0 1 0 9.5 0a4.75 4.1 0 1 0 -9.5 0M1027.7 1548.8a4.75 4.1 0 1 0 9.5 0a4.75 4.1 0 1 0 -9.5 0M1033.1 1547.9a4.75 4.1 0 1 0 9.5 0a4.75 4.1 0 1 0 -9.5 0M1016.8 1550.6a4.75 4.1 0 1 0 9.5 0a4.75 4.1 0 1 0 -9.5 0M996.9 1553.4a4.75 4.1 0 1 0 9.5 0a4.75 4.1 0 1 0 -9.5 0M989.6 1558.8a4.75 4.1 0 1 0 9.5 0a4.75 4.1 0 1 0 -9.5 0M1002.3 1557.9a4.75 4.1 0 1 0 9.5 0a4.75 4.1 0 1 0 -9.5 0M1008.7 1558.8a4.75 4.1 0 1 0 9.5 0a4.75 4.1 0 1 0 -9.5 0M1071.2 1567.9a4.75 4.1 0 1 0 9.5 0a4.75 4.1 0 1 0 -9.5 0M1048.5 1570.6a4.75 4.1 0 1 0 9.5 0a4.75 4.1 0 1 0 -9.5 0M1029.5 1570.9a4.75 4.1 0 1 0 9.5 0a4.75 4.1 0 1 0 -9.5 0M1017.7 1574.2a4.75 4.1 0 1 0 9.5 0a4.75 4.1 0 1 0 -9.5 0M1009.6 1572.4a4.75 4.1 0 1 0 9.5 0a4.75 4.1 0 1 0 -9.5 0M1000.5 1577.8a4.75 4.1 0 1 0 9.5 0a4.75 4.1 0 1 0 -9.5 0M1031.3 1580.0a4.75 4.1 0 1 0 9.5 0a4.75 4.1 0 1 0 -9.5 0M1050.4 1581.1a4.75 4.1 0 1 0 9.5 0a4.75 4.1 0 1 0 -9.5 0M1015.0 1581.4a4.75 4.1 0 1 0 9.5 0a4.75 4.1 0 1 0 -9.5 0M1011.4 1585.1a4.75 4.1 0 1 0 9.5 0a4.75 4.1 0 1 0 -9.5 0M1051.3 1587.8a4.75 4.1 0 1 0 9.5 0a4.75 4.1 0 1 0 -9.5 0M1044.0 1590.9a4.75 4.1 0 1 0 9.5 0a4.75 4.1 0 1 0 -9.5 0M993.3 1590.5a4.75 4.1 0 1 0 9.5 0a4.75 4.1 0 1 0 -9.5 0M993.3 1596.0a4.75 4.1 0 1 0 9.5 0a4.75 4.1 0 1 0 -9.5 0M1067.9 1601.4a4.75 4.1 0 1 0 9.5 0a4.75 4.1 0 1 0 -9.5 0M1013.2 1603.2a4.75 4.1 0 1 0 9.5 0a4.75 4.1 0 1 0 -9.5 0M979.7 1603.2a4.75 4.1 0 1 0 9.5 0a4.75 4.1 0 1 0 -9.5 0M1023.7 1614.1a4.75 4.1 0 1 0 9.5 0a4.75 4.1 0 1 0 -9.5 0M995.1 1617.7a4.75 4.1 0 1 0 9.5 0a4.75 4.1 0 1 0 -9.5 0M983.3 1619.5a4.75 4.1 0 1 0 9.5 0a4.75 4.1 0 1 0 -9.5 0M1067.2 1618.6a4.75 4.1 0 1 0 9.5 0a4.75 4.1 0 1 0 -9.5 0M1080.3 1621.3a4.75 4.1 0 1 0 9.5 0a4.75 4.1 0 1 0 -9.5 0M1092.0 1623.1a4.75 4.1 0 1 0 9.5 0a4.75 4.1 0 1 0 -9.5 0M1101.1 1625.9a4.75 4.1 0 1 0 9.5 0a4.75 4.1 0 1 0 -9.5 0M1041.8 1624.0a4.75 4.1 0 1 0 9.5 0a4.75 4.1 0 1 0 -9.5 0M1050.4 1628.6a4.75 4.1 0 1 0 9.5 0a4.75 4.1 0 1 0 -9.5 0M1030.4 1629.5a4.75 4.1 0 1 0 9.5 0a4.75 4.1 0 1 0 -9.5 0M997.8 1635.8a4.75 4.1 0 1 0 9.5 0a4.75 4.1 0 1 0 -9.5 0M980.6 1631.3a4.75 4.1 0 1 0 9.5 0a4.75 4.1 0 1 0 -9.5 0M1046.4 1640.7a4.75 4.1 0 1 0 9.5 0a4.75 4.1 0 1 0 -9.5 0M987.8 1641.3a4.75 4.1 0 1 0 9.5 0a4.75 4.1 0 1 0 -9.5 0M1192.7 1637.6a4.75 4.1 0 1 0 9.5 0a4.75 4.1 0 1 0 -9.5 0M1136.5 1649.4a4.75 4.1 0 1 0 9.5 0a4.75 4.1 0 1 0 -9.5 0M1002.3 1650.3a4.75 4.1 0 1 0 9.5 0a4.75 4.1 0 1 0 -9.5 0M987.8 1646.7a4.75 4.1 0 1 0 9.5 0a4.75 4.1 0 1 0 -9.5 0M967.0 1651.2a4.75 4.1 0 1 0 9.5 0a4.75 4.1 0 1 0 -9.5 0M996.0 1660.3a4.75 4.1 0 1 0 9.5 0a4.75 4.1 0 1 0 -9.5 0M989.6 1665.7a4.75 4.1 0 1 0 9.5 0a4.75 4.1 0 1 0 -9.5 0M976.9 1668.5a4.75 4.1 0 1 0 9.5 0a4.75 4.1 0 1 0 -9.5 0M965.2 1659.4a4.75 4.1 0 1 0 9.5 0a4.75 4.1 0 1 0 -9.5 0M959.7 1682.1a4.75 4.1 0 1 0 9.5 0a4.75 4.1 0 1 0 -9.5 0M1020.2 1693.8a4.75 4.1 0 1 0 9.5 0a4.75 4.1 0 1 0 -9.5 0M1040.8 1692.6a4.75 4.1 0 1 0 9.5 0a4.75 4.1 0 1 0 -9.5 0M966.5 1699.2a4.75 4.1 0 1 0 9.5 0a4.75 4.1 0 1 0 -9.5 0M958.2 1710.7a4.75 4.1 0 1 0 9.5 0a4.75 4.1 0 1 0 -9.5 0M762.8 1696.2a4.75 4.1 0 1 0 9.5 0a4.75 4.1 0 1 0 -9.5 0M847.6 1745.5a4.75 4.1 0 1 0 9.5 0a4.75 4.1 0 1 0 -9.5 0M840.1 1720.2a4.75 4.1 0 1 0 9.5 0a4.75 4.1 0 1 0 -9.5 0M903.2 1714.3a4.75 4.1 0 1 0 9.5 0a4.75 4.1 0 1 0 -9.5 0M848.3 1748.1a4.75 4.1 0 1 0 9.5 0a4.75 4.1 0 1 0 -9.5 0M901.4 1711.8a4.75 4.1 0 1 0 9.5 0a4.75 4.1 0 1 0 -9.5 0M871.2 1730.2a4.75 4.1 0 1 0 9.5 0a4.75 4.1 0 1 0 -9.5 0M902.1 1717.3a4.75 4.1 0 1 0 9.5 0a4.75 4.1 0 1 0 -9.5 0M861.4 1759.7a4.75 4.1 0 1 0 9.5 0a4.75 4.1 0 1 0 -9.5 0M883.7 1711.1a4.75 4.1 0 1 0 9.5 0a4.75 4.1 0 1 0 -9.5 0M844.1 1737.0a4.75 4.1 0 1 0 9.5 0a4.75 4.1 0 1 0 -9.5 0M873.9 1755.0a4.75 4.1 0 1 0 9.5 0a4.75 4.1 0 1 0 -9.5 0M894.3 1709.5a4.75 4.1 0 1 0 9.5 0a4.75 4.1 0 1 0 -9.5 0M873.9 1730.4a4.75 4.1 0 1 0 9.5 0a4.75 4.1 0 1 0 -9.5 0M899.9 1712.4a4.75 4.1 0 1 0 9.5 0a4.75 4.1 0 1 0 -9.5 0M871.9 1730.8a4.75 4.1 0 1 0 9.5 0a4.75 4.1 0 1 0 -9.5 0M855.0 1755.0a4.75 4.1 0 1 0 9.5 0a4.75 4.1 0 1 0 -9.5 0M874.4 1724.6a4.75 4.1 0 1 0 9.5 0a4.75 4.1 0 1 0 -9.5 0M854.0 1727.2a4.75 4.1 0 1 0 9.5 0a4.75 4.1 0 1 0 -9.5 0M878.6 1719.8a4.75 4.1 0 1 0 9.5 0a4.75 4.1 0 1 0 -9.5 0M853.0 1725.5a4.75 4.1 0 1 0 9.5 0a4.75 4.1 0 1 0 -9.5 0M872.3 1728.3a4.75 4.1 0 1 0 9.5 0a4.75 4.1 0 1 0 -9.5 0M854.7 1729.5a4.75 4.1 0 1 0 9.5 0a4.75 4.1 0 1 0 -9.5 0M900.4 1726.3a4.75 4.1 0 1 0 9.5 0a4.75 4.1 0 1 0 -9.5 0M902.7 1712.1a4.75 4.1 0 1 0 9.5 0a4.75 4.1 0 1 0 -9.5 0M842.7 1733.4a4.75 4.1 0 1 0 9.5 0a4.75 4.1 0 1 0 -9.5 0M879.5 1714.9a4.75 4.1 0 1 0 9.5 0a4.75 4.1 0 1 0 -9.5 0M854.6 1754.5a4.75 4.1 0 1 0 9.5 0a4.75 4.1 0 1 0 -9.5 0M877.0 1752.1a4.75 4.1 0 1 0 9.5 0a4.75 4.1 0 1 0 -9.5 0M837.8 1720.2a4.75 4.1 0 1 0 9.5 0a4.75 4.1 0 1 0 -9.5 0M856.1 1755.1a4.75 4.1 0 1 0 9.5 0a4.75 4.1 0 1 0 -9.5 0M874.6 1725.2a4.75 4.1 0 1 0 9.5 0a4.75 4.1 0 1 0 -9.5 0M901.2 1720.7a4.75 4.1 0 1 0 9.5 0a4.75 4.1 0 1 0 -9.5 0M856.9 1756.1a4.75 4.1 0 1 0 9.5 0a4.75 4.1 0 1 0 -9.5 0M845.8 1741.9a4.75 4.1 0 1 0 9.5 0a4.75 4.1 0 1 0 -9.5 0M870.3 1737.2a4.75 4.1 0 1 0 9.5 0a4.75 4.1 0 1 0 -9.5 0M880.4 1751.1a4.75 4.1 0 1 0 9.5 0a4.75 4.1 0 1 0 -9.5 0M854.9 1753.0a4.75 4.1 0 1 0 9.5 0a4.75 4.1 0 1 0 -9.5 0M847.6 1746.0a4.75 4.1 0 1 0 9.5 0a4.75 4.1 0 1 0 -9.5 0M840.9 1728.7a4.75 4.1 0 1 0 9.5 0a4.75 4.1 0 1 0 -9.5 0M853.9 1755.3a4.75 4.1 0 1 0 9.5 0a4.75 4.1 0 1 0 -9.5 0M878.5 1718.9a4.75 4.1 0 1 0 9.5 0a4.75 4.1 0 1 0 -9.5 0M882.1 1745.4a4.75 4.1 0 1 0 9.5 0a4.75 4.1 0 1 0 -9.5 0M870.8 1731.3a4.75 4.1 0 1 0 9.5 0a4.75 4.1 0 1 0 -9.5 0M899.8 1726.7a4.75 4.1 0 1 0 9.5 0a4.75 4.1 0 1 0 -9.5 0M896.2 1730.8a4.75 4.1 0 1 0 9.5 0a4.75 4.1 0 1 0 -9.5 0M839.8 1729.9a4.75 4.1 0 1 0 9.5 0a4.75 4.1 0 1 0 -9.5 0M846.0 1737.8a4.75 4.1 0 1 0 9.5 0a4.75 4.1 0 1 0 -9.5 0M865.7 1761.6a4.75 4.1 0 1 0 9.5 0a4.75 4.1 0 1 0 -9.5 0M900.4 1723.8a4.75 4.1 0 1 0 9.5 0a4.75 4.1 0 1 0 -9.5 0M892.1 1709.7a4.75 4.1 0 1 0 9.5 0a4.75 4.1 0 1 0 -9.5 0M851.6 1751.1a4.75 4.1 0 1 0 9.5 0a4.75 4.1 0 1 0 -9.5 0M886.5 1710.0a4.75 4.1 0 1 0 9.5 0a4.75 4.1 0 1 0 -9.5 0M864.1 1761.8a4.75 4.1 0 1 0 9.5 0a4.75 4.1 0 1 0 -9.5 0M877.6 1719.2a4.75 4.1 0 1 0 9.5 0a4.75 4.1 0 1 0 -9.5 0M842.2 1733.4a4.75 4.1 0 1 0 9.5 0a4.75 4.1 0 1 0 -9.5 0M884.2 1742.4a4.75 4.1 0 1 0 9.5 0a4.75 4.1 0 1 0 -9.5 0M871.9 1756.7a4.75 4.1 0 1 0 9.5 0a4.75 4.1 0 1 0 -9.5 0M868.8 1757.3a4.75 4.1 0 1 0 9.5 0a4.75 4.1 0 1 0 -9.5 0M901.5 1723.4a4.75 4.1 0 1 0 9.5 0a4.75 4.1 0 1 0 -9.5 0M865.2 1759.4a4.75 4.1 0 1 0 9.5 0a4.75 4.1 0 1 0 -9.5 0M838.5 1719.1a4.75 4.1 0 1 0 9.5 0a4.75 4.1 0 1 0 -9.5 0M904.0 1715.8a4.75 4.1 0 1 0 9.5 0a4.75 4.1 0 1 0 -9.5 0M840.9 1715.5a4.75 4.1 0 1 0 9.5 0a4.75 4.1 0 1 0 -9.5 0M869.9 1739.4a4.75 4.1 0 1 0 9.5 0a4.75 4.1 0 1 0 -9.5 0M884.3 1713.4a4.75 4.1 0 1 0 9.5 0a4.75 4.1 0 1 0 -9.5 0M857.0 1756.1a4.75 4.1 0 1 0 9.5 0a4.75 4.1 0 1 0 -9.5 0M895.0 1707.9a4.75 4.1 0 1 0 9.5 0a4.75 4.1 0 1 0 -9.5 0M840.6 1722.1a4.75 4.1 0 1 0 9.5 0a4.75 4.1 0 1 0 -9.5 0M886.6 1739.5a4.75 4.1 0 1 0 9.5 0a4.75 4.1 0 1 0 -9.5 0M857.6 1730.4a4.75 4.1 0 1 0 9.5 0a4.75 4.1 0 1 0 -9.5 0M846.1 1737.1a4.75 4.1 0 1 0 9.5 0a4.75 4.1 0 1 0 -9.5 0M894.6 1732.0a4.75 4.1 0 1 0 9.5 0a4.75 4.1 0 1 0 -9.5 0M882.5 1746.4a4.75 4.1 0 1 0 9.5 0a4.75 4.1 0 1 0 -9.5 0M850.6 1718.6a4.75 4.1 0 1 0 9.5 0a4.75 4.1 0 1 0 -9.5 0M864.2 1743.0a4.75 4.1 0 1 0 9.5 0a4.75 4.1 0 1 0 -9.5 0M900.1 1721.0a4.75 4.1 0 1 0 9.5 0a4.75 4.1 0 1 0 -9.5 0M881.7 1712.8a4.75 4.1 0 1 0 9.5 0a4.75 4.1 0 1 0 -9.5 0M888.9 1709.5a4.75 4.1 0 1 0 9.5 0a4.75 4.1 0 1 0 -9.5 0M902.4 1714.7a4.75 4.1 0 1 0 9.5 0a4.75 4.1 0 1 0 -9.5 0M849.4 1719.6a4.75 4.1 0 1 0 9.5 0a4.75 4.1 0 1 0 -9.5 0M852.6 1751.8a4.75 4.1 0 1 0 9.5 0a4.75 4.1 0 1 0 -9.5 0M903.4 1719.4a4.75 4.1 0 1 0 9.5 0a4.75 4.1 0 1 0 -9.5 0M902.7 1717.2a4.75 4.1 0 1 0 9.5 0a4.75 4.1 0 1 0 -9.5 0M903.8 1715.5a4.75 4.1 0 1 0 9.5 0a4.75 4.1 0 1 0 -9.5 0M893.0 1710.7a4.75 4.1 0 1 0 9.5 0a4.75 4.1 0 1 0 -9.5 0M881.9 1747.3a4.75 4.1 0 1 0 9.5 0a4.75 4.1 0 1 0 -9.5 0M846.2 1740.0a4.75 4.1 0 1 0 9.5 0a4.75 4.1 0 1 0 -9.5 0M873.9 1724.1a4.75 4.1 0 1 0 9.5 0a4.75 4.1 0 1 0 -9.5 0M861.4 1758.7a4.75 4.1 0 1 0 9.5 0a4.75 4.1 0 1 0 -9.5 0M852.4 1750.0a4.75 4.1 0 1 0 9.5 0a4.75 4.1 0 1 0 -9.5 0M855.8 1730.3a4.75 4.1 0 1 0 9.5 0a4.75 4.1 0 1 0 -9.5 0M877.2 1755.1a4.75 4.1 0 1 0 9.5 0a4.75 4.1 0 1 0 -9.5 0M897.1 1729.3a4.75 4.1 0 1 0 9.5 0a4.75 4.1 0 1 0 -9.5 0M880.0 1716.7a4.75 4.1 0 1 0 9.5 0a4.75 4.1 0 1 0 -9.5 0M849.3 1749.7a4.75 4.1 0 1 0 9.5 0a4.75 4.1 0 1 0 -9.5 0M858.5 1735.5a4.75 4.1 0 1 0 9.5 0a4.75 4.1 0 1 0 -9.5 0M851.3 1722.0a4.75 4.1 0 1 0 9.5 0a4.75 4.1 0 1 0 -9.5 0M897.7 1711.8a4.75 4.1 0 1 0 9.5 0a4.75 4.1 0 1 0 -9.5 0M839.6 1716.1a4.75 4.1 0 1 0 9.5 0a4.75 4.1 0 1 0 -9.5 0M859.4 1758.8a4.75 4.1 0 1 0 9.5 0a4.75 4.1 0 1 0 -9.5 0M872.7 1729.6a4.75 4.1 0 1 0 9.5 0a4.75 4.1 0 1 0 -9.5 0M876.5 1754.6a4.75 4.1 0 1 0 9.5 0a4.75 4.1 0 1 0 -9.5 0M858.3 1739.9a4.75 4.1 0 1 0 9.5 0a4.75 4.1 0 1 0 -9.5 0M874.5 1754.8a4.75 4.1 0 1 0 9.5 0a4.75 4.1 0 1 0 -9.5 0M894.2 1729.1a4.75 4.1 0 1 0 9.5 0a4.75 4.1 0 1 0 -9.5 0M860.0 1756.8a4.75 4.1 0 1 0 9.5 0a4.75 4.1 0 1 0 -9.5 0M855.4 1729.3a4.75 4.1 0 1 0 9.5 0a4.75 4.1 0 1 0 -9.5 0M850.5 1718.0a4.75 4.1 0 1 0 9.5 0a4.75 4.1 0 1 0 -9.5 0M854.1 1727.7a4.75 4.1 0 1 0 9.5 0a4.75 4.1 0 1 0 -9.5 0M843.5 1715.0a4.75 4.1 0 1 0 9.5 0a4.75 4.1 0 1 0 -9.5 0M871.1 1739.1a4.75 4.1 0 1 0 9.5 0a4.75 4.1 0 1 0 -9.5 0M897.4 1729.0a4.75 4.1 0 1 0 9.5 0a4.75 4.1 0 1 0 -9.5 0M842.7 1728.6a4.75 4.1 0 1 0 9.5 0a4.75 4.1 0 1 0 -9.5 0M853.2 1721.9a4.75 4.1 0 1 0 9.5 0a4.75 4.1 0 1 0 -9.5 0M842.2 1727.4a4.75 4.1 0 1 0 9.5 0a4.75 4.1 0 1 0 -9.5 0M839.7 1722.7a4.75 4.1 0 1 0 9.5 0a4.75 4.1 0 1 0 -9.5 0M838.1 1719.8a4.75 4.1 0 1 0 9.5 0a4.75 4.1 0 1 0 -9.5 0M890.3 1738.3a4.75 4.1 0 1 0 9.5 0a4.75 4.1 0 1 0 -9.5 0M845.1 1715.4a4.75 4.1 0 1 0 9.5 0a4.75 4.1 0 1 0 -9.5 0M887.8 1738.4a4.75 4.1 0 1 0 9.5 0a4.75 4.1 0 1 0 -9.5 0M888.6 1736.7a4.75 4.1 0 1 0 9.5 0a4.75 4.1 0 1 0 -9.5 0M862.1 1743.1a4.75 4.1 0 1 0 9.5 0a4.75 4.1 0 1 0 -9.5 0M891.4 1735.4a4.75 4.1 0 1 0 9.5 0a4.75 4.1 0 1 0 -9.5 0M844.7 1735.7a4.75 4.1 0 1 0 9.5 0a4.75 4.1 0 1 0 -9.5 0M892.1 1710.8a4.75 4.1 0 1 0 9.5 0a4.75 4.1 0 1 0 -9.5 0M885.3 1710.2a4.75 4.1 0 1 0 9.5 0a4.75 4.1 0 1 0 -9.5 0M851.6 1718.9a4.75 4.1 0 1 0 9.5 0a4.75 4.1 0 1 0 -9.5 0M896.0 1730.7a4.75 4.1 0 1 0 9.5 0a4.75 4.1 0 1 0 -9.5 0M889.2 1740.3a4.75 4.1 0 1 0 9.5 0a4.75 4.1 0 1 0 -9.5 0M877.3 1716.5a4.75 4.1 0 1 0 9.5 0a4.75 4.1 0 1 0 -9.5 0M895.0 1708.2a4.75 4.1 0 1 0 9.5 0a4.75 4.1 0 1 0 -9.5 0M853.2 1751.2a4.75 4.1 0 1 0 9.5 0a4.75 4.1 0 1 0 -9.5 0M851.7 1750.6a4.75 4.1 0 1 0 9.5 0a4.75 4.1 0 1 0 -9.5 0M846.7 1717.3a4.75 4.1 0 1 0 9.5 0a4.75 4.1 0 1 0 -9.5 0M872.1 1734.8a4.75 4.1 0 1 0 9.5 0a4.75 4.1 0 1 0 -9.5 0M857.2 1734.3a4.75 4.1 0 1 0 9.5 0a4.75 4.1 0 1 0 -9.5 0M889.2 1711.9a4.75 4.1 0 1 0 9.5 0a4.75 4.1 0 1 0 -9.5 0M901.8 1714.1a4.75 4.1 0 1 0 9.5 0a4.75 4.1 0 1 0 -9.5 0M876.1 1752.4a4.75 4.1 0 1 0 9.5 0a4.75 4.1 0 1 0 -9.5 0M868.9 1757.2a4.75 4.1 0 1 0 9.5 0a4.75 4.1 0 1 0 -9.5 0M901.7 1720.6a4.75 4.1 0 1 0 9.5 0a4.75 4.1 0 1 0 -9.5 0M896.2 1728.9a4.75 4.1 0 1 0 9.5 0a4.75 4.1 0 1 0 -9.5 0M883.0 1713.3a4.75 4.1 0 1 0 9.5 0a4.75 4.1 0 1 0 -9.5 0M848.6 1718.5a4.75 4.1 0 1 0 9.5 0a4.75 4.1 0 1 0 -9.5 0M860.0 1739.9a4.75 4.1 0 1 0 9.5 0a4.75 4.1 0 1 0 -9.5 0M898.9 1712.6a4.75 4.1 0 1 0 9.5 0a4.75 4.1 0 1 0 -9.5 0M866.5 1741.8a4.75 4.1 0 1 0 9.5 0a4.75 4.1 0 1 0 -9.5 0M863.5 1760.8a4.75 4.1 0 1 0 9.5 0a4.75 4.1 0 1 0 -9.5 0M841.6 1729.8a4.75 4.1 0 1 0 9.5 0a4.75 4.1 0 1 0 -9.5 0M838.6 1719.0a4.75 4.1 0 1 0 9.5 0a4.75 4.1 0 1 0 -9.5 0M903.5 1718.1a4.75 4.1 0 1 0 9.5 0a4.75 4.1 0 1 0 -9.5 0M876.4 1751.8a4.75 4.1 0 1 0 9.5 0a4.75 4.1 0 1 0 -9.5 0M895.4 1728.5a4.75 4.1 0 1 0 9.5 0a4.75 4.1 0 1 0 -9.5 0M887.9 1739.7a4.75 4.1 0 1 0 9.5 0a4.75 4.1 0 1 0 -9.5 0M861.8 1760.4a4.75 4.1 0 1 0 9.5 0a4.75 4.1 0 1 0 -9.5 0M875.0 1723.6a4.75 4.1 0 1 0 9.5 0a4.75 4.1 0 1 0 -9.5 0M857.9 1755.0a4.75 4.1 0 1 0 9.5 0a4.75 4.1 0 1 0 -9.5 0M885.5 1744.3a4.75 4.1 0 1 0 9.5 0a4.75 4.1 0 1 0 -9.5 0M877.0 1718.9a4.75 4.1 0 1 0 9.5 0a4.75 4.1 0 1 0 -9.5 0M884.6 1712.9a4.75 4.1 0 1 0 9.5 0a4.75 4.1 0 1 0 -9.5 0M865.2 1741.5a4.75 4.1 0 1 0 9.5 0a4.75 4.1 0 1 0 -9.5 0M840.6 1730.2a4.75 4.1 0 1 0 9.5 0a4.75 4.1 0 1 0 -9.5 0M865.0 1742.0a4.75 4.1 0 1 0 9.5 0a4.75 4.1 0 1 0 -9.5 0M844.7 1714.2a4.75 4.1 0 1 0 9.5 0a4.75 4.1 0 1 0 -9.5 0M838.7 1725.6a4.75 4.1 0 1 0 9.5 0a4.75 4.1 0 1 0 -9.5 0M899.8 1711.9a4.75 4.1 0 1 0 9.5 0a4.75 4.1 0 1 0 -9.5 0M843.4 1734.8a4.75 4.1 0 1 0 9.5 0a4.75 4.1 0 1 0 -9.5 0M839.7 1719.7a4.75 4.1 0 1 0 9.5 0a4.75 4.1 0 1 0 -9.5 0M893.3 1733.3a4.75 4.1 0 1 0 9.5 0a4.75 4.1 0 1 0 -9.5 0M900.8 1722.1a4.75 4.1 0 1 0 9.5 0a4.75 4.1 0 1 0 -9.5 0M894.9 1708.8a4.75 4.1 0 1 0 9.5 0a4.75 4.1 0 1 0 -9.5 0M891.9 1732.1a4.75 4.1 0 1 0 9.5 0a4.75 4.1 0 1 0 -9.5 0M843.3 1732.8a4.75 4.1 0 1 0 9.5 0a4.75 4.1 0 1 0 -9.5 0M843.3 1736.9a4.75 4.1 0 1 0 9.5 0a4.75 4.1 0 1 0 -9.5 0M869.0 1736.9a4.75 4.1 0 1 0 9.5 0a4.75 4.1 0 1 0 -9.5 0M853.8 1720.8a4.75 4.1 0 1 0 9.5 0a4.75 4.1 0 1 0 -9.5 0M884.0 1743.1a4.75 4.1 0 1 0 9.5 0a4.75 4.1 0 1 0 -9.5 0M892.2 1732.0a4.75 4.1 0 1 0 9.5 0a4.75 4.1 0 1 0 -9.5 0M884.5 1710.1a4.75 4.1 0 1 0 9.5 0a4.75 4.1 0 1 0 -9.5 0M891.9 1732.4a4.75 4.1 0 1 0 9.5 0a4.75 4.1 0 1 0 -9.5 0M884.8 1713.5a4.75 4.1 0 1 0 9.5 0a4.75 4.1 0 1 0 -9.5 0M854.1 1723.8a4.75 4.1 0 1 0 9.5 0a4.75 4.1 0 1 0 -9.5 0M871.6 1730.0a4.75 4.1 0 1 0 9.5 0a4.75 4.1 0 1 0 -9.5 0M878.5 1716.2a4.75 4.1 0 1 0 9.5 0a4.75 4.1 0 1 0 -9.5 0M887.9 1737.3a4.75 4.1 0 1 0 9.5 0a4.75 4.1 0 1 0 -9.5 0M842.8 1733.2a4.75 4.1 0 1 0 9.5 0a4.75 4.1 0 1 0 -9.5 0M891.2 1733.4a4.75 4.1 0 1 0 9.5 0a4.75 4.1 0 1 0 -9.5 0M848.2 1747.0a4.75 4.1 0 1 0 9.5 0a4.75 4.1 0 1 0 -9.5 0M858.9 1736.7a4.75 4.1 0 1 0 9.5 0a4.75 4.1 0 1 0 -9.5 0M895.7 1729.2a4.75 4.1 0 1 0 9.5 0a4.75 4.1 0 1 0 -9.5 0M890.6 1710.2a4.75 4.1 0 1 0 9.5 0a4.75 4.1 0 1 0 -9.5 0M846.4 1740.3a4.75 4.1 0 1 0 9.5 0a4.75 4.1 0 1 0 -9.5 0M857.0 1732.1a4.75 4.1 0 1 0 9.5 0a4.75 4.1 0 1 0 -9.5 0M904.0 1718.4a4.75 4.1 0 1 0 9.5 0a4.75 4.1 0 1 0 -9.5 0M856.4 1755.1a4.75 4.1 0 1 0 9.5 0a4.75 4.1 0 1 0 -9.5 0M863.3 1742.9a4.75 4.1 0 1 0 9.5 0a4.75 4.1 0 1 0 -9.5 0M858.8 1737.9a4.75 4.1 0 1 0 9.5 0a4.75 4.1 0 1 0 -9.5 0M895.3 1710.7a4.75 4.1 0 1 0 9.5 0a4.75 4.1 0 1 0 -9.5 0M870.1 1756.5a4.75 4.1 0 1 0 9.5 0a4.75 4.1 0 1 0 -9.5 0M843.4 1732.2a4.75 4.1 0 1 0 9.5 0a4.75 4.1 0 1 0 -9.5 0M869.8 1733.8a4.75 4.1 0 1 0 9.5 0a4.75 4.1 0 1 0 -9.5 0M899.9 1723.2a4.75 4.1 0 1 0 9.5 0a4.75 4.1 0 1 0 -9.5 0M861.5 1741.2a4.75 4.1 0 1 0 9.5 0a4.75 4.1 0 1 0 -9.5 0M887.3 1742.4a4.75 4.1 0 1 0 9.5 0a4.75 4.1 0 1 0 -9.5 0M860.3 1760.1a4.75 4.1 0 1 0 9.5 0a4.75 4.1 0 1 0 -9.5 0M875.6 1754.3a4.75 4.1 0 1 0 9.5 0a4.75 4.1 0 1 0 -9.5 0M840.5 1724.8a4.75 4.1 0 1 0 9.5 0a4.75 4.1 0 1 0 -9.5 0M853.0 1720.8a4.75 4.1 0 1 0 9.5 0a4.75 4.1 0 1 0 -9.5 0M901.4 1724.9a4.75 4.1 0 1 0 9.5 0a4.75 4.1 0 1 0 -9.5 0M849.8 1746.5a4.75 4.1 0 1 0 9.5 0a4.75 4.1 0 1 0 -9.5 0M898.5 1724.9a4.75 4.1 0 1 0 9.5 0a4.75 4.1 0 1 0 -9.5 0M854.8 1724.2a4.75 4.1 0 1 0 9.5 0a4.75 4.1 0 1 0 -9.5 0M869.2 1760.0a4.75 4.1 0 1 0 9.5 0a4.75 4.1 0 1 0 -9.5 0M897.7 1710.8a4.75 4.1 0 1 0 9.5 0a4.75 4.1 0 1 0 -9.5 0M857.2 1731.2a4.75 4.1 0 1 0 9.5 0a4.75 4.1 0 1 0 -9.5 0M867.1 1759.5a4.75 4.1 0 1 0 9.5 0a4.75 4.1 0 1 0 -9.5 0M904.2 1714.1a4.75 4.1 0 1 0 9.5 0a4.75 4.1 0 1 0 -9.5 0M861.1 1740.4a4.75 4.1 0 1 0 9.5 0a4.75 4.1 0 1 0 -9.5 0M896.7 1711.1a4.75 4.1 0 1 0 9.5 0a4.75 4.1 0 1 0 -9.5 0M854.6 1730.2a4.75 4.1 0 1 0 9.5 0a4.75 4.1 0 1 0 -9.5 0M854.2 1724.8a4.75 4.1 0 1 0 9.5 0a4.75 4.1 0 1 0 -9.5 0M846.1 1716.2a4.75 4.1 0 1 0 9.5 0a4.75 4.1 0 1 0 -9.5 0M846.1 1714.6a4.75 4.1 0 1 0 9.5 0a4.75 4.1 0 1 0 -9.5 0M841.7 1714.1a4.75 4.1 0 1 0 9.5 0a4.75 4.1 0 1 0 -9.5 0M859.3 1758.8a4.75 4.1 0 1 0 9.5 0a4.75 4.1 0 1 0 -9.5 0M839.1 1718.6a4.75 4.1 0 1 0 9.5 0a4.75 4.1 0 1 0 -9.5 0M851.2 1748.9a4.75 4.1 0 1 0 9.5 0a4.75 4.1 0 1 0 -9.5 0M840.7 1722.5a4.75 4.1 0 1 0 9.5 0a4.75 4.1 0 1 0 -9.5 0M870.2 1736.6a4.75 4.1 0 1 0 9.5 0a4.75 4.1 0 1 0 -9.5 0M883.8 1711.8a4.75 4.1 0 1 0 9.5 0a4.75 4.1 0 1 0 -9.5 0M903.3 1715.9a4.75 4.1 0 1 0 9.5 0a4.75 4.1 0 1 0 -9.5 0M895.9 1728.0a4.75 4.1 0 1 0 9.5 0a4.75 4.1 0 1 0 -9.5 0M891.2 1710.5a4.75 4.1 0 1 0 9.5 0a4.75 4.1 0 1 0 -9.5 0M880.6 1750.5a4.75 4.1 0 1 0 9.5 0a4.75 4.1 0 1 0 -9.5 0M847.5 1743.9a4.75 4.1 0 1 0 9.5 0a4.75 4.1 0 1 0 -9.5 0M880.6 1748.8a4.75 4.1 0 1 0 9.5 0a4.75 4.1 0 1 0 -9.5 0M838.3 1721.3a4.75 4.1 0 1 0 9.5 0a4.75 4.1 0 1 0 -9.5 0M875.5 1723.1a4.75 4.1 0 1 0 9.5 0a4.75 4.1 0 1 0 -9.5 0M874.8 1727.2a4.75 4.1 0 1 0 9.5 0a4.75 4.1 0 1 0 -9.5 0M884.0 1746.7a4.75 4.1 0 1 0 9.5 0a4.75 4.1 0 1 0 -9.5 0M875.2 1757.8a4.75 4.1 0 1 0 9.5 0a4.75 4.1 0 1 0 -9.5 0M903.2 1726.8a4.75 4.1 0 1 0 9.5 0a4.75 4.1 0 1 0 -9.5 0M884.8 1709.1a4.75 4.1 0 1 0 9.5 0a4.75 4.1 0 1 0 -9.5 0M893.3 1705.9a4.75 4.1 0 1 0 9.5 0a4.75 4.1 0 1 0 -9.5 0M839.9 1712.3a4.75 4.1 0 1 0 9.5 0a4.75 4.1 0 1 0 -9.5 0M843.8 1710.9a4.75 4.1 0 1 0 9.5 0a4.75 4.1 0 1 0 -9.5 0M867.7 1734.4a4.75 4.1 0 1 0 9.5 0a4.75 4.1 0 1 0 -9.5 0M866.3 1738.4a4.75 4.1 0 1 0 9.5 0a4.75 4.1 0 1 0 -9.5 0M849.5 1713.9a4.75 4.1 0 1 0 9.5 0a4.75 4.1 0 1 0 -9.5 0M889.7 1708.6a4.75 4.1 0 1 0 9.5 0a4.75 4.1 0 1 0 -9.5 0M839.0 1733.6a4.75 4.1 0 1 0 9.5 0a4.75 4.1 0 1 0 -9.5 0M872.6 1726.1a4.75 4.1 0 1 0 9.5 0a4.75 4.1 0 1 0 -9.5 0M849.7 1752.4a4.75 4.1 0 1 0 9.5 0a4.75 4.1 0 1 0 -9.5 0M872.0 1760.8a4.75 4.1 0 1 0 9.5 0a4.75 4.1 0 1 0 -9.5 0M898.3 1706.9a4.75 4.1 0 1 0 9.5 0a4.75 4.1 0 1 0 -9.5 0M837.4 1712.3a4.75 4.1 0 1 0 9.5 0a4.75 4.1 0 1 0 -9.5 0M835.9 1716.2a4.75 4.1 0 1 0 9.5 0a4.75 4.1 0 1 0 -9.5 0M859.5 1732.9a4.75 4.1 0 1 0 9.5 0a4.75 4.1 0 1 0 -9.5 0M899.4 1732.1a4.75 4.1 0 1 0 9.5 0a4.75 4.1 0 1 0 -9.5 0M862.0 1734.1a4.75 4.1 0 1 0 9.5 0a4.75 4.1 0 1 0 -9.5 0M880.7 1711.3a4.75 4.1 0 1 0 9.5 0a4.75 4.1 0 1 0 -9.5 0M851.9 1755.7a4.75 4.1 0 1 0 9.5 0a4.75 4.1 0 1 0 -9.5 0M835.0 1720.7a4.75 4.1 0 1 0 9.5 0a4.75 4.1 0 1 0 -9.5 0M858.7 1729.9a4.75 4.1 0 1 0 9.5 0a4.75 4.1 0 1 0 -9.5 0M885.2 1749.4a4.75 4.1 0 1 0 9.5 0a4.75 4.1 0 1 0 -9.5 0M906.8 1713.1a4.75 4.1 0 1 0 9.5 0a4.75 4.1 0 1 0 -9.5 0M873.8 1760.1a4.75 4.1 0 1 0 9.5 0a4.75 4.1 0 1 0 -9.5 0M839.0 1729.9a4.75 4.1 0 1 0 9.5 0a4.75 4.1 0 1 0 -9.5 0M854.5 1758.0a4.75 4.1 0 1 0 9.5 0a4.75 4.1 0 1 0 -9.5 0M864.5 1739.4a4.75 4.1 0 1 0 9.5 0a4.75 4.1 0 1 0 -9.5 0M839.7 1731.0a4.75 4.1 0 1 0 9.5 0a4.75 4.1 0 1 0 -9.5 0M850.5 1754.9a4.75 4.1 0 1 0 9.5 0a4.75 4.1 0 1 0 -9.5 0M892.9 1706.4a4.75 4.1 0 1 0 9.5 0a4.75 4.1 0 1 0 -9.5 0M903.5 1722.6a4.75 4.1 0 1 0 9.5 0a4.75 4.1 0 1 0 -9.5 0M897.6 1706.8a4.75 4.1 0 1 0 9.5 0a4.75 4.1 0 1 0 -9.5 0M855.1 1720.1a4.75 4.1 0 1 0 9.5 0a4.75 4.1 0 1 0 -9.5 0M837.4 1721.8a4.75 4.1 0 1 0 9.5 0a4.75 4.1 0 1 0 -9.5 0M836.3 1723.2a4.75 4.1 0 1 0 9.5 0a4.75 4.1 0 1 0 -9.5 0M834.9 1716.5a4.75 4.1 0 1 0 9.5 0a4.75 4.1 0 1 0 -9.5 0M869.7 1760.4a4.75 4.1 0 1 0 9.5 0a4.75 4.1 0 1 0 -9.5 0M839.2 1688.0a4.75 4.1 0 1 0 9.5 0a4.75 4.1 0 1 0 -9.5 0M838.0 1709.4a4.75 4.1 0 1 0 9.5 0a4.75 4.1 0 1 0 -9.5 0M844.2 1664.2a4.75 4.1 0 1 0 9.5 0a4.75 4.1 0 1 0 -9.5 0M829.7 1667.4a4.75 4.1 0 1 0 9.5 0a4.75 4.1 0 1 0 -9.5 0M834.0 1668.1a4.75 4.1 0 1 0 9.5 0a4.75 4.1 0 1 0 -9.5 0M822.6 1660.6a4.75 4.1 0 1 0 9.5 0a4.75 4.1 0 1 0 -9.5 0M820.9 1659.9a4.75 4.1 0 1 0 9.5 0a4.75 4.1 0 1 0 -9.5 0M819.3 1667.1a4.75 4.1 0 1 0 9.5 0a4.75 4.1 0 1 0 -9.5 0M843.2 1681.8a4.75 4.1 0 1 0 9.5 0a4.75 4.1 0 1 0 -9.5 0M854.9 1710.6a4.75 4.1 0 1 0 9.5 0a4.75 4.1 0 1 0 -9.5 0M838.8 1669.4a4.75 4.1 0 1 0 9.5 0a4.75 4.1 0 1 0 -9.5 0M848.8 1709.4a4.75 4.1 0 1 0 9.5 0a4.75 4.1 0 1 0 -9.5 0M829.0 1704.8a4.75 4.1 0 1 0 9.5 0a4.75 4.1 0 1 0 -9.5 0M827.4 1674.3a4.75 4.1 0 1 0 9.5 0a4.75 4.1 0 1 0 -9.5 0M834.9 1674.5a4.75 4.1 0 1 0 9.5 0a4.75 4.1 0 1 0 -9.5 0M844.6 1701.4a4.75 4.1 0 1 0 9.5 0a4.75 4.1 0 1 0 -9.5 0M837.9 1688.9a4.75 4.1 0 1 0 9.5 0a4.75 4.1 0 1 0 -9.5 0M833.2 1708.3a4.75 4.1 0 1 0 9.5 0a4.75 4.1 0 1 0 -9.5 0M835.4 1681.0a4.75 4.1 0 1 0 9.5 0a4.75 4.1 0 1 0 -9.5 0M836.9 1703.1a4.75 4.1 0 1 0 9.5 0a4.75 4.1 0 1 0 -9.5 0M823.6 1661.7a4.75 4.1 0 1 0 9.5 0a4.75 4.1 0 1 0 -9.5 0M840.0 1667.3a4.75 4.1 0 1 0 9.5 0a4.75 4.1 0 1 0 -9.5 0M839.5 1706.9a4.75 4.1 0 1 0 9.5 0a4.75 4.1 0 1 0 -9.5 0M846.8 1698.8a4.75 4.1 0 1 0 9.5 0a4.75 4.1 0 1 0 -9.5 0M829.1 1699.6a4.75 4.1 0 1 0 9.5 0a4.75 4.1 0 1 0 -9.5 0M828.1 1693.7a4.75 4.1 0 1 0 9.5 0a4.75 4.1 0 1 0 -9.5 0M825.6 1682.8a4.75 4.1 0 1 0 9.5 0a4.75 4.1 0 1 0 -9.5 0M826.2 1688.2a4.75 4.1 0 1 0 9.5 0a4.75 4.1 0 1 0 -9.5 0M828.8 1653.4a4.75 4.1 0 1 0 9.5 0a4.75 4.1 0 1 0 -9.5 0M825.8 1688.9a4.75 4.1 0 1 0 9.5 0a4.75 4.1 0 1 0 -9.5 0M825.8 1692.4a4.75 4.1 0 1 0 9.5 0a4.75 4.1 0 1 0 -9.5 0M827.1 1675.8a4.75 4.1 0 1 0 9.5 0a4.75 4.1 0 1 0 -9.5 0M846.1 1704.9a4.75 4.1 0 1 0 9.5 0a4.75 4.1 0 1 0 -9.5 0M824.5 1659.1a4.75 4.1 0 1 0 9.5 0a4.75 4.1 0 1 0 -9.5 0M840.0 1691.5a4.75 4.1 0 1 0 9.5 0a4.75 4.1 0 1 0 -9.5 0M842.8 1688.5a4.75 4.1 0 1 0 9.5 0a4.75 4.1 0 1 0 -9.5 0M839.8 1661.1a4.75 4.1 0 1 0 9.5 0a4.75 4.1 0 1 0 -9.5 0M823.2 1690.7a4.75 4.1 0 1 0 9.5 0a4.75 4.1 0 1 0 -9.5 0M835.4 1666.8a4.75 4.1 0 1 0 9.5 0a4.75 4.1 0 1 0 -9.5 0M834.5 1693.4a4.75 4.1 0 1 0 9.5 0a4.75 4.1 0 1 0 -9.5 0M847.7 1677.0a4.75 4.1 0 1 0 9.5 0a4.75 4.1 0 1 0 -9.5 0M826.9 1673.2a4.75 4.1 0 1 0 9.5 0a4.75 4.1 0 1 0 -9.5 0M821.5 1667.3a4.75 4.1 0 1 0 9.5 0a4.75 4.1 0 1 0 -9.5 0M837.2 1695.6a4.75 4.1 0 1 0 9.5 0a4.75 4.1 0 1 0 -9.5 0M851.8 1707.1a4.75 4.1 0 1 0 9.5 0a4.75 4.1 0 1 0 -9.5 0M841.3 1691.6a4.75 4.1 0 1 0 9.5 0a4.75 4.1 0 1 0 -9.5 0M837.2 1668.5a4.75 4.1 0 1 0 9.5 0a4.75 4.1 0 1 0 -9.5 0M828.2 1689.3a4.75 4.1 0 1 0 9.5 0a4.75 4.1 0 1 0 -9.5 0M835.3 1675.6a4.75 4.1 0 1 0 9.5 0a4.75 4.1 0 1 0 -9.5 0M838.4 1660.2a4.75 4.1 0 1 0 9.5 0a4.75 4.1 0 1 0 -9.5 0M817.5 1664.9a4.75 4.1 0 1 0 9.5 0a4.75 4.1 0 1 0 -9.5 0M829.1 1666.9a4.75 4.1 0 1 0 9.5 0a4.75 4.1 0 1 0 -9.5 0M828.8 1663.4a4.75 4.1 0 1 0 9.5 0a4.75 4.1 0 1 0 -9.5 0M847.3 1695.3a4.75 4.1 0 1 0 9.5 0a4.75 4.1 0 1 0 -9.5 0M821.7 1668.3a4.75 4.1 0 1 0 9.5 0a4.75 4.1 0 1 0 -9.5 0M831.8 1716.3a4.75 4.1 0 1 0 9.5 0a4.75 4.1 0 1 0 -9.5 0M840.5 1699.5a4.75 4.1 0 1 0 9.5 0a4.75 4.1 0 1 0 -9.5 0M848.0 1682.3a4.75 4.1 0 1 0 9.5 0a4.75 4.1 0 1 0 -9.5 0M841.0 1679.9a4.75 4.1 0 1 0 9.5 0a4.75 4.1 0 1 0 -9.5 0M846.2 1701.8a4.75 4.1 0 1 0 9.5 0a4.75 4.1 0 1 0 -9.5 0M847.5 1675.5a4.75 4.1 0 1 0 9.5 0a4.75 4.1 0 1 0 -9.5 0M853.8 1706.6a4.75 4.1 0 1 0 9.5 0a4.75 4.1 0 1 0 -9.5 0M844.9 1703.5a4.75 4.1 0 1 0 9.5 0a4.75 4.1 0 1 0 -9.5 0M842.6 1679.2a4.75 4.1 0 1 0 9.5 0a4.75 4.1 0 1 0 -9.5 0M821.5 1684.9a4.75 4.1 0 1 0 9.5 0a4.75 4.1 0 1 0 -9.5 0M848.7 1701.0a4.75 4.1 0 1 0 9.5 0a4.75 4.1 0 1 0 -9.5 0M831.0 1685.6a4.75 4.1 0 1 0 9.5 0a4.75 4.1 0 1 0 -9.5 0M831.7 1674.6a4.75 4.1 0 1 0 9.5 0a4.75 4.1 0 1 0 -9.5 0M834.4 1663.0a4.75 4.1 0 1 0 9.5 0a4.75 4.1 0 1 0 -9.5 0M835.7 1667.0a4.75 4.1 0 1 0 9.5 0a4.75 4.1 0 1 0 -9.5 0M827.0 1693.1a4.75 4.1 0 1 0 9.5 0a4.75 4.1 0 1 0 -9.5 0M839.8 1661.6a4.75 4.1 0 1 0 9.5 0a4.75 4.1 0 1 0 -9.5 0M832.8 1719.8a4.75 4.1 0 1 0 9.5 0a4.75 4.1 0 1 0 -9.5 0M822.2 1662.6a4.75 4.1 0 1 0 9.5 0a4.75 4.1 0 1 0 -9.5 0M845.0 1698.1a4.75 4.1 0 1 0 9.5 0a4.75 4.1 0 1 0 -9.5 0M829.3 1657.1a4.75 4.1 0 1 0 9.5 0a4.75 4.1 0 1 0 -9.5 0M892.4 1691.2a4.75 4.1 0 1 0 9.5 0a4.75 4.1 0 1 0 -9.5 0M910.9 1660.9a4.75 4.1 0 1 0 9.5 0a4.75 4.1 0 1 0 -9.5 0M895.5 1690.2a4.75 4.1 0 1 0 9.5 0a4.75 4.1 0 1 0 -9.5 0M892.8 1669.4a4.75 4.1 0 1 0 9.5 0a4.75 4.1 0 1 0 -9.5 0M896.7 1702.4a4.75 4.1 0 1 0 9.5 0a4.75 4.1 0 1 0 -9.5 0M912.8 1671.3a4.75 4.1 0 1 0 9.5 0a4.75 4.1 0 1 0 -9.5 0M909.1 1713.7a4.75 4.1 0 1 0 9.5 0a4.75 4.1 0 1 0 -9.5 0M911.9 1713.3a4.75 4.1 0 1 0 9.5 0a4.75 4.1 0 1 0 -9.5 0M900.1 1687.3a4.75 4.1 0 1 0 9.5 0a4.75 4.1 0 1 0 -9.5 0M889.2 1688.1a4.75 4.1 0 1 0 9.5 0a4.75 4.1 0 1 0 -9.5 0M899.6 1675.0a4.75 4.1 0 1 0 9.5 0a4.75 4.1 0 1 0 -9.5 0M891.0 1691.2a4.75 4.1 0 1 0 9.5 0a4.75 4.1 0 1 0 -9.5 0M909.2 1692.2a4.75 4.1 0 1 0 9.5 0a4.75 4.1 0 1 0 -9.5 0M883.5 1691.0a4.75 4.1 0 1 0 9.5 0a4.75 4.1 0 1 0 -9.5 0M908.5 1663.9a4.75 4.1 0 1 0 9.5 0a4.75 4.1 0 1 0 -9.5 0M884.6 1680.3a4.75 4.1 0 1 0 9.5 0a4.75 4.1 0 1 0 -9.5 0M906.4 1699.4a4.75 4.1 0 1 0 9.5 0a4.75 4.1 0 1 0 -9.5 0M907.1 1692.2a4.75 4.1 0 1 0 9.5 0a4.75 4.1 0 1 0 -9.5 0M888.5 1681.7a4.75 4.1 0 1 0 9.5 0a4.75 4.1 0 1 0 -9.5 0M894.6 1702.6a4.75 4.1 0 1 0 9.5 0a4.75 4.1 0 1 0 -9.5 0M886.1 1687.8a4.75 4.1 0 1 0 9.5 0a4.75 4.1 0 1 0 -9.5 0M899.9 1660.6a4.75 4.1 0 1 0 9.5 0a4.75 4.1 0 1 0 -9.5 0M905.9 1696.5a4.75 4.1 0 1 0 9.5 0a4.75 4.1 0 1 0 -9.5 0M892.8 1699.9a4.75 4.1 0 1 0 9.5 0a4.75 4.1 0 1 0 -9.5 0M876.8 1707.6a4.75 4.1 0 1 0 9.5 0a4.75 4.1 0 1 0 -9.5 0M885.3 1685.2a4.75 4.1 0 1 0 9.5 0a4.75 4.1 0 1 0 -9.5 0M914.4 1698.6a4.75 4.1 0 1 0 9.5 0a4.75 4.1 0 1 0 -9.5 0M885.0 1703.7a4.75 4.1 0 1 0 9.5 0a4.75 4.1 0 1 0 -9.5 0M897.6 1674.3a4.75 4.1 0 1 0 9.5 0a4.75 4.1 0 1 0 -9.5 0M889.8 1671.0a4.75 4.1 0 1 0 9.5 0a4.75 4.1 0 1 0 -9.5 0M900.6 1684.4a4.75 4.1 0 1 0 9.5 0a4.75 4.1 0 1 0 -9.5 0M898.4 1654.0a4.75 4.1 0 1 0 9.5 0a4.75 4.1 0 1 0 -9.5 0M881.1 1704.8a4.75 4.1 0 1 0 9.5 0a4.75 4.1 0 1 0 -9.5 0M886.5 1688.8a4.75 4.1 0 1 0 9.5 0a4.75 4.1 0 1 0 -9.5 0M884.9 1675.6a4.75 4.1 0 1 0 9.5 0a4.75 4.1 0 1 0 -9.5 0M910.3 1696.5a4.75 4.1 0 1 0 9.5 0a4.75 4.1 0 1 0 -9.5 0M911.2 1698.0a4.75 4.1 0 1 0 9.5 0a4.75 4.1 0 1 0 -9.5 0M918.8 1685.6a4.75 4.1 0 1 0 9.5 0a4.75 4.1 0 1 0 -9.5 0M889.3 1670.7a4.75 4.1 0 1 0 9.5 0a4.75 4.1 0 1 0 -9.5 0M906.5 1661.4a4.75 4.1 0 1 0 9.5 0a4.75 4.1 0 1 0 -9.5 0M893.4 1691.4a4.75 4.1 0 1 0 9.5 0a4.75 4.1 0 1 0 -9.5 0M914.5 1668.2a4.75 4.1 0 1 0 9.5 0a4.75 4.1 0 1 0 -9.5 0M909.9 1668.3a4.75 4.1 0 1 0 9.5 0a4.75 4.1 0 1 0 -9.5 0M905.2 1694.1a4.75 4.1 0 1 0 9.5 0a4.75 4.1 0 1 0 -9.5 0M916.5 1688.1a4.75 4.1 0 1 0 9.5 0a4.75 4.1 0 1 0 -9.5 0M901.7 1657.9a4.75 4.1 0 1 0 9.5 0a4.75 4.1 0 1 0 -9.5 0M888.1 1688.9a4.75 4.1 0 1 0 9.5 0a4.75 4.1 0 1 0 -9.5 0M891.9 1663.1a4.75 4.1 0 1 0 9.5 0a4.75 4.1 0 1 0 -9.5 0M894.2 1699.0a4.75 4.1 0 1 0 9.5 0a4.75 4.1 0 1 0 -9.5 0M891.8 1676.1a4.75 4.1 0 1 0 9.5 0a4.75 4.1 0 1 0 -9.5 0M902.7 1675.1a4.75 4.1 0 1 0 9.5 0a4.75 4.1 0 1 0 -9.5 0M885.6 1685.4a4.75 4.1 0 1 0 9.5 0a4.75 4.1 0 1 0 -9.5 0M900.8 1676.1a4.75 4.1 0 1 0 9.5 0a4.75 4.1 0 1 0 -9.5 0M893.9 1693.8a4.75 4.1 0 1 0 9.5 0a4.75 4.1 0 1 0 -9.5 0M901.3 1655.4a4.75 4.1 0 1 0 9.5 0a4.75 4.1 0 1 0 -9.5 0M895.3 1677.9a4.75 4.1 0 1 0 9.5 0a4.75 4.1 0 1 0 -9.5 0M892.5 1686.6a4.75 4.1 0 1 0 9.5 0a4.75 4.1 0 1 0 -9.5 0M905.0 1661.2a4.75 4.1 0 1 0 9.5 0a4.75 4.1 0 1 0 -9.5 0M898.2 1660.7a4.75 4.1 0 1 0 9.5 0a4.75 4.1 0 1 0 -9.5 0M892.3 1668.7a4.75 4.1 0 1 0 9.5 0a4.75 4.1 0 1 0 -9.5 0M911.7 1683.0a4.75 4.1 0 1 0 9.5 0a4.75 4.1 0 1 0 -9.5 0M893.8 1663.7a4.75 4.1 0 1 0 9.5 0a4.75 4.1 0 1 0 -9.5 0M879.6 1703.1a4.75 4.1 0 1 0 9.5 0a4.75 4.1 0 1 0 -9.5 0M911.8 1676.4a4.75 4.1 0 1 0 9.5 0a4.75 4.1 0 1 0 -9.5 0M881.9 1692.7a4.75 4.1 0 1 0 9.5 0a4.75 4.1 0 1 0 -9.5 0M886.6 1664.1a4.75 4.1 0 1 0 9.5 0a4.75 4.1 0 1 0 -9.5 0M914.1 1706.4a4.75 4.1 0 1 0 9.5 0a4.75 4.1 0 1 0 -9.5 0M913.6 1694.0a4.75 4.1 0 1 0 9.5 0a4.75 4.1 0 1 0 -9.5 0M895.6 1681.9a4.75 4.1 0 1 0 9.5 0a4.75 4.1 0 1 0 -9.5 0M899.2 1659.4a4.75 4.1 0 1 0 9.5 0a4.75 4.1 0 1 0 -9.5 0M895.7 1699.6a4.75 4.1 0 1 0 9.5 0a4.75 4.1 0 1 0 -9.5 0M904.8 1661.2a4.75 4.1 0 1 0 9.5 0a4.75 4.1 0 1 0 -9.5 0M891.1 1685.1a4.75 4.1 0 1 0 9.5 0a4.75 4.1 0 1 0 -9.5 0M887.4 1704.1a4.75 4.1 0 1 0 9.5 0a4.75 4.1 0 1 0 -9.5 0M902.0 1688.0a4.75 4.1 0 1 0 9.5 0a4.75 4.1 0 1 0 -9.5 0M916.3 1669.6a4.75 4.1 0 1 0 9.5 0a4.75 4.1 0 1 0 -9.5 0M891.8 1675.2a4.75 4.1 0 1 0 9.5 0a4.75 4.1 0 1 0 -9.5 0M905.1 1676.0a4.75 4.1 0 1 0 9.5 0a4.75 4.1 0 1 0 -9.5 0M908.2 1691.6a4.75 4.1 0 1 0 9.5 0a4.75 4.1 0 1 0 -9.5 0M896.4 1700.8a4.75 4.1 0 1 0 9.5 0a4.75 4.1 0 1 0 -9.5 0M909.8 1675.3a4.75 4.1 0 1 0 9.5 0a4.75 4.1 0 1 0 -9.5 0M903.3 1656.3a4.75 4.1 0 1 0 9.5 0a4.75 4.1 0 1 0 -9.5 0M902.4 1679.6a4.75 4.1 0 1 0 9.5 0a4.75 4.1 0 1 0 -9.5 0M903.5 1662.9a4.75 4.1 0 1 0 9.5 0a4.75 4.1 0 1 0 -9.5 0M897.5 1700.1a4.75 4.1 0 1 0 9.5 0a4.75 4.1 0 1 0 -9.5 0M917.4 1680.0a4.75 4.1 0 1 0 9.5 0a4.75 4.1 0 1 0 -9.5 0M911.0 1694.2a4.75 4.1 0 1 0 9.5 0a4.75 4.1 0 1 0 -9.5 0M890.7 1664.9a4.75 4.1 0 1 0 9.5 0a4.75 4.1 0 1 0 -9.5 0M880.7 1696.7a4.75 4.1 0 1 0 9.5 0a4.75 4.1 0 1 0 -9.5 0M915.3 1688.1a4.75 4.1 0 1 0 9.5 0a4.75 4.1 0 1 0 -9.5 0M905.6 1680.6a4.75 4.1 0 1 0 9.5 0a4.75 4.1 0 1 0 -9.5 0M897.4 1704.2a4.75 4.1 0 1 0 9.5 0a4.75 4.1 0 1 0 -9.5 0M897.8 1677.3a4.75 4.1 0 1 0 9.5 0a4.75 4.1 0 1 0 -9.5 0M893.8 1695.5a4.75 4.1 0 1 0 9.5 0a4.75 4.1 0 1 0 -9.5 0M894.8 1669.7a4.75 4.1 0 1 0 9.5 0a4.75 4.1 0 1 0 -9.5 0M809.8 1661.3a4.75 4.1 0 1 0 9.5 0a4.75 4.1 0 1 0 -9.5 0M816.0 1666.1a4.75 4.1 0 1 0 9.5 0a4.75 4.1 0 1 0 -9.5 0M825.6 1710.6a4.75 4.1 0 1 0 9.5 0a4.75 4.1 0 1 0 -9.5 0M838.1 1656.5a4.75 4.1 0 1 0 9.5 0a4.75 4.1 0 1 0 -9.5 0M819.3 1657.6a4.75 4.1 0 1 0 9.5 0a4.75 4.1 0 1 0 -9.5 0M825.9 1693.1a4.75 4.1 0 1 0 9.5 0a4.75 4.1 0 1 0 -9.5 0M800.5 1691.1a4.75 4.1 0 1 0 9.5 0a4.75 4.1 0 1 0 -9.5 0M832.4 1656.6a4.75 4.1 0 1 0 9.5 0a4.75 4.1 0 1 0 -9.5 0M785.4 1656.3a4.75 4.1 0 1 0 9.5 0a4.75 4.1 0 1 0 -9.5 0M831.8 1709.4a4.75 4.1 0 1 0 9.5 0a4.75 4.1 0 1 0 -9.5 0M838.5 1747.6a4.75 4.1 0 1 0 9.5 0a4.75 4.1 0 1 0 -9.5 0M820.4 1673.2a4.75 4.1 0 1 0 9.5 0a4.75 4.1 0 1 0 -9.5 0M816.5 1720.3a4.75 4.1 0 1 0 9.5 0a4.75 4.1 0 1 0 -9.5 0M826.4 1741.1a4.75 4.1 0 1 0 9.5 0a4.75 4.1 0 1 0 -9.5 0M805.6 1658.6a4.75 4.1 0 1 0 9.5 0a4.75 4.1 0 1 0 -9.5 0M812.0 1697.6a4.75 4.1 0 1 0 9.5 0a4.75 4.1 0 1 0 -9.5 0M805.9 1696.4a4.75 4.1 0 1 0 9.5 0a4.75 4.1 0 1 0 -9.5 0M826.4 1692.1a4.75 4.1 0 1 0 9.5 0a4.75 4.1 0 1 0 -9.5 0M822.1 1695.0a4.75 4.1 0 1 0 9.5 0a4.75 4.1 0 1 0 -9.5 0M813.8 1681.3a4.75 4.1 0 1 0 9.5 0a4.75 4.1 0 1 0 -9.5 0M816.3 1708.6a4.75 4.1 0 1 0 9.5 0a4.75 4.1 0 1 0 -9.5 0M834.0 1744.0a4.75 4.1 0 1 0 9.5 0a4.75 4.1 0 1 0 -9.5 0M831.5 1717.3a4.75 4.1 0 1 0 9.5 0a4.75 4.1 0 1 0 -9.5 0M806.3 1682.8a4.75 4.1 0 1 0 9.5 0a4.75 4.1 0 1 0 -9.5 0M792.8 1675.0a4.75 4.1 0 1 0 9.5 0a4.75 4.1 0 1 0 -9.5 0M814.8 1684.0a4.75 4.1 0 1 0 9.5 0a4.75 4.1 0 1 0 -9.5 0M802.4 1678.4a4.75 4.1 0 1 0 9.5 0a4.75 4.1 0 1 0 -9.5 0M844.8 1740.9a4.75 4.1 0 1 0 9.5 0a4.75 4.1 0 1 0 -9.5 0M815.2 1692.9a4.75 4.1 0 1 0 9.5 0a4.75 4.1 0 1 0 -9.5 0M911.7 1697.2a4.75 4.1 0 1 0 9.5 0a4.75 4.1 0 1 0 -9.5 0M924.5 1695.3a4.75 4.1 0 1 0 9.5 0a4.75 4.1 0 1 0 -9.5 0M909.8 1717.9a4.75 4.1 0 1 0 9.5 0a4.75 4.1 0 1 0 -9.5 0M922.7 1682.5a4.75 4.1 0 1 0 9.5 0a4.75 4.1 0 1 0 -9.5 0M900.1 1735.4a4.75 4.1 0 1 0 9.5 0a4.75 4.1 0 1 0 -9.5 0M911.0 1714.8a4.75 4.1 0 1 0 9.5 0a4.75 4.1 0 1 0 -9.5 0M887.2 1737.9a4.75 4.1 0 1 0 9.5 0a4.75 4.1 0 1 0 -9.5 0M911.1 1731.9a4.75 4.1 0 1 0 9.5 0a4.75 4.1 0 1 0 -9.5 0M911.5 1720.7a4.75 4.1 0 1 0 9.5 0a4.75 4.1 0 1 0 -9.5 0M912.4 1696.5a4.75 4.1 0 1 0 9.5 0a4.75 4.1 0 1 0 -9.5 0M912.1 1718.7a4.75 4.1 0 1 0 9.5 0a4.75 4.1 0 1 0 -9.5 0M899.8 1740.6a4.75 4.1 0 1 0 9.5 0a4.75 4.1 0 1 0 -9.5 0M934.2 1686.8a4.75 4.1 0 1 0 9.5 0a4.75 4.1 0 1 0 -9.5 0M909.1 1702.1a4.75 4.1 0 1 0 9.5 0a4.75 4.1 0 1 0 -9.5 0M910.1 1700.3a4.75 4.1 0 1 0 9.5 0a4.75 4.1 0 1 0 -9.5 0M907.0 1727.9a4.75 4.1 0 1 0 9.5 0a4.75 4.1 0 1 0 -9.5 0M924.0 1701.0a4.75 4.1 0 1 0 9.5 0a4.75 4.1 0 1 0 -9.5 0M911.6 1725.8a4.75 4.1 0 1 0 9.5 0a4.75 4.1 0 1 0 -9.5 0M905.0 1737.3a4.75 4.1 0 1 0 9.5 0a4.75 4.1 0 1 0 -9.5 0M907.5 1732.4a4.75 4.1 0 1 0 9.5 0a4.75 4.1 0 1 0 -9.5 0M907.6 1740.4a4.75 4.1 0 1 0 9.5 0a4.75 4.1 0 1 0 -9.5 0M895.2 1734.8a4.75 4.1 0 1 0 9.5 0a4.75 4.1 0 1 0 -9.5 0M954.6 1617.5a4.75 4.1 0 1 0 9.5 0a4.75 4.1 0 1 0 -9.5 0M963.0 1598.0a4.75 4.1 0 1 0 9.5 0a4.75 4.1 0 1 0 -9.5 0M956.5 1672.3a4.75 4.1 0 1 0 9.5 0a4.75 4.1 0 1 0 -9.5 0M909.3 1606.3a4.75 4.1 0 1 0 9.5 0a4.75 4.1 0 1 0 -9.5 0M923.7 1592.5a4.75 4.1 0 1 0 9.5 0a4.75 4.1 0 1 0 -9.5 0M953.5 1629.4a4.75 4.1 0 1 0 9.5 0a4.75 4.1 0 1 0 -9.5 0M925.9 1657.1a4.75 4.1 0 1 0 9.5 0a4.75 4.1 0 1 0 -9.5 0M903.4 1626.8a4.75 4.1 0 1 0 9.5 0a4.75 4.1 0 1 0 -9.5 0M904.8 1598.9a4.75 4.1 0 1 0 9.5 0a4.75 4.1 0 1 0 -9.5 0M942.7 1680.6a4.75 4.1 0 1 0 9.5 0a4.75 4.1 0 1 0 -9.5 0M932.4 1679.7a4.75 4.1 0 1 0 9.5 0a4.75 4.1 0 1 0 -9.5 0M909.8 1591.0a4.75 4.1 0 1 0 9.5 0a4.75 4.1 0 1 0 -9.5 0M898.9 1628.5a4.75 4.1 0 1 0 9.5 0a4.75 4.1 0 1 0 -9.5 0M960.6 1668.2a4.75 4.1 0 1 0 9.5 0a4.75 4.1 0 1 0 -9.5 0M952.2 1637.1a4.75 4.1 0 1 0 9.5 0a4.75 4.1 0 1 0 -9.5 0M886.4 1644.7a4.75 4.1 0 1 0 9.5 0a4.75 4.1 0 1 0 -9.5 0M886.6 1646.3a4.75 4.1 0 1 0 9.5 0a4.75 4.1 0 1 0 -9.5 0M897.6 1627.9a4.75 4.1 0 1 0 9.5 0a4.75 4.1 0 1 0 -9.5 0M929.0 1658.3a4.75 4.1 0 1 0 9.5 0a4.75 4.1 0 1 0 -9.5 0M936.6 1621.6a4.75 4.1 0 1 0 9.5 0a4.75 4.1 0 1 0 -9.5 0M943.5 1636.4a4.75 4.1 0 1 0 9.5 0a4.75 4.1 0 1 0 -9.5 0M914.8 1675.3a4.75 4.1 0 1 0 9.5 0a4.75 4.1 0 1 0 -9.5 0M886.2 1621.4a4.75 4.1 0 1 0 9.5 0a4.75 4.1 0 1 0 -9.5 0M901.7 1633.8a4.75 4.1 0 1 0 9.5 0a4.75 4.1 0 1 0 -9.5 0M933.5 1605.6a4.75 4.1 0 1 0 9.5 0a4.75 4.1 0 1 0 -9.5 0M915.4 1659.7a4.75 4.1 0 1 0 9.5 0a4.75 4.1 0 1 0 -9.5 0M904.8 1618.0a4.75 4.1 0 1 0 9.5 0a4.75 4.1 0 1 0 -9.5 0M955.9 1646.6a4.75 4.1 0 1 0 9.5 0a4.75 4.1 0 1 0 -9.5 0M894.5 1604.0a4.75 4.1 0 1 0 9.5 0a4.75 4.1 0 1 0 -9.5 0M932.4 1611.4a4.75 4.1 0 1 0 9.5 0a4.75 4.1 0 1 0 -9.5 0M897.5 1601.3a4.75 4.1 0 1 0 9.5 0a4.75 4.1 0 1 0 -9.5 0M909.4 1610.8a4.75 4.1 0 1 0 9.5 0a4.75 4.1 0 1 0 -9.5 0M891.3 1636.9a4.75 4.1 0 1 0 9.5 0a4.75 4.1 0 1 0 -9.5 0M923.6 1662.0a4.75 4.1 0 1 0 9.5 0a4.75 4.1 0 1 0 -9.5 0M937.9 1617.8a4.75 4.1 0 1 0 9.5 0a4.75 4.1 0 1 0 -9.5 0M919.4 1603.3a4.75 4.1 0 1 0 9.5 0a4.75 4.1 0 1 0 -9.5 0M955.2 1606.6a4.75 4.1 0 1 0 9.5 0a4.75 4.1 0 1 0 -9.5 0M893.4 1621.6a4.75 4.1 0 1 0 9.5 0a4.75 4.1 0 1 0 -9.5 0M883.1 1649.1a4.75 4.1 0 1 0 9.5 0a4.75 4.1 0 1 0 -9.5 0M898.8 1647.7a4.75 4.1 0 1 0 9.5 0a4.75 4.1 0 1 0 -9.5 0M924.8 1680.4a4.75 4.1 0 1 0 9.5 0a4.75 4.1 0 1 0 -9.5 0M888.0 1609.0a4.75 4.1 0 1 0 9.5 0a4.75 4.1 0 1 0 -9.5 0M933.1 1590.8a4.75 4.1 0 1 0 9.5 0a4.75 4.1 0 1 0 -9.5 0M962.7 1626.5a4.75 4.1 0 1 0 9.5 0a4.75 4.1 0 1 0 -9.5 0M933.2 1655.4a4.75 4.1 0 1 0 9.5 0a4.75 4.1 0 1 0 -9.5 0M912.2 1599.4a4.75 4.1 0 1 0 9.5 0a4.75 4.1 0 1 0 -9.5 0M901.3 1592.5a4.75 4.1 0 1 0 9.5 0a4.75 4.1 0 1 0 -9.5 0M937.2 1638.0a4.75 4.1 0 1 0 9.5 0a4.75 4.1 0 1 0 -9.5 0M919.8 1600.2a4.75 4.1 0 1 0 9.5 0a4.75 4.1 0 1 0 -9.5 0M904.7 1650.4a4.75 4.1 0 1 0 9.5 0a4.75 4.1 0 1 0 -9.5 0M945.5 1638.1a4.75 4.1 0 1 0 9.5 0a4.75 4.1 0 1 0 -9.5 0M962.9 1651.4a4.75 4.1 0 1 0 9.5 0a4.75 4.1 0 1 0 -9.5 0M945.6 1670.0a4.75 4.1 0 1 0 9.5 0a4.75 4.1 0 1 0 -9.5 0M929.4 1668.1a4.75 4.1 0 1 0 9.5 0a4.75 4.1 0 1 0 -9.5 0M890.9 1627.3a4.75 4.1 0 1 0 9.5 0a4.75 4.1 0 1 0 -9.5 0M907.0 1660.1a4.75 4.1 0 1 0 9.5 0a4.75 4.1 0 1 0 -9.5 0M887.5 1623.7a4.75 4.1 0 1 0 9.5 0a4.75 4.1 0 1 0 -9.5 0M921.4 1592.9a4.75 4.1 0 1 0 9.5 0a4.75 4.1 0 1 0 -9.5 0M919.7 1672.3a4.75 4.1 0 1 0 9.5 0a4.75 4.1 0 1 0 -9.5 0M940.3 1595.4a4.75 4.1 0 1 0 9.5 0a4.75 4.1 0 1 0 -9.5 0M918.2 1674.0a4.75 4.1 0 1 0 9.5 0a4.75 4.1 0 1 0 -9.5 0M904.7 1591.1a4.75 4.1 0 1 0 9.5 0a4.75 4.1 0 1 0 -9.5 0M929.6 1593.0a4.75 4.1 0 1 0 9.5 0a4.75 4.1 0 1 0 -9.5 0M922.2 1596.8a4.75 4.1 0 1 0 9.5 0a4.75 4.1 0 1 0 -9.5 0M912.0 1598.6a4.75 4.1 0 1 0 9.5 0a4.75 4.1 0 1 0 -9.5 0M943.6 1665.8a4.75 4.1 0 1 0 9.5 0a4.75 4.1 0 1 0 -9.5 0M906.3 1640.2a4.75 4.1 0 1 0 9.5 0a4.75 4.1 0 1 0 -9.5 0M908.5 1610.5a4.75 4.1 0 1 0 9.5 0a4.75 4.1 0 1 0 -9.5 0M952.2 1648.2a4.75 4.1 0 1 0 9.5 0a4.75 4.1 0 1 0 -9.5 0M922.0 1641.3a4.75 4.1 0 1 0 9.5 0a4.75 4.1 0 1 0 -9.5 0M940.3 1648.6a4.75 4.1 0 1 0 9.5 0a4.75 4.1 0 1 0 -9.5 0M915.1 1637.6a4.75 4.1 0 1 0 9.5 0a4.75 4.1 0 1 0 -9.5 0M965.2 1619.3a4.75 4.1 0 1 0 9.5 0a4.75 4.1 0 1 0 -9.5 0M920.6 1634.3a4.75 4.1 0 1 0 9.5 0a4.75 4.1 0 1 0 -9.5 0M962.6 1610.1a4.75 4.1 0 1 0 9.5 0a4.75 4.1 0 1 0 -9.5 0M964.8 1623.1a4.75 4.1 0 1 0 9.5 0a4.75 4.1 0 1 0 -9.5 0M923.0 1670.2a4.75 4.1 0 1 0 9.5 0a4.75 4.1 0 1 0 -9.5 0M898.6 1645.7a4.75 4.1 0 1 0 9.5 0a4.75 4.1 0 1 0 -9.5 0M912.0 1640.0a4.75 4.1 0 1 0 9.5 0a4.75 4.1 0 1 0 -9.5 0M910.7 1643.8a4.75 4.1 0 1 0 9.5 0a4.75 4.1 0 1 0 -9.5 0M891.0 1612.6a4.75 4.1 0 1 0 9.5 0a4.75 4.1 0 1 0 -9.5 0M902.1 1591.2a4.75 4.1 0 1 0 9.5 0a4.75 4.1 0 1 0 -9.5 0M906.8 1638.8a4.75 4.1 0 1 0 9.5 0a4.75 4.1 0 1 0 -9.5 0M928.0 1675.4a4.75 4.1 0 1 0 9.5 0a4.75 4.1 0 1 0 -9.5 0M929.2 1663.9a4.75 4.1 0 1 0 9.5 0a4.75 4.1 0 1 0 -9.5 0M944.8 1606.9a4.75 4.1 0 1 0 9.5 0a4.75 4.1 0 1 0 -9.5 0M884.1 1645.3a4.75 4.1 0 1 0 9.5 0a4.75 4.1 0 1 0 -9.5 0M932.3 1632.4a4.75 4.1 0 1 0 9.5 0a4.75 4.1 0 1 0 -9.5 0M964.6 1638.3a4.75 4.1 0 1 0 9.5 0a4.75 4.1 0 1 0 -9.5 0M905.0 1649.4a4.75 4.1 0 1 0 9.5 0a4.75 4.1 0 1 0 -9.5 0M885.8 1635.0a4.75 4.1 0 1 0 9.5 0a4.75 4.1 0 1 0 -9.5 0M907.7 1591.3a4.75 4.1 0 1 0 9.5 0a4.75 4.1 0 1 0 -9.5 0M944.8 1593.5a4.75 4.1 0 1 0 9.5 0a4.75 4.1 0 1 0 -9.5 0M954.3 1645.8a4.75 4.1 0 1 0 9.5 0a4.75 4.1 0 1 0 -9.5 0M915.2 1636.8a4.75 4.1 0 1 0 9.5 0a4.75 4.1 0 1 0 -9.5 0M935.5 1655.1a4.75 4.1 0 1 0 9.5 0a4.75 4.1 0 1 0 -9.5 0M886.2 1594.0a4.75 4.1 0 1 0 9.5 0a4.75 4.1 0 1 0 -9.5 0M946.8 1624.5a4.75 4.1 0 1 0 9.5 0a4.75 4.1 0 1 0 -9.5 0M882.0 1639.2a4.75 4.1 0 1 0 9.5 0a4.75 4.1 0 1 0 -9.5 0M952.4 1676.5a4.75 4.1 0 1 0 9.5 0a4.75 4.1 0 1 0 -9.5 0M941.3 1597.2a4.75 4.1 0 1 0 9.5 0a4.75 4.1 0 1 0 -9.5 0M943.5 1666.5a4.75 4.1 0 1 0 9.5 0a4.75 4.1 0 1 0 -9.5 0M883.0 1644.8a4.75 4.1 0 1 0 9.5 0a4.75 4.1 0 1 0 -9.5 0M909.6 1622.5a4.75 4.1 0 1 0 9.5 0a4.75 4.1 0 1 0 -9.5 0M890.3 1646.6a4.75 4.1 0 1 0 9.5 0a4.75 4.1 0 1 0 -9.5 0M904.8 1659.6a4.75 4.1 0 1 0 9.5 0a4.75 4.1 0 1 0 -9.5 0M936.6 1610.3a4.75 4.1 0 1 0 9.5 0a4.75 4.1 0 1 0 -9.5 0M914.5 1662.0a4.75 4.1 0 1 0 9.5 0a4.75 4.1 0 1 0 -9.5 0M898.0 1594.6a4.75 4.1 0 1 0 9.5 0a4.75 4.1 0 1 0 -9.5 0M921.4 1609.5a4.75 4.1 0 1 0 9.5 0a4.75 4.1 0 1 0 -9.5 0M910.0 1651.0a4.75 4.1 0 1 0 9.5 0a4.75 4.1 0 1 0 -9.5 0M960.6 1655.4a4.75 4.1 0 1 0 9.5 0a4.75 4.1 0 1 0 -9.5 0M928.6 1625.3a4.75 4.1 0 1 0 9.5 0a4.75 4.1 0 1 0 -9.5 0M955.3 1642.2a4.75 4.1 0 1 0 9.5 0a4.75 4.1 0 1 0 -9.5 0M951.3 1626.9a4.75 4.1 0 1 0 9.5 0a4.75 4.1 0 1 0 -9.5 0M891.1 1603.2a4.75 4.1 0 1 0 9.5 0a4.75 4.1 0 1 0 -9.5 0M943.3 1594.8a4.75 4.1 0 1 0 9.5 0a4.75 4.1 0 1 0 -9.5 0M882.4 1644.2a4.75 4.1 0 1 0 9.5 0a4.75 4.1 0 1 0 -9.5 0M930.9 1636.0a4.75 4.1 0 1 0 9.5 0a4.75 4.1 0 1 0 -9.5 0M925.2 1656.1a4.75 4.1 0 1 0 9.5 0a4.75 4.1 0 1 0 -9.5 0M961.5 1602.7a4.75 4.1 0 1 0 9.5 0a4.75 4.1 0 1 0 -9.5 0M884.5 1609.6a4.75 4.1 0 1 0 9.5 0a4.75 4.1 0 1 0 -9.5 0M964.9 1640.7a4.75 4.1 0 1 0 9.5 0a4.75 4.1 0 1 0 -9.5 0M935.8 1613.5a4.75 4.1 0 1 0 9.5 0a4.75 4.1 0 1 0 -9.5 0M934.1 1625.4a4.75 4.1 0 1 0 9.5 0a4.75 4.1 0 1 0 -9.5 0M923.1 1653.8a4.75 4.1 0 1 0 9.5 0a4.75 4.1 0 1 0 -9.5 0M923.1 1652.7a4.75 4.1 0 1 0 9.5 0a4.75 4.1 0 1 0 -9.5 0M931.3 1680.2a4.75 4.1 0 1 0 9.5 0a4.75 4.1 0 1 0 -9.5 0M929.5 1596.5a4.75 4.1 0 1 0 9.5 0a4.75 4.1 0 1 0 -9.5 0M940.4 1630.5a4.75 4.1 0 1 0 9.5 0a4.75 4.1 0 1 0 -9.5 0M924.1 1645.3a4.75 4.1 0 1 0 9.5 0a4.75 4.1 0 1 0 -9.5 0M941.4 1596.8a4.75 4.1 0 1 0 9.5 0a4.75 4.1 0 1 0 -9.5 0M908.8 1611.2a4.75 4.1 0 1 0 9.5 0a4.75 4.1 0 1 0 -9.5 0M950.1 1646.1a4.75 4.1 0 1 0 9.5 0a4.75 4.1 0 1 0 -9.5 0M950.4 1606.5a4.75 4.1 0 1 0 9.5 0a4.75 4.1 0 1 0 -9.5 0M959.4 1623.6a4.75 4.1 0 1 0 9.5 0a4.75 4.1 0 1 0 -9.5 0M918.5 1676.4a4.75 4.1 0 1 0 9.5 0a4.75 4.1 0 1 0 -9.5 0M949.9 1650.7a4.75 4.1 0 1 0 9.5 0a4.75 4.1 0 1 0 -9.5 0M946.0 1634.9a4.75 4.1 0 1 0 9.5 0a4.75 4.1 0 1 0 -9.5 0M882.1 1647.3a4.75 4.1 0 1 0 9.5 0a4.75 4.1 0 1 0 -9.5 0M949.2 1657.6a4.75 4.1 0 1 0 9.5 0a4.75 4.1 0 1 0 -9.5 0M915.5 1640.4a4.75 4.1 0 1 0 9.5 0a4.75 4.1 0 1 0 -9.5 0M925.0 1591.2a4.75 4.1 0 1 0 9.5 0a4.75 4.1 0 1 0 -9.5 0M960.6 1630.3a4.75 4.1 0 1 0 9.5 0a4.75 4.1 0 1 0 -9.5 0M956.0 1611.7a4.75 4.1 0 1 0 9.5 0a4.75 4.1 0 1 0 -9.5 0M939.9 1677.7a4.75 4.1 0 1 0 9.5 0a4.75 4.1 0 1 0 -9.5 0M960.5 1631.7a4.75 4.1 0 1 0 9.5 0a4.75 4.1 0 1 0 -9.5 0M894.6 1617.2a4.75 4.1 0 1 0 9.5 0a4.75 4.1 0 1 0 -9.5 0M955.1 1623.8a4.75 4.1 0 1 0 9.5 0a4.75 4.1 0 1 0 -9.5 0M878.7 1646.3a4.75 4.1 0 1 0 9.5 0a4.75 4.1 0 1 0 -9.5 0M892.5 1601.6a4.75 4.1 0 1 0 9.5 0a4.75 4.1 0 1 0 -9.5 0M930.0 1670.0a4.75 4.1 0 1 0 9.5 0a4.75 4.1 0 1 0 -9.5 0M953.6 1671.8a4.75 4.1 0 1 0 9.5 0a4.75 4.1 0 1 0 -9.5 0M954.5 1626.8a4.75 4.1 0 1 0 9.5 0a4.75 4.1 0 1 0 -9.5 0M936.7 1671.2a4.75 4.1 0 1 0 9.5 0a4.75 4.1 0 1 0 -9.5 0M914.8 1619.8a4.75 4.1 0 1 0 9.5 0a4.75 4.1 0 1 0 -9.5 0M925.2 1675.5a4.75 4.1 0 1 0 9.5 0a4.75 4.1 0 1 0 -9.5 0M931.5 1615.1a4.75 4.1 0 1 0 9.5 0a4.75 4.1 0 1 0 -9.5 0M890.0 1648.3a4.75 4.1 0 1 0 9.5 0a4.75 4.1 0 1 0 -9.5 0M886.4 1622.7a4.75 4.1 0 1 0 9.5 0a4.75 4.1 0 1 0 -9.5 0M958.3 1625.3a4.75 4.1 0 1 0 9.5 0a4.75 4.1 0 1 0 -9.5 0M920.3 1638.8a4.75 4.1 0 1 0 9.5 0a4.75 4.1 0 1 0 -9.5 0M924.3 1657.4a4.75 4.1 0 1 0 9.5 0a4.75 4.1 0 1 0 -9.5 0M906.9 1627.3a4.75 4.1 0 1 0 9.5 0a4.75 4.1 0 1 0 -9.5 0M931.4 1591.4a4.75 4.1 0 1 0 9.5 0a4.75 4.1 0 1 0 -9.5 0M921.6 1660.6a4.75 4.1 0 1 0 9.5 0a4.75 4.1 0 1 0 -9.5 0M933.5 1628.5a4.75 4.1 0 1 0 9.5 0a4.75 4.1 0 1 0 -9.5 0M940.2 1625.0a4.75 4.1 0 1 0 9.5 0a4.75 4.1 0 1 0 -9.5 0M893.7 1638.0a4.75 4.1 0 1 0 9.5 0a4.75 4.1 0 1 0 -9.5 0M963.0 1601.9a4.75 4.1 0 1 0 9.5 0a4.75 4.1 0 1 0 -9.5 0M878.8 1654.2a4.75 4.1 0 1 0 9.5 0a4.75 4.1 0 1 0 -9.5 0M944.9 1667.3a4.75 4.1 0 1 0 9.5 0a4.75 4.1 0 1 0 -9.5 0M911.0 1652.1a4.75 4.1 0 1 0 9.5 0a4.75 4.1 0 1 0 -9.5 0M942.2 1622.0a4.75 4.1 0 1 0 9.5 0a4.75 4.1 0 1 0 -9.5 0M921.9 1661.6a4.75 4.1 0 1 0 9.5 0a4.75 4.1 0 1 0 -9.5 0M916.0 1593.1a4.75 4.1 0 1 0 9.5 0a4.75 4.1 0 1 0 -9.5 0M960.5 1643.1a4.75 4.1 0 1 0 9.5 0a4.75 4.1 0 1 0 -9.5 0M917.6 1676.5a4.75 4.1 0 1 0 9.5 0a4.75 4.1 0 1 0 -9.5 0M939.9 1627.7a4.75 4.1 0 1 0 9.5 0a4.75 4.1 0 1 0 -9.5 0M949.2 1657.6a4.75 4.1 0 1 0 9.5 0a4.75 4.1 0 1 0 -9.5 0M893.5 1621.0a4.75 4.1 0 1 0 9.5 0a4.75 4.1 0 1 0 -9.5 0M903.0 1654.3a4.75 4.1 0 1 0 9.5 0a4.75 4.1 0 1 0 -9.5 0M964.2 1628.6a4.75 4.1 0 1 0 9.5 0a4.75 4.1 0 1 0 -9.5 0M888.9 1651.9a4.75 4.1 0 1 0 9.5 0a4.75 4.1 0 1 0 -9.5 0M930.8 1604.3a4.75 4.1 0 1 0 9.5 0a4.75 4.1 0 1 0 -9.5 0M924.1 1646.3a4.75 4.1 0 1 0 9.5 0a4.75 4.1 0 1 0 -9.5 0M930.0 1642.1a4.75 4.1 0 1 0 9.5 0a4.75 4.1 0 1 0 -9.5 0M898.7 1594.2a4.75 4.1 0 1 0 9.5 0a4.75 4.1 0 1 0 -9.5 0M914.1 1594.9a4.75 4.1 0 1 0 9.5 0a4.75 4.1 0 1 0 -9.5 0M965.2 1591.0a4.75 4.1 0 1 0 9.5 0a4.75 4.1 0 1 0 -9.5 0M910.0 1640.1a4.75 4.1 0 1 0 9.5 0a4.75 4.1 0 1 0 -9.5 0M888.8 1626.7a4.75 4.1 0 1 0 9.5 0a4.75 4.1 0 1 0 -9.5 0M925.9 1616.7a4.75 4.1 0 1 0 9.5 0a4.75 4.1 0 1 0 -9.5 0M884.2 1646.4a4.75 4.1 0 1 0 9.5 0a4.75 4.1 0 1 0 -9.5 0M954.8 1673.8a4.75 4.1 0 1 0 9.5 0a4.75 4.1 0 1 0 -9.5 0M932.7 1649.7a4.75 4.1 0 1 0 9.5 0a4.75 4.1 0 1 0 -9.5 0M888.2 1650.8a4.75 4.1 0 1 0 9.5 0a4.75 4.1 0 1 0 -9.5 0M882.5 1649.9a4.75 4.1 0 1 0 9.5 0a4.75 4.1 0 1 0 -9.5 0M923.4 1671.3a4.75 4.1 0 1 0 9.5 0a4.75 4.1 0 1 0 -9.5 0M963.4 1658.3a4.75 4.1 0 1 0 9.5 0a4.75 4.1 0 1 0 -9.5 0M912.0 1661.3a4.75 4.1 0 1 0 9.5 0a4.75 4.1 0 1 0 -9.5 0M913.3 1619.0a4.75 4.1 0 1 0 9.5 0a4.75 4.1 0 1 0 -9.5 0M942.7 1646.0a4.75 4.1 0 1 0 9.5 0a4.75 4.1 0 1 0 -9.5 0M949.4 1656.5a4.75 4.1 0 1 0 9.5 0a4.75 4.1 0 1 0 -9.5 0M884.0 1615.4a4.75 4.1 0 1 0 9.5 0a4.75 4.1 0 1 0 -9.5 0M890.6 1648.2a4.75 4.1 0 1 0 9.5 0a4.75 4.1 0 1 0 -9.5 0M901.9 1632.0a4.75 4.1 0 1 0 9.5 0a4.75 4.1 0 1 0 -9.5 0M910.9 1606.2a4.75 4.1 0 1 0 9.5 0a4.75 4.1 0 1 0 -9.5 0M961.1 1660.6a4.75 4.1 0 1 0 9.5 0a4.75 4.1 0 1 0 -9.5 0M914.7 1649.9a4.75 4.1 0 1 0 9.5 0a4.75 4.1 0 1 0 -9.5 0M931.4 1641.8a4.75 4.1 0 1 0 9.5 0a4.75 4.1 0 1 0 -9.5 0M881.1 1644.0a4.75 4.1 0 1 0 9.5 0a4.75 4.1 0 1 0 -9.5 0M918.0 1602.0a4.75 4.1 0 1 0 9.5 0a4.75 4.1 0 1 0 -9.5 0M943.2 1621.2a4.75 4.1 0 1 0 9.5 0a4.75 4.1 0 1 0 -9.5 0M934.9 1656.2a4.75 4.1 0 1 0 9.5 0a4.75 4.1 0 1 0 -9.5 0M950.9 1609.5a4.75 4.1 0 1 0 9.5 0a4.75 4.1 0 1 0 -9.5 0M929.2 1646.3a4.75 4.1 0 1 0 9.5 0a4.75 4.1 0 1 0 -9.5 0M928.1 1642.4a4.75 4.1 0 1 0 9.5 0a4.75 4.1 0 1 0 -9.5 0M900.6 1598.1a4.75 4.1 0 1 0 9.5 0a4.75 4.1 0 1 0 -9.5 0M931.1 1632.9a4.75 4.1 0 1 0 9.5 0a4.75 4.1 0 1 0 -9.5 0M894.9 1632.2a4.75 4.1 0 1 0 9.5 0a4.75 4.1 0 1 0 -9.5 0M925.8 1602.5a4.75 4.1 0 1 0 9.5 0a4.75 4.1 0 1 0 -9.5 0M896.0 1607.9a4.75 4.1 0 1 0 9.5 0a4.75 4.1 0 1 0 -9.5 0M953.0 1676.9a4.75 4.1 0 1 0 9.5 0a4.75 4.1 0 1 0 -9.5 0M935.2 1607.8a4.75 4.1 0 1 0 9.5 0a4.75 4.1 0 1 0 -9.5 0M948.2 1679.0a4.75 4.1 0 1 0 9.5 0a4.75 4.1 0 1 0 -9.5 0M960.6 1616.4a4.75 4.1 0 1 0 9.5 0a4.75 4.1 0 1 0 -9.5 0M947.9 1665.7a4.75 4.1 0 1 0 9.5 0a4.75 4.1 0 1 0 -9.5 0M926.1 1646.3a4.75 4.1 0 1 0 9.5 0a4.75 4.1 0 1 0 -9.5 0M893.9 1621.8a4.75 4.1 0 1 0 9.5 0a4.75 4.1 0 1 0 -9.5 0M954.0 1666.0a4.75 4.1 0 1 0 9.5 0a4.75 4.1 0 1 0 -9.5 0M929.4 1677.5a4.75 4.1 0 1 0 9.5 0a4.75 4.1 0 1 0 -9.5 0M941.7 1671.5a4.75 4.1 0 1 0 9.5 0a4.75 4.1 0 1 0 -9.5 0M961.8 1605.4a4.75 4.1 0 1 0 9.5 0a4.75 4.1 0 1 0 -9.5 0M952.4 1645.3a4.75 4.1 0 1 0 9.5 0a4.75 4.1 0 1 0 -9.5 0M885.9 1637.2a4.75 4.1 0 1 0 9.5 0a4.75 4.1 0 1 0 -9.5 0M946.2 1668.7a4.75 4.1 0 1 0 9.5 0a4.75 4.1 0 1 0 -9.5 0M913.9 1654.8a4.75 4.1 0 1 0 9.5 0a4.75 4.1 0 1 0 -9.5 0M920.8 1638.8a4.75 4.1 0 1 0 9.5 0a4.75 4.1 0 1 0 -9.5 0M945.8 1610.8a4.75 4.1 0 1 0 9.5 0a4.75 4.1 0 1 0 -9.5 0M944.4 1598.5a4.75 4.1 0 1 0 9.5 0a4.75 4.1 0 1 0 -9.5 0M949.7 1611.7a4.75 4.1 0 1 0 9.5 0a4.75 4.1 0 1 0 -9.5 0M878.0 1649.9a4.75 4.1 0 1 0 9.5 0a4.75 4.1 0 1 0 -9.5 0M934.3 1592.5a4.75 4.1 0 1 0 9.5 0a4.75 4.1 0 1 0 -9.5 0M907.2 1660.8a4.75 4.1 0 1 0 9.5 0a4.75 4.1 0 1 0 -9.5 0M922.7 1662.3a4.75 4.1 0 1 0 9.5 0a4.75 4.1 0 1 0 -9.5 0M952.2 1668.9a4.75 4.1 0 1 0 9.5 0a4.75 4.1 0 1 0 -9.5 0M915.4 1673.5a4.75 4.1 0 1 0 9.5 0a4.75 4.1 0 1 0 -9.5 0M903.5 1625.2a4.75 4.1 0 1 0 9.5 0a4.75 4.1 0 1 0 -9.5 0M938.4 1590.6a4.75 4.1 0 1 0 9.5 0a4.75 4.1 0 1 0 -9.5 0M912.0 1601.5a4.75 4.1 0 1 0 9.5 0a4.75 4.1 0 1 0 -9.5 0M899.4 1608.5a4.75 4.1 0 1 0 9.5 0a4.75 4.1 0 1 0 -9.5 0M947.2 1624.6a4.75 4.1 0 1 0 9.5 0a4.75 4.1 0 1 0 -9.5 0M899.1 1612.1a4.75 4.1 0 1 0 9.5 0a4.75 4.1 0 1 0 -9.5 0M947.5 1670.6a4.75 4.1 0 1 0 9.5 0a4.75 4.1 0 1 0 -9.5 0M941.0 1610.7a4.75 4.1 0 1 0 9.5 0a4.75 4.1 0 1 0 -9.5 0M891.0 1618.7a4.75 4.1 0 1 0 9.5 0a4.75 4.1 0 1 0 -9.5 0M960.3 1619.4a4.75 4.1 0 1 0 9.5 0a4.75 4.1 0 1 0 -9.5 0M935.2 1612.5a4.75 4.1 0 1 0 9.5 0a4.75 4.1 0 1 0 -9.5 0M947.0 1615.8a4.75 4.1 0 1 0 9.5 0a4.75 4.1 0 1 0 -9.5 0M942.2 1607.4a4.75 4.1 0 1 0 9.5 0a4.75 4.1 0 1 0 -9.5 0M885.2 1638.4a4.75 4.1 0 1 0 9.5 0a4.75 4.1 0 1 0 -9.5 0M900.1 1591.6a4.75 4.1 0 1 0 9.5 0a4.75 4.1 0 1 0 -9.5 0M954.1 1673.1a4.75 4.1 0 1 0 9.5 0a4.75 4.1 0 1 0 -9.5 0M934.7 1592.8a4.75 4.1 0 1 0 9.5 0a4.75 4.1 0 1 0 -9.5 0M925.9 1628.8a4.75 4.1 0 1 0 9.5 0a4.75 4.1 0 1 0 -9.5 0M926.9 1658.5a4.75 4.1 0 1 0 9.5 0a4.75 4.1 0 1 0 -9.5 0M948.8 1594.4a4.75 4.1 0 1 0 9.5 0a4.75 4.1 0 1 0 -9.5 0M916.1 1625.9a4.75 4.1 0 1 0 9.5 0a4.75 4.1 0 1 0 -9.5 0M948.2 1619.3a4.75 4.1 0 1 0 9.5 0a4.75 4.1 0 1 0 -9.5 0M951.9 1629.6a4.75 4.1 0 1 0 9.5 0a4.75 4.1 0 1 0 -9.5 0M892.1 1620.5a4.75 4.1 0 1 0 9.5 0a4.75 4.1 0 1 0 -9.5 0M912.2 1628.9a4.75 4.1 0 1 0 9.5 0a4.75 4.1 0 1 0 -9.5 0M927.5 1650.3a4.75 4.1 0 1 0 9.5 0a4.75 4.1 0 1 0 -9.5 0M947.5 1622.7a4.75 4.1 0 1 0 9.5 0a4.75 4.1 0 1 0 -9.5 0M963.7 1655.7a4.75 4.1 0 1 0 9.5 0a4.75 4.1 0 1 0 -9.5 0M949.6 1607.6a4.75 4.1 0 1 0 9.5 0a4.75 4.1 0 1 0 -9.5 0M928.8 1639.2a4.75 4.1 0 1 0 9.5 0a4.75 4.1 0 1 0 -9.5 0M937.8 1650.5a4.75 4.1 0 1 0 9.5 0a4.75 4.1 0 1 0 -9.5 0M912.5 1623.6a4.75 4.1 0 1 0 9.5 0a4.75 4.1 0 1 0 -9.5 0M903.8 1621.1a4.75 4.1 0 1 0 9.5 0a4.75 4.1 0 1 0 -9.5 0M912.9 1663.3a4.75 4.1 0 1 0 9.5 0a4.75 4.1 0 1 0 -9.5 0M943.8 1635.6a4.75 4.1 0 1 0 9.5 0a4.75 4.1 0 1 0 -9.5 0M948.3 1600.7a4.75 4.1 0 1 0 9.5 0a4.75 4.1 0 1 0 -9.5 0M949.9 1665.7a4.75 4.1 0 1 0 9.5 0a4.75 4.1 0 1 0 -9.5 0M935.4 1660.5a4.75 4.1 0 1 0 9.5 0a4.75 4.1 0 1 0 -9.5 0M964.4 1666.9a4.75 4.1 0 1 0 9.5 0a4.75 4.1 0 1 0 -9.5 0M946.8 1647.7a4.75 4.1 0 1 0 9.5 0a4.75 4.1 0 1 0 -9.5 0M904.8 1607.4a4.75 4.1 0 1 0 9.5 0a4.75 4.1 0 1 0 -9.5 0M904.3 1627.0a4.75 4.1 0 1 0 9.5 0a4.75 4.1 0 1 0 -9.5 0M887.6 1651.6a4.75 4.1 0 1 0 9.5 0a4.75 4.1 0 1 0 -9.5 0M875.3 1653.9a4.75 4.1 0 1 0 9.5 0a4.75 4.1 0 1 0 -9.5 0M889.4 1616.6a4.75 4.1 0 1 0 9.5 0a4.75 4.1 0 1 0 -9.5 0M963.8 1653.4a4.75 4.1 0 1 0 9.5 0a4.75 4.1 0 1 0 -9.5 0M933.4 1651.2a4.75 4.1 0 1 0 9.5 0a4.75 4.1 0 1 0 -9.5 0M898.0 1638.4a4.75 4.1 0 1 0 9.5 0a4.75 4.1 0 1 0 -9.5 0M917.5 1610.4a4.75 4.1 0 1 0 9.5 0a4.75 4.1 0 1 0 -9.5 0M938.3 1661.0a4.75 4.1 0 1 0 9.5 0a4.75 4.1 0 1 0 -9.5 0M954.8 1673.8a4.75 4.1 0 1 0 9.5 0a4.75 4.1 0 1 0 -9.5 0M895.0 1650.5a4.75 4.1 0 1 0 9.5 0a4.75 4.1 0 1 0 -9.5 0M918.1 1674.1a4.75 4.1 0 1 0 9.5 0a4.75 4.1 0 1 0 -9.5 0M953.1 1663.5a4.75 4.1 0 1 0 9.5 0a4.75 4.1 0 1 0 -9.5 0M911.9 1631.7a4.75 4.1 0 1 0 9.5 0a4.75 4.1 0 1 0 -9.5 0M901.5 1630.7a4.75 4.1 0 1 0 9.5 0a4.75 4.1 0 1 0 -9.5 0M947.3 1623.3a4.75 4.1 0 1 0 9.5 0a4.75 4.1 0 1 0 -9.5 0M960.9 1641.2a4.75 4.1 0 1 0 9.5 0a4.75 4.1 0 1 0 -9.5 0M909.5 1621.9a4.75 4.1 0 1 0 9.5 0a4.75 4.1 0 1 0 -9.5 0M911.4 1647.7a4.75 4.1 0 1 0 9.5 0a4.75 4.1 0 1 0 -9.5 0M956.3 1644.2a4.75 4.1 0 1 0 9.5 0a4.75 4.1 0 1 0 -9.5 0M922.5 1604.8a4.75 4.1 0 1 0 9.5 0a4.75 4.1 0 1 0 -9.5 0M897.1 1616.1a4.75 4.1 0 1 0 9.5 0a4.75 4.1 0 1 0 -9.5 0M962.9 1665.1a4.75 4.1 0 1 0 9.5 0a4.75 4.1 0 1 0 -9.5 0M941.0 1645.7a4.75 4.1 0 1 0 9.5 0a4.75 4.1 0 1 0 -9.5 0M949.4 1592.9a4.75 4.1 0 1 0 9.5 0a4.75 4.1 0 1 0 -9.5 0M955.5 1629.6a4.75 4.1 0 1 0 9.5 0a4.75 4.1 0 1 0 -9.5 0M947.6 1618.2a4.75 4.1 0 1 0 9.5 0a4.75 4.1 0 1 0 -9.5 0M891.4 1623.4a4.75 4.1 0 1 0 9.5 0a4.75 4.1 0 1 0 -9.5 0M945.5 1625.3a4.75 4.1 0 1 0 9.5 0a4.75 4.1 0 1 0 -9.5 0M961.8 1597.6a4.75 4.1 0 1 0 9.5 0a4.75 4.1 0 1 0 -9.5 0M941.7 1619.6a4.75 4.1 0 1 0 9.5 0a4.75 4.1 0 1 0 -9.5 0M935.0 1673.7a4.75 4.1 0 1 0 9.5 0a4.75 4.1 0 1 0 -9.5 0M886.8 1603.1a4.75 4.1 0 1 0 9.5 0a4.75 4.1 0 1 0 -9.5 0M916.5 1678.0a4.75 4.1 0 1 0 9.5 0a4.75 4.1 0 1 0 -9.5 0M928.8 1656.9a4.75 4.1 0 1 0 9.5 0a4.75 4.1 0 1 0 -9.5 0M921.4 1592.1a4.75 4.1 0 1 0 9.5 0a4.75 4.1 0 1 0 -9.5 0M959.8 1609.0a4.75 4.1 0 1 0 9.5 0a4.75 4.1 0 1 0 -9.5 0M950.5 1655.3a4.75 4.1 0 1 0 9.5 0a4.75 4.1 0 1 0 -9.5 0M913.5 1614.5a4.75 4.1 0 1 0 9.5 0a4.75 4.1 0 1 0 -9.5 0M923.1 1656.7a4.75 4.1 0 1 0 9.5 0a4.75 4.1 0 1 0 -9.5 0M953.6 1597.5a4.75 4.1 0 1 0 9.5 0a4.75 4.1 0 1 0 -9.5 0M934.4 1596.8a4.75 4.1 0 1 0 9.5 0a4.75 4.1 0 1 0 -9.5 0M952.0 1626.5a4.75 4.1 0 1 0 9.5 0a4.75 4.1 0 1 0 -9.5 0M950.2 1590.7a4.75 4.1 0 1 0 9.5 0a4.75 4.1 0 1 0 -9.5 0M914.6 1590.5a4.75 4.1 0 1 0 9.5 0a4.75 4.1 0 1 0 -9.5 0M904.0 1640.8a4.75 4.1 0 1 0 9.5 0a4.75 4.1 0 1 0 -9.5 0M906.4 1633.5a4.75 4.1 0 1 0 9.5 0a4.75 4.1 0 1 0 -9.5 0M926.1 1673.8a4.75 4.1 0 1 0 9.5 0a4.75 4.1 0 1 0 -9.5 0M931.4 1657.6a4.75 4.1 0 1 0 9.5 0a4.75 4.1 0 1 0 -9.5 0M938.4 1641.6a4.75 4.1 0 1 0 9.5 0a4.75 4.1 0 1 0 -9.5 0M923.1 1611.7a4.75 4.1 0 1 0 9.5 0a4.75 4.1 0 1 0 -9.5 0M841.1 1633.2a4.75 4.1 0 1 0 9.5 0a4.75 4.1 0 1 0 -9.5 0M832.5 1644.8a4.75 4.1 0 1 0 9.5 0a4.75 4.1 0 1 0 -9.5 0M825.8 1601.3a4.75 4.1 0 1 0 9.5 0a4.75 4.1 0 1 0 -9.5 0M829.4 1641.8a4.75 4.1 0 1 0 9.5 0a4.75 4.1 0 1 0 -9.5 0M837.6 1638.8a4.75 4.1 0 1 0 9.5 0a4.75 4.1 0 1 0 -9.5 0M810.7 1634.2a4.75 4.1 0 1 0 9.5 0a4.75 4.1 0 1 0 -9.5 0M822.1 1615.0a4.75 4.1 0 1 0 9.5 0a4.75 4.1 0 1 0 -9.5 0M820.4 1638.0a4.75 4.1 0 1 0 9.5 0a4.75 4.1 0 1 0 -9.5 0M813.4 1632.4a4.75 4.1 0 1 0 9.5 0a4.75 4.1 0 1 0 -9.5 0M822.9 1602.3a4.75 4.1 0 1 0 9.5 0a4.75 4.1 0 1 0 -9.5 0M837.8 1628.7a4.75 4.1 0 1 0 9.5 0a4.75 4.1 0 1 0 -9.5 0M839.4 1590.4a4.75 4.1 0 1 0 9.5 0a4.75 4.1 0 1 0 -9.5 0M806.7 1633.8a4.75 4.1 0 1 0 9.5 0a4.75 4.1 0 1 0 -9.5 0M833.5 1617.9a4.75 4.1 0 1 0 9.5 0a4.75 4.1 0 1 0 -9.5 0M826.8 1630.0a4.75 4.1 0 1 0 9.5 0a4.75 4.1 0 1 0 -9.5 0M814.6 1615.6a4.75 4.1 0 1 0 9.5 0a4.75 4.1 0 1 0 -9.5 0M819.2 1641.3a4.75 4.1 0 1 0 9.5 0a4.75 4.1 0 1 0 -9.5 0M811.5 1623.5a4.75 4.1 0 1 0 9.5 0a4.75 4.1 0 1 0 -9.5 0M799.8 1607.4a4.75 4.1 0 1 0 9.5 0a4.75 4.1 0 1 0 -9.5 0M821.0 1644.6a4.75 4.1 0 1 0 9.5 0a4.75 4.1 0 1 0 -9.5 0M824.2 1615.8a4.75 4.1 0 1 0 9.5 0a4.75 4.1 0 1 0 -9.5 0M825.8 1591.4a4.75 4.1 0 1 0 9.5 0a4.75 4.1 0 1 0 -9.5 0M947.4 1504.7a4.75 4.1 0 1 0 9.5 0a4.75 4.1 0 1 0 -9.5 0M905.7 1499.8a4.75 4.1 0 1 0 9.5 0a4.75 4.1 0 1 0 -9.5 0M924.8 1515.6a4.75 4.1 0 1 0 9.5 0a4.75 4.1 0 1 0 -9.5 0M943.4 1479.6a4.75 4.1 0 1 0 9.5 0a4.75 4.1 0 1 0 -9.5 0M947.6 1573.6a4.75 4.1 0 1 0 9.5 0a4.75 4.1 0 1 0 -9.5 0M947.3 1479.1a4.75 4.1 0 1 0 9.5 0a4.75 4.1 0 1 0 -9.5 0M938.9 1507.1a4.75 4.1 0 1 0 9.5 0a4.75 4.1 0 1 0 -9.5 0M945.7 1498.2a4.75 4.1 0 1 0 9.5 0a4.75 4.1 0 1 0 -9.5 0M933.9 1533.4a4.75 4.1 0 1 0 9.5 0a4.75 4.1 0 1 0 -9.5 0M918.2 1498.5a4.75 4.1 0 1 0 9.5 0a4.75 4.1 0 1 0 -9.5 0M954.4 1530.6a4.75 4.1 0 1 0 9.5 0a4.75 4.1 0 1 0 -9.5 0M946.2 1498.2a4.75 4.1 0 1 0 9.5 0a4.75 4.1 0 1 0 -9.5 0M911.7 1568.6a4.75 4.1 0 1 0 9.5 0a4.75 4.1 0 1 0 -9.5 0M956.4 1547.9a4.75 4.1 0 1 0 9.5 0a4.75 4.1 0 1 0 -9.5 0M929.1 1488.9a4.75 4.1 0 1 0 9.5 0a4.75 4.1 0 1 0 -9.5 0M929.3 1571.2a4.75 4.1 0 1 0 9.5 0a4.75 4.1 0 1 0 -9.5 0M929.8 1477.8a4.75 4.1 0 1 0 9.5 0a4.75 4.1 0 1 0 -9.5 0M960.4 1513.2a4.75 4.1 0 1 0 9.5 0a4.75 4.1 0 1 0 -9.5 0M928.4 1491.8a4.75 4.1 0 1 0 9.5 0a4.75 4.1 0 1 0 -9.5 0M965.2 1544.0a4.75 4.1 0 1 0 9.5 0a4.75 4.1 0 1 0 -9.5 0M932.9 1528.5a4.75 4.1 0 1 0 9.5 0a4.75 4.1 0 1 0 -9.5 0M904.4 1514.4a4.75 4.1 0 1 0 9.5 0a4.75 4.1 0 1 0 -9.5 0M962.7 1466.9a4.75 4.1 0 1 0 9.5 0a4.75 4.1 0 1 0 -9.5 0M931.4 1491.7a4.75 4.1 0 1 0 9.5 0a4.75 4.1 0 1 0 -9.5 0M899.3 1542.7a4.75 4.1 0 1 0 9.5 0a4.75 4.1 0 1 0 -9.5 0M922.4 1502.0a4.75 4.1 0 1 0 9.5 0a4.75 4.1 0 1 0 -9.5 0M962.5 1499.7a4.75 4.1 0 1 0 9.5 0a4.75 4.1 0 1 0 -9.5 0M908.1 1484.8a4.75 4.1 0 1 0 9.5 0a4.75 4.1 0 1 0 -9.5 0M903.3 1493.2a4.75 4.1 0 1 0 9.5 0a4.75 4.1 0 1 0 -9.5 0M913.1 1530.8a4.75 4.1 0 1 0 9.5 0a4.75 4.1 0 1 0 -9.5 0M949.9 1519.0a4.75 4.1 0 1 0 9.5 0a4.75 4.1 0 1 0 -9.5 0M896.8 1522.1a4.75 4.1 0 1 0 9.5 0a4.75 4.1 0 1 0 -9.5 0M949.1 1581.3a4.75 4.1 0 1 0 9.5 0a4.75 4.1 0 1 0 -9.5 0M966.8 1492.3a4.75 4.1 0 1 0 9.5 0a4.75 4.1 0 1 0 -9.5 0M904.9 1507.7a4.75 4.1 0 1 0 9.5 0a4.75 4.1 0 1 0 -9.5 0M946.1 1583.8a4.75 4.1 0 1 0 9.5 0a4.75 4.1 0 1 0 -9.5 0M897.6 1563.0a4.75 4.1 0 1 0 9.5 0a4.75 4.1 0 1 0 -9.5 0M951.7 1487.1a4.75 4.1 0 1 0 9.5 0a4.75 4.1 0 1 0 -9.5 0M916.0 1581.5a4.75 4.1 0 1 0 9.5 0a4.75 4.1 0 1 0 -9.5 0M934.5 1493.6a4.75 4.1 0 1 0 9.5 0a4.75 4.1 0 1 0 -9.5 0M935.4 1558.7a4.75 4.1 0 1 0 9.5 0a4.75 4.1 0 1 0 -9.5 0M928.0 1477.3a4.75 4.1 0 1 0 9.5 0a4.75 4.1 0 1 0 -9.5 0M954.0 1576.7a4.75 4.1 0 1 0 9.5 0a4.75 4.1 0 1 0 -9.5 0M960.8 1551.8a4.75 4.1 0 1 0 9.5 0a4.75 4.1 0 1 0 -9.5 0M925.8 1577.5a4.75 4.1 0 1 0 9.5 0a4.75 4.1 0 1 0 -9.5 0M927.4 1540.9a4.75 4.1 0 1 0 9.5 0a4.75 4.1 0 1 0 -9.5 0M916.2 1563.6a4.75 4.1 0 1 0 9.5 0a4.75 4.1 0 1 0 -9.5 0M919.9 1480.4a4.75 4.1 0 1 0 9.5 0a4.75 4.1 0 1 0 -9.5 0M932.9 1510.8a4.75 4.1 0 1 0 9.5 0a4.75 4.1 0 1 0 -9.5 0M958.2 1551.1a4.75 4.1 0 1 0 9.5 0a4.75 4.1 0 1 0 -9.5 0M945.9 1520.3a4.75 4.1 0 1 0 9.5 0a4.75 4.1 0 1 0 -9.5 0M942.9 1582.5a4.75 4.1 0 1 0 9.5 0a4.75 4.1 0 1 0 -9.5 0M964.7 1578.7a4.75 4.1 0 1 0 9.5 0a4.75 4.1 0 1 0 -9.5 0M916.6 1487.3a4.75 4.1 0 1 0 9.5 0a4.75 4.1 0 1 0 -9.5 0M909.0 1564.8a4.75 4.1 0 1 0 9.5 0a4.75 4.1 0 1 0 -9.5 0M960.4 1552.0a4.75 4.1 0 1 0 9.5 0a4.75 4.1 0 1 0 -9.5 0M924.9 1536.4a4.75 4.1 0 1 0 9.5 0a4.75 4.1 0 1 0 -9.5 0M903.4 1498.7a4.75 4.1 0 1 0 9.5 0a4.75 4.1 0 1 0 -9.5 0M960.0 1553.2a4.75 4.1 0 1 0 9.5 0a4.75 4.1 0 1 0 -9.5 0M913.8 1496.8a4.75 4.1 0 1 0 9.5 0a4.75 4.1 0 1 0 -9.5 0M893.9 1526.8a4.75 4.1 0 1 0 9.5 0a4.75 4.1 0 1 0 -9.5 0M963.1 1497.2a4.75 4.1 0 1 0 9.5 0a4.75 4.1 0 1 0 -9.5 0M947.1 1558.6a4.75 4.1 0 1 0 9.5 0a4.75 4.1 0 1 0 -9.5 0M929.2 1479.0a4.75 4.1 0 1 0 9.5 0a4.75 4.1 0 1 0 -9.5 0M968.1 1576.5a4.75 4.1 0 1 0 9.5 0a4.75 4.1 0 1 0 -9.5 0M925.7 1549.6a4.75 4.1 0 1 0 9.5 0a4.75 4.1 0 1 0 -9.5 0M935.1 1553.5a4.75 4.1 0 1 0 9.5 0a4.75 4.1 0 1 0 -9.5 0M904.4 1541.4a4.75 4.1 0 1 0 9.5 0a4.75 4.1 0 1 0 -9.5 0M932.3 1467.6a4.75 4.1 0 1 0 9.5 0a4.75 4.1 0 1 0 -9.5 0M939.0 1519.8a4.75 4.1 0 1 0 9.5 0a4.75 4.1 0 1 0 -9.5 0M961.8 1467.6a4.75 4.1 0 1 0 9.5 0a4.75 4.1 0 1 0 -9.5 0M915.3 1556.9a4.75 4.1 0 1 0 9.5 0a4.75 4.1 0 1 0 -9.5 0M950.6 1486.0a4.75 4.1 0 1 0 9.5 0a4.75 4.1 0 1 0 -9.5 0M889.7 1572.1a4.75 4.1 0 1 0 9.5 0a4.75 4.1 0 1 0 -9.5 0M901.4 1566.7a4.75 4.1 0 1 0 9.5 0a4.75 4.1 0 1 0 -9.5 0M900.2 1544.5a4.75 4.1 0 1 0 9.5 0a4.75 4.1 0 1 0 -9.5 0M963.3 1588.8a4.75 4.1 0 1 0 9.5 0a4.75 4.1 0 1 0 -9.5 0M929.4 1566.3a4.75 4.1 0 1 0 9.5 0a4.75 4.1 0 1 0 -9.5 0M895.0 1563.9a4.75 4.1 0 1 0 9.5 0a4.75 4.1 0 1 0 -9.5 0M913.0 1540.0a4.75 4.1 0 1 0 9.5 0a4.75 4.1 0 1 0 -9.5 0M947.1 1540.2a4.75 4.1 0 1 0 9.5 0a4.75 4.1 0 1 0 -9.5 0M899.8 1554.0a4.75 4.1 0 1 0 9.5 0a4.75 4.1 0 1 0 -9.5 0M967.2 1472.0a4.75 4.1 0 1 0 9.5 0a4.75 4.1 0 1 0 -9.5 0M942.4 1522.2a4.75 4.1 0 1 0 9.5 0a4.75 4.1 0 1 0 -9.5 0M929.6 1501.5a4.75 4.1 0 1 0 9.5 0a4.75 4.1 0 1 0 -9.5 0M892.6 1538.8a4.75 4.1 0 1 0 9.5 0a4.75 4.1 0 1 0 -9.5 0M915.2 1478.3a4.75 4.1 0 1 0 9.5 0a4.75 4.1 0 1 0 -9.5 0M903.9 1500.8a4.75 4.1 0 1 0 9.5 0a4.75 4.1 0 1 0 -9.5 0M939.4 1574.9a4.75 4.1 0 1 0 9.5 0a4.75 4.1 0 1 0 -9.5 0M925.0 1472.6a4.75 4.1 0 1 0 9.5 0a4.75 4.1 0 1 0 -9.5 0M892.4 1550.5a4.75 4.1 0 1 0 9.5 0a4.75 4.1 0 1 0 -9.5 0M946.5 1483.3a4.75 4.1 0 1 0 9.5 0a4.75 4.1 0 1 0 -9.5 0M889.9 1550.1a4.75 4.1 0 1 0 9.5 0a4.75 4.1 0 1 0 -9.5 0M967.2 1479.1a4.75 4.1 0 1 0 9.5 0a4.75 4.1 0 1 0 -9.5 0M899.4 1550.9a4.75 4.1 0 1 0 9.5 0a4.75 4.1 0 1 0 -9.5 0M926.5 1487.0a4.75 4.1 0 1 0 9.5 0a4.75 4.1 0 1 0 -9.5 0M903.6 1564.2a4.75 4.1 0 1 0 9.5 0a4.75 4.1 0 1 0 -9.5 0M945.8 1472.0a4.75 4.1 0 1 0 9.5 0a4.75 4.1 0 1 0 -9.5 0M944.4 1479.8a4.75 4.1 0 1 0 9.5 0a4.75 4.1 0 1 0 -9.5 0M929.0 1477.8a4.75 4.1 0 1 0 9.5 0a4.75 4.1 0 1 0 -9.5 0M906.0 1569.7a4.75 4.1 0 1 0 9.5 0a4.75 4.1 0 1 0 -9.5 0M929.6 1527.3a4.75 4.1 0 1 0 9.5 0a4.75 4.1 0 1 0 -9.5 0M902.7 1509.1a4.75 4.1 0 1 0 9.5 0a4.75 4.1 0 1 0 -9.5 0M934.9 1520.3a4.75 4.1 0 1 0 9.5 0a4.75 4.1 0 1 0 -9.5 0M912.7 1538.2a4.75 4.1 0 1 0 9.5 0a4.75 4.1 0 1 0 -9.5 0M896.7 1525.5a4.75 4.1 0 1 0 9.5 0a4.75 4.1 0 1 0 -9.5 0M949.6 1559.8a4.75 4.1 0 1 0 9.5 0a4.75 4.1 0 1 0 -9.5 0M932.0 1557.2a4.75 4.1 0 1 0 9.5 0a4.75 4.1 0 1 0 -9.5 0M916.5 1511.3a4.75 4.1 0 1 0 9.5 0a4.75 4.1 0 1 0 -9.5 0M924.7 1481.5a4.75 4.1 0 1 0 9.5 0a4.75 4.1 0 1 0 -9.5 0M895.4 1580.6a4.75 4.1 0 1 0 9.5 0a4.75 4.1 0 1 0 -9.5 0M955.3 1573.9a4.75 4.1 0 1 0 9.5 0a4.75 4.1 0 1 0 -9.5 0M971.0 1522.2a4.75 4.1 0 1 0 9.5 0a4.75 4.1 0 1 0 -9.5 0M934.4 1524.2a4.75 4.1 0 1 0 9.5 0a4.75 4.1 0 1 0 -9.5 0M939.2 1478.9a4.75 4.1 0 1 0 9.5 0a4.75 4.1 0 1 0 -9.5 0M955.2 1546.3a4.75 4.1 0 1 0 9.5 0a4.75 4.1 0 1 0 -9.5 0M939.3 1526.6a4.75 4.1 0 1 0 9.5 0a4.75 4.1 0 1 0 -9.5 0M958.3 1493.1a4.75 4.1 0 1 0 9.5 0a4.75 4.1 0 1 0 -9.5 0M917.6 1530.3a4.75 4.1 0 1 0 9.5 0a4.75 4.1 0 1 0 -9.5 0M948.0 1476.1a4.75 4.1 0 1 0 9.5 0a4.75 4.1 0 1 0 -9.5 0M916.2 1517.8a4.75 4.1 0 1 0 9.5 0a4.75 4.1 0 1 0 -9.5 0M958.2 1548.8a4.75 4.1 0 1 0 9.5 0a4.75 4.1 0 1 0 -9.5 0M909.3 1550.5a4.75 4.1 0 1 0 9.5 0a4.75 4.1 0 1 0 -9.5 0M902.0 1569.8a4.75 4.1 0 1 0 9.5 0a4.75 4.1 0 1 0 -9.5 0M912.9 1546.7a4.75 4.1 0 1 0 9.5 0a4.75 4.1 0 1 0 -9.5 0M963.4 1542.4a4.75 4.1 0 1 0 9.5 0a4.75 4.1 0 1 0 -9.5 0M966.5 1485.1a4.75 4.1 0 1 0 9.5 0a4.75 4.1 0 1 0 -9.5 0M919.6 1532.6a4.75 4.1 0 1 0 9.5 0a4.75 4.1 0 1 0 -9.5 0M955.5 1588.5a4.75 4.1 0 1 0 9.5 0a4.75 4.1 0 1 0 -9.5 0M966.1 1580.0a4.75 4.1 0 1 0 9.5 0a4.75 4.1 0 1 0 -9.5 0M908.8 1579.6a4.75 4.1 0 1 0 9.5 0a4.75 4.1 0 1 0 -9.5 0M900.7 1584.2a4.75 4.1 0 1 0 9.5 0a4.75 4.1 0 1 0 -9.5 0M920.8 1512.5a4.75 4.1 0 1 0 9.5 0a4.75 4.1 0 1 0 -9.5 0M946.6 1546.0a4.75 4.1 0 1 0 9.5 0a4.75 4.1 0 1 0 -9.5 0M914.6 1497.5a4.75 4.1 0 1 0 9.5 0a4.75 4.1 0 1 0 -9.5 0M901.7 1585.9a4.75 4.1 0 1 0 9.5 0a4.75 4.1 0 1 0 -9.5 0M945.3 1480.5a4.75 4.1 0 1 0 9.5 0a4.75 4.1 0 1 0 -9.5 0M902.1 1568.2a4.75 4.1 0 1 0 9.5 0a4.75 4.1 0 1 0 -9.5 0M909.7 1506.6a4.75 4.1 0 1 0 9.5 0a4.75 4.1 0 1 0 -9.5 0M956.3 1527.6a4.75 4.1 0 1 0 9.5 0a4.75 4.1 0 1 0 -9.5 0M928.3 1553.2a4.75 4.1 0 1 0 9.5 0a4.75 4.1 0 1 0 -9.5 0M959.6 1564.1a4.75 4.1 0 1 0 9.5 0a4.75 4.1 0 1 0 -9.5 0M910.2 1542.1a4.75 4.1 0 1 0 9.5 0a4.75 4.1 0 1 0 -9.5 0M906.1 1496.8a4.75 4.1 0 1 0 9.5 0a4.75 4.1 0 1 0 -9.5 0M900.8 1554.8a4.75 4.1 0 1 0 9.5 0a4.75 4.1 0 1 0 -9.5 0M920.8 1495.4a4.75 4.1 0 1 0 9.5 0a4.75 4.1 0 1 0 -9.5 0M946.7 1511.0a4.75 4.1 0 1 0 9.5 0a4.75 4.1 0 1 0 -9.5 0M951.7 1580.1a4.75 4.1 0 1 0 9.5 0a4.75 4.1 0 1 0 -9.5 0M969.5 1588.9a4.75 4.1 0 1 0 9.5 0a4.75 4.1 0 1 0 -9.5 0M902.4 1583.7a4.75 4.1 0 1 0 9.5 0a4.75 4.1 0 1 0 -9.5 0M908.3 1585.4a4.75 4.1 0 1 0 9.5 0a4.75 4.1 0 1 0 -9.5 0M928.2 1508.5a4.75 4.1 0 1 0 9.5 0a4.75 4.1 0 1 0 -9.5 0M897.9 1562.9a4.75 4.1 0 1 0 9.5 0a4.75 4.1 0 1 0 -9.5 0M954.9 1561.4a4.75 4.1 0 1 0 9.5 0a4.75 4.1 0 1 0 -9.5 0M908.5 1529.8a4.75 4.1 0 1 0 9.5 0a4.75 4.1 0 1 0 -9.5 0M969.3 1485.6a4.75 4.1 0 1 0 9.5 0a4.75 4.1 0 1 0 -9.5 0M945.4 1507.6a4.75 4.1 0 1 0 9.5 0a4.75 4.1 0 1 0 -9.5 0M935.2 1530.1a4.75 4.1 0 1 0 9.5 0a4.75 4.1 0 1 0 -9.5 0M925.0 1538.3a4.75 4.1 0 1 0 9.5 0a4.75 4.1 0 1 0 -9.5 0M943.6 1467.8a4.75 4.1 0 1 0 9.5 0a4.75 4.1 0 1 0 -9.5 0M901.4 1536.8a4.75 4.1 0 1 0 9.5 0a4.75 4.1 0 1 0 -9.5 0M931.5 1547.1a4.75 4.1 0 1 0 9.5 0a4.75 4.1 0 1 0 -9.5 0M959.4 1508.9a4.75 4.1 0 1 0 9.5 0a4.75 4.1 0 1 0 -9.5 0M949.1 1473.4a4.75 4.1 0 1 0 9.5 0a4.75 4.1 0 1 0 -9.5 0M931.9 1570.6a4.75 4.1 0 1 0 9.5 0a4.75 4.1 0 1 0 -9.5 0M915.2 1575.1a4.75 4.1 0 1 0 9.5 0a4.75 4.1 0 1 0 -9.5 0M963.7 1537.8a4.75 4.1 0 1 0 9.5 0a4.75 4.1 0 1 0 -9.5 0M937.0 1472.1a4.75 4.1 0 1 0 9.5 0a4.75 4.1 0 1 0 -9.5 0M951.2 1513.9a4.75 4.1 0 1 0 9.5 0a4.75 4.1 0 1 0 -9.5 0M919.5 1502.7a4.75 4.1 0 1 0 9.5 0a4.75 4.1 0 1 0 -9.5 0M944.0 1504.4a4.75 4.1 0 1 0 9.5 0a4.75 4.1 0 1 0 -9.5 0M961.3 1520.2a4.75 4.1 0 1 0 9.5 0a4.75 4.1 0 1 0 -9.5 0M911.0 1507.0a4.75 4.1 0 1 0 9.5 0a4.75 4.1 0 1 0 -9.5 0M951.6 1521.4a4.75 4.1 0 1 0 9.5 0a4.75 4.1 0 1 0 -9.5 0M934.3 1479.7a4.75 4.1 0 1 0 9.5 0a4.75 4.1 0 1 0 -9.5 0M923.3 1529.7a4.75 4.1 0 1 0 9.5 0a4.75 4.1 0 1 0 -9.5 0M970.0 1554.4a4.75 4.1 0 1 0 9.5 0a4.75 4.1 0 1 0 -9.5 0M890.3 1525.9a4.75 4.1 0 1 0 9.5 0a4.75 4.1 0 1 0 -9.5 0M941.9 1584.7a4.75 4.1 0 1 0 9.5 0a4.75 4.1 0 1 0 -9.5 0M949.9 1477.0a4.75 4.1 0 1 0 9.5 0a4.75 4.1 0 1 0 -9.5 0M923.3 1558.4a4.75 4.1 0 1 0 9.5 0a4.75 4.1 0 1 0 -9.5 0M949.6 1573.7a4.75 4.1 0 1 0 9.5 0a4.75 4.1 0 1 0 -9.5 0M929.6 1483.8a4.75 4.1 0 1 0 9.5 0a4.75 4.1 0 1 0 -9.5 0M900.4 1519.4a4.75 4.1 0 1 0 9.5 0a4.75 4.1 0 1 0 -9.5 0M950.7 1537.9a4.75 4.1 0 1 0 9.5 0a4.75 4.1 0 1 0 -9.5 0M927.0 1562.9a4.75 4.1 0 1 0 9.5 0a4.75 4.1 0 1 0 -9.5 0M907.4 1547.3a4.75 4.1 0 1 0 9.5 0a4.75 4.1 0 1 0 -9.5 0M924.9 1527.9a4.75 4.1 0 1 0 9.5 0a4.75 4.1 0 1 0 -9.5 0M910.4 1572.2a4.75 4.1 0 1 0 9.5 0a4.75 4.1 0 1 0 -9.5 0M924.0 1529.7a4.75 4.1 0 1 0 9.5 0a4.75 4.1 0 1 0 -9.5 0M916.2 1616.1a4.75 4.1 0 1 0 9.5 0a4.75 4.1 0 1 0 -9.5 0M904.9 1659.1a4.75 4.1 0 1 0 9.5 0a4.75 4.1 0 1 0 -9.5 0M923.5 1633.8a4.75 4.1 0 1 0 9.5 0a4.75 4.1 0 1 0 -9.5 0M921.0 1685.7a4.75 4.1 0 1 0 9.5 0a4.75 4.1 0 1 0 -9.5 0M942.6 1592.9a4.75 4.1 0 1 0 9.5 0a4.75 4.1 0 1 0 -9.5 0M949.5 1584.3a4.75 4.1 0 1 0 9.5 0a4.75 4.1 0 1 0 -9.5 0M920.8 1634.6a4.75 4.1 0 1 0 9.5 0a4.75 4.1 0 1 0 -9.5 0M950.7 1592.0a4.75 4.1 0 1 0 9.5 0a4.75 4.1 0 1 0 -9.5 0M920.5 1606.8a4.75 4.1 0 1 0 9.5 0a4.75 4.1 0 1 0 -9.5 0M909.3 1647.2a4.75 4.1 0 1 0 9.5 0a4.75 4.1 0 1 0 -9.5 0M935.9 1581.3a4.75 4.1 0 1 0 9.5 0a4.75 4.1 0 1 0 -9.5 0M947.5 1594.6a4.75 4.1 0 1 0 9.5 0a4.75 4.1 0 1 0 -9.5 0M895.0 1658.8a4.75 4.1 0 1 0 9.5 0a4.75 4.1 0 1 0 -9.5 0M934.8 1641.2a4.75 4.1 0 1 0 9.5 0a4.75 4.1 0 1 0 -9.5 0M935.6 1591.0a4.75 4.1 0 1 0 9.5 0a4.75 4.1 0 1 0 -9.5 0M930.2 1625.8a4.75 4.1 0 1 0 9.5 0a4.75 4.1 0 1 0 -9.5 0M936.3 1621.3a4.75 4.1 0 1 0 9.5 0a4.75 4.1 0 1 0 -9.5 0M935.2 1621.2a4.75 4.1 0 1 0 9.5 0a4.75 4.1 0 1 0 -9.5 0M905.3 1637.5a4.75 4.1 0 1 0 9.5 0a4.75 4.1 0 1 0 -9.5 0M939.5 1621.6a4.75 4.1 0 1 0 9.5 0a4.75 4.1 0 1 0 -9.5 0M901.2 1656.8a4.75 4.1 0 1 0 9.5 0a4.75 4.1 0 1 0 -9.5 0M923.7 1665.3a4.75 4.1 0 1 0 9.5 0a4.75 4.1 0 1 0 -9.5 0M932.4 1615.6a4.75 4.1 0 1 0 9.5 0a4.75 4.1 0 1 0 -9.5 0M941.7 1605.4a4.75 4.1 0 1 0 9.5 0a4.75 4.1 0 1 0 -9.5 0M912.5 1655.0a4.75 4.1 0 1 0 9.5 0a4.75 4.1 0 1 0 -9.5 0M945.3 1584.8a4.75 4.1 0 1 0 9.5 0a4.75 4.1 0 1 0 -9.5 0M945.8 1604.7a4.75 4.1 0 1 0 9.5 0a4.75 4.1 0 1 0 -9.5 0M941.4 1600.9a4.75 4.1 0 1 0 9.5 0a4.75 4.1 0 1 0 -9.5 0M923.9 1659.1a4.75 4.1 0 1 0 9.5 0a4.75 4.1 0 1 0 -9.5 0M957.4 1606.3a4.75 4.1 0 1 0 9.5 0a4.75 4.1 0 1 0 -9.5 0M940.3 1630.9a4.75 4.1 0 1 0 9.5 0a4.75 4.1 0 1 0 -9.5 0M962.5 1589.0a4.75 4.1 0 1 0 9.5 0a4.75 4.1 0 1 0 -9.5 0M942.1 1617.0a4.75 4.1 0 1 0 9.5 0a4.75 4.1 0 1 0 -9.5 0M934.3 1602.7a4.75 4.1 0 1 0 9.5 0a4.75 4.1 0 1 0 -9.5 0M925.5 1599.1a4.75 4.1 0 1 0 9.5 0a4.75 4.1 0 1 0 -9.5 0M941.4 1593.7a4.75 4.1 0 1 0 9.5 0a4.75 4.1 0 1 0 -9.5 0M955.1 1593.8a4.75 4.1 0 1 0 9.5 0a4.75 4.1 0 1 0 -9.5 0M921.8 1685.0a4.75 4.1 0 1 0 9.5 0a4.75 4.1 0 1 0 -9.5 0M926.2 1672.1a4.75 4.1 0 1 0 9.5 0a4.75 4.1 0 1 0 -9.5 0M930.0 1621.2a4.75 4.1 0 1 0 9.5 0a4.75 4.1 0 1 0 -9.5 0M897.4 1665.3a4.75 4.1 0 1 0 9.5 0a4.75 4.1 0 1 0 -9.5 0M894.6 1665.1a4.75 4.1 0 1 0 9.5 0a4.75 4.1 0 1 0 -9.5 0M928.1 1648.6a4.75 4.1 0 1 0 9.5 0a4.75 4.1 0 1 0 -9.5 0M902.3 1678.4a4.75 4.1 0 1 0 9.5 0a4.75 4.1 0 1 0 -9.5 0M933.2 1585.9a4.75 4.1 0 1 0 9.5 0a4.75 4.1 0 1 0 -9.5 0M918.5 1626.4a4.75 4.1 0 1 0 9.5 0a4.75 4.1 0 1 0 -9.5 0M918.8 1644.3a4.75 4.1 0 1 0 9.5 0a4.75 4.1 0 1 0 -9.5 0M921.3 1625.2a4.75 4.1 0 1 0 9.5 0a4.75 4.1 0 1 0 -9.5 0M913.9 1683.5a4.75 4.1 0 1 0 9.5 0a4.75 4.1 0 1 0 -9.5 0M960.9 1592.4a4.75 4.1 0 1 0 9.5 0a4.75 4.1 0 1 0 -9.5 0M901.8 1646.5a4.75 4.1 0 1 0 9.5 0a4.75 4.1 0 1 0 -9.5 0M922.4 1627.7a4.75 4.1 0 1 0 9.5 0a4.75 4.1 0 1 0 -9.5 0M894.8 1680.3a4.75 4.1 0 1 0 9.5 0a4.75 4.1 0 1 0 -9.5 0M955.9 1596.6a4.75 4.1 0 1 0 9.5 0a4.75 4.1 0 1 0 -9.5 0M922.2 1605.3a4.75 4.1 0 1 0 9.5 0a4.75 4.1 0 1 0 -9.5 0M900.2 1680.2a4.75 4.1 0 1 0 9.5 0a4.75 4.1 0 1 0 -9.5 0M910.0 1640.2a4.75 4.1 0 1 0 9.5 0a4.75 4.1 0 1 0 -9.5 0M911.0 1678.0a4.75 4.1 0 1 0 9.5 0a4.75 4.1 0 1 0 -9.5 0M937.2 1639.1a4.75 4.1 0 1 0 9.5 0a4.75 4.1 0 1 0 -9.5 0M903.5 1662.5a4.75 4.1 0 1 0 9.5 0a4.75 4.1 0 1 0 -9.5 0M950.0 1577.4a4.75 4.1 0 1 0 9.5 0a4.75 4.1 0 1 0 -9.5 0M938.6 1602.5a4.75 4.1 0 1 0 9.5 0a4.75 4.1 0 1 0 -9.5 0M947.9 1605.5a4.75 4.1 0 1 0 9.5 0a4.75 4.1 0 1 0 -9.5 0M938.4 1616.0a4.75 4.1 0 1 0 9.5 0a4.75 4.1 0 1 0 -9.5 0M903.7 1663.4a4.75 4.1 0 1 0 9.5 0a4.75 4.1 0 1 0 -9.5 0M924.4 1601.8a4.75 4.1 0 1 0 9.5 0a4.75 4.1 0 1 0 -9.5 0M916.5 1650.3a4.75 4.1 0 1 0 9.5 0a4.75 4.1 0 1 0 -9.5 0M914.6 1642.2a4.75 4.1 0 1 0 9.5 0a4.75 4.1 0 1 0 -9.5 0M910.2 1677.8a4.75 4.1 0 1 0 9.5 0a4.75 4.1 0 1 0 -9.5 0M935.3 1612.5a4.75 4.1 0 1 0 9.5 0a4.75 4.1 0 1 0 -9.5 0M924.1 1623.3a4.75 4.1 0 1 0 9.5 0a4.75 4.1 0 1 0 -9.5 0M906.0 1638.3a4.75 4.1 0 1 0 9.5 0a4.75 4.1 0 1 0 -9.5 0M960.5 1572.2a4.75 4.1 0 1 0 9.5 0a4.75 4.1 0 1 0 -9.5 0M965.1 1585.0a4.75 4.1 0 1 0 9.5 0a4.75 4.1 0 1 0 -9.5 0M934.2 1586.1a4.75 4.1 0 1 0 9.5 0a4.75 4.1 0 1 0 -9.5 0M917.3 1682.5a4.75 4.1 0 1 0 9.5 0a4.75 4.1 0 1 0 -9.5 0M918.0 1635.8a4.75 4.1 0 1 0 9.5 0a4.75 4.1 0 1 0 -9.5 0M947.6 1606.7a4.75 4.1 0 1 0 9.5 0a4.75 4.1 0 1 0 -9.5 0M929.8 1627.5a4.75 4.1 0 1 0 9.5 0a4.75 4.1 0 1 0 -9.5 0M913.7 1685.0a4.75 4.1 0 1 0 9.5 0a4.75 4.1 0 1 0 -9.5 0M944.8 1628.7a4.75 4.1 0 1 0 9.5 0a4.75 4.1 0 1 0 -9.5 0M906.9 1632.9a4.75 4.1 0 1 0 9.5 0a4.75 4.1 0 1 0 -9.5 0M930.3 1625.6a4.75 4.1 0 1 0 9.5 0a4.75 4.1 0 1 0 -9.5 0M916.8 1635.6a4.75 4.1 0 1 0 9.5 0a4.75 4.1 0 1 0 -9.5 0M909.4 1638.7a4.75 4.1 0 1 0 9.5 0a4.75 4.1 0 1 0 -9.5 0M930.3 1594.4a4.75 4.1 0 1 0 9.5 0a4.75 4.1 0 1 0 -9.5 0M930.9 1596.8a4.75 4.1 0 1 0 9.5 0a4.75 4.1 0 1 0 -9.5 0M910.8 1671.5a4.75 4.1 0 1 0 9.5 0a4.75 4.1 0 1 0 -9.5 0M915.6 1636.8a4.75 4.1 0 1 0 9.5 0a4.75 4.1 0 1 0 -9.5 0M934.0 1591.7a4.75 4.1 0 1 0 9.5 0a4.75 4.1 0 1 0 -9.5 0M914.7 1620.6a4.75 4.1 0 1 0 9.5 0a4.75 4.1 0 1 0 -9.5 0M934.1 1634.1a4.75 4.1 0 1 0 9.5 0a4.75 4.1 0 1 0 -9.5 0M907.3 1633.6a4.75 4.1 0 1 0 9.5 0a4.75 4.1 0 1 0 -9.5 0M952.9 1592.1a4.75 4.1 0 1 0 9.5 0a4.75 4.1 0 1 0 -9.5 0M938.3 1584.8a4.75 4.1 0 1 0 9.5 0a4.75 4.1 0 1 0 -9.5 0M928.9 1622.8a4.75 4.1 0 1 0 9.5 0a4.75 4.1 0 1 0 -9.5 0M947.7 1584.0a4.75 4.1 0 1 0 9.5 0a4.75 4.1 0 1 0 -9.5 0M951.7 1575.4a4.75 4.1 0 1 0 9.5 0a4.75 4.1 0 1 0 -9.5 0M936.8 1631.6a4.75 4.1 0 1 0 9.5 0a4.75 4.1 0 1 0 -9.5 0M897.2 1679.8a4.75 4.1 0 1 0 9.5 0a4.75 4.1 0 1 0 -9.5 0M940.3 1589.2a4.75 4.1 0 1 0 9.5 0a4.75 4.1 0 1 0 -9.5 0M938.8 1604.0a4.75 4.1 0 1 0 9.5 0a4.75 4.1 0 1 0 -9.5 0M926.0 1596.4a4.75 4.1 0 1 0 9.5 0a4.75 4.1 0 1 0 -9.5 0M930.5 1630.4a4.75 4.1 0 1 0 9.5 0a4.75 4.1 0 1 0 -9.5 0M941.3 1593.8a4.75 4.1 0 1 0 9.5 0a4.75 4.1 0 1 0 -9.5 0M965.9 1573.7a4.75 4.1 0 1 0 9.5 0a4.75 4.1 0 1 0 -9.5 0M913.8 1636.4a4.75 4.1 0 1 0 9.5 0a4.75 4.1 0 1 0 -9.5 0M900.8 1677.3a4.75 4.1 0 1 0 9.5 0a4.75 4.1 0 1 0 -9.5 0M918.1 1659.7a4.75 4.1 0 1 0 9.5 0a4.75 4.1 0 1 0 -9.5 0M964.7 1576.8a4.75 4.1 0 1 0 9.5 0a4.75 4.1 0 1 0 -9.5 0M948.7 1583.9a4.75 4.1 0 1 0 9.5 0a4.75 4.1 0 1 0 -9.5 0M937.4 1608.3a4.75 4.1 0 1 0 9.5 0a4.75 4.1 0 1 0 -9.5 0M926.8 1640.4a4.75 4.1 0 1 0 9.5 0a4.75 4.1 0 1 0 -9.5 0M934.0 1646.8a4.75 4.1 0 1 0 9.5 0a4.75 4.1 0 1 0 -9.5 0M899.2 1650.4a4.75 4.1 0 1 0 9.5 0a4.75 4.1 0 1 0 -9.5 0M939.4 1621.8a4.75 4.1 0 1 0 9.5 0a4.75 4.1 0 1 0 -9.5 0M934.9 1617.4a4.75 4.1 0 1 0 9.5 0a4.75 4.1 0 1 0 -9.5 0M915.7 1628.6a4.75 4.1 0 1 0 9.5 0a4.75 4.1 0 1 0 -9.5 0M918.5 1617.9a4.75 4.1 0 1 0 9.5 0a4.75 4.1 0 1 0 -9.5 0M925.2 1612.6a4.75 4.1 0 1 0 9.5 0a4.75 4.1 0 1 0 -9.5 0M894.3 1676.6a4.75 4.1 0 1 0 9.5 0a4.75 4.1 0 1 0 -9.5 0M963.1 1577.2a4.75 4.1 0 1 0 9.5 0a4.75 4.1 0 1 0 -9.5 0M964.2 1584.8a4.75 4.1 0 1 0 9.5 0a4.75 4.1 0 1 0 -9.5 0M932.2 1656.1a4.75 4.1 0 1 0 9.5 0a4.75 4.1 0 1 0 -9.5 0M906.6 1637.3a4.75 4.1 0 1 0 9.5 0a4.75 4.1 0 1 0 -9.5 0M808.1 1630.8a4.75 4.1 0 1 0 9.5 0a4.75 4.1 0 1 0 -9.5 0M806.5 1591.9a4.75 4.1 0 1 0 9.5 0a4.75 4.1 0 1 0 -9.5 0M811.4 1678.0a4.75 4.1 0 1 0 9.5 0a4.75 4.1 0 1 0 -9.5 0M834.3 1670.2a4.75 4.1 0 1 0 9.5 0a4.75 4.1 0 1 0 -9.5 0M812.8 1634.2a4.75 4.1 0 1 0 9.5 0a4.75 4.1 0 1 0 -9.5 0M836.2 1678.2a4.75 4.1 0 1 0 9.5 0a4.75 4.1 0 1 0 -9.5 0M843.1 1655.6a4.75 4.1 0 1 0 9.5 0a4.75 4.1 0 1 0 -9.5 0M845.8 1688.2a4.75 4.1 0 1 0 9.5 0a4.75 4.1 0 1 0 -9.5 0M820.2 1656.5a4.75 4.1 0 1 0 9.5 0a4.75 4.1 0 1 0 -9.5 0M805.6 1591.6a4.75 4.1 0 1 0 9.5 0a4.75 4.1 0 1 0 -9.5 0M819.5 1626.5a4.75 4.1 0 1 0 9.5 0a4.75 4.1 0 1 0 -9.5 0M814.9 1668.6a4.75 4.1 0 1 0 9.5 0a4.75 4.1 0 1 0 -9.5 0M829.6 1645.6a4.75 4.1 0 1 0 9.5 0a4.75 4.1 0 1 0 -9.5 0M798.8 1625.9a4.75 4.1 0 1 0 9.5 0a4.75 4.1 0 1 0 -9.5 0M819.1 1606.0a4.75 4.1 0 1 0 9.5 0a4.75 4.1 0 1 0 -9.5 0M847.7 1648.9a4.75 4.1 0 1 0 9.5 0a4.75 4.1 0 1 0 -9.5 0M830.4 1594.7a4.75 4.1 0 1 0 9.5 0a4.75 4.1 0 1 0 -9.5 0M817.9 1613.7a4.75 4.1 0 1 0 9.5 0a4.75 4.1 0 1 0 -9.5 0M827.9 1596.9a4.75 4.1 0 1 0 9.5 0a4.75 4.1 0 1 0 -9.5 0M804.8 1620.8a4.75 4.1 0 1 0 9.5 0a4.75 4.1 0 1 0 -9.5 0M839.7 1656.9a4.75 4.1 0 1 0 9.5 0a4.75 4.1 0 1 0 -9.5 0M820.2 1655.0a4.75 4.1 0 1 0 9.5 0a4.75 4.1 0 1 0 -9.5 0M813.3 1617.7a4.75 4.1 0 1 0 9.5 0a4.75 4.1 0 1 0 -9.5 0M800.3 1608.4a4.75 4.1 0 1 0 9.5 0a4.75 4.1 0 1 0 -9.5 0M844.8 1675.0a4.75 4.1 0 1 0 9.5 0a4.75 4.1 0 1 0 -9.5 0M832.6 1682.0a4.75 4.1 0 1 0 9.5 0a4.75 4.1 0 1 0 -9.5 0M820.3 1686.9a4.75 4.1 0 1 0 9.5 0a4.75 4.1 0 1 0 -9.5 0M829.2 1692.9a4.75 4.1 0 1 0 9.5 0a4.75 4.1 0 1 0 -9.5 0M848.9 1671.3a4.75 4.1 0 1 0 9.5 0a4.75 4.1 0 1 0 -9.5 0M835.8 1665.9a4.75 4.1 0 1 0 9.5 0a4.75 4.1 0 1 0 -9.5 0M827.8 1647.7a4.75 4.1 0 1 0 9.5 0a4.75 4.1 0 1 0 -9.5 0M835.5 1692.8a4.75 4.1 0 1 0 9.5 0a4.75 4.1 0 1 0 -9.5 0M810.5 1608.4a4.75 4.1 0 1 0 9.5 0a4.75 4.1 0 1 0 -9.5 0M846.9 1646.1a4.75 4.1 0 1 0 9.5 0a4.75 4.1 0 1 0 -9.5 0M828.9 1603.1a4.75 4.1 0 1 0 9.5 0a4.75 4.1 0 1 0 -9.5 0M826.3 1638.6a4.75 4.1 0 1 0 9.5 0a4.75 4.1 0 1 0 -9.5 0M809.4 1637.9a4.75 4.1 0 1 0 9.5 0a4.75 4.1 0 1 0 -9.5 0M820.1 1593.8a4.75 4.1 0 1 0 9.5 0a4.75 4.1 0 1 0 -9.5 0M821.8 1643.7a4.75 4.1 0 1 0 9.5 0a4.75 4.1 0 1 0 -9.5 0M802.4 1603.3a4.75 4.1 0 1 0 9.5 0a4.75 4.1 0 1 0 -9.5 0M847.0 1688.3a4.75 4.1 0 1 0 9.5 0a4.75 4.1 0 1 0 -9.5 0M834.0 1650.0a4.75 4.1 0 1 0 9.5 0a4.75 4.1 0 1 0 -9.5 0M803.5 1593.7a4.75 4.1 0 1 0 9.5 0a4.75 4.1 0 1 0 -9.5 0M806.2 1611.2a4.75 4.1 0 1 0 9.5 0a4.75 4.1 0 1 0 -9.5 0M802.0 1629.2a4.75 4.1 0 1 0 9.5 0a4.75 4.1 0 1 0 -9.5 0M848.5 1653.3a4.75 4.1 0 1 0 9.5 0a4.75 4.1 0 1 0 -9.5 0M827.6 1593.9a4.75 4.1 0 1 0 9.5 0a4.75 4.1 0 1 0 -9.5 0M811.3 1610.8a4.75 4.1 0 1 0 9.5 0a4.75 4.1 0 1 0 -9.5 0M806.8 1666.6a4.75 4.1 0 1 0 9.5 0a4.75 4.1 0 1 0 -9.5 0M817.2 1671.4a4.75 4.1 0 1 0 9.5 0a4.75 4.1 0 1 0 -9.5 0M816.1 1658.9a4.75 4.1 0 1 0 9.5 0a4.75 4.1 0 1 0 -9.5 0M802.2 1601.9a4.75 4.1 0 1 0 9.5 0a4.75 4.1 0 1 0 -9.5 0M805.7 1643.8a4.75 4.1 0 1 0 9.5 0a4.75 4.1 0 1 0 -9.5 0M821.9 1663.3a4.75 4.1 0 1 0 9.5 0a4.75 4.1 0 1 0 -9.5 0M808.0 1617.7a4.75 4.1 0 1 0 9.5 0a4.75 4.1 0 1 0 -9.5 0M818.2 1639.2a4.75 4.1 0 1 0 9.5 0a4.75 4.1 0 1 0 -9.5 0M803.0 1655.0a4.75 4.1 0 1 0 9.5 0a4.75 4.1 0 1 0 -9.5 0M837.4 1677.2a4.75 4.1 0 1 0 9.5 0a4.75 4.1 0 1 0 -9.5 0M836.8 1663.9a4.75 4.1 0 1 0 9.5 0a4.75 4.1 0 1 0 -9.5 0M849.5 1656.9a4.75 4.1 0 1 0 9.5 0a4.75 4.1 0 1 0 -9.5 0M846.0 1691.0a4.75 4.1 0 1 0 9.5 0a4.75 4.1 0 1 0 -9.5 0M848.6 1692.0a4.75 4.1 0 1 0 9.5 0a4.75 4.1 0 1 0 -9.5 0M839.6 1650.5a4.75 4.1 0 1 0 9.5 0a4.75 4.1 0 1 0 -9.5 0M825.2 1659.2a4.75 4.1 0 1 0 9.5 0a4.75 4.1 0 1 0 -9.5 0M801.3 1622.9a4.75 4.1 0 1 0 9.5 0a4.75 4.1 0 1 0 -9.5 0M808.1 1593.3a4.75 4.1 0 1 0 9.5 0a4.75 4.1 0 1 0 -9.5 0M837.6 1590.3a4.75 4.1 0 1 0 9.5 0a4.75 4.1 0 1 0 -9.5 0M803.2 1612.2a4.75 4.1 0 1 0 9.5 0a4.75 4.1 0 1 0 -9.5 0M811.6 1646.1a4.75 4.1 0 1 0 9.5 0a4.75 4.1 0 1 0 -9.5 0M828.2 1593.1a4.75 4.1 0 1 0 9.5 0a4.75 4.1 0 1 0 -9.5 0M820.2 1621.6a4.75 4.1 0 1 0 9.5 0a4.75 4.1 0 1 0 -9.5 0M843.3 1620.7a4.75 4.1 0 1 0 9.5 0a4.75 4.1 0 1 0 -9.5 0M831.4 1668.1a4.75 4.1 0 1 0 9.5 0a4.75 4.1 0 1 0 -9.5 0M824.6 1663.2a4.75 4.1 0 1 0 9.5 0a4.75 4.1 0 1 0 -9.5 0M850.5 1667.9a4.75 4.1 0 1 0 9.5 0a4.75 4.1 0 1 0 -9.5 0M1011.1 1529.5a4.75 4.1 0 1 0 9.5 0a4.75 4.1 0 1 0 -9.5 0M1021.1 1548.7a4.75 4.1 0 1 0 9.5 0a4.75 4.1 0 1 0 -9.5 0M1018.8 1544.8a4.75 4.1 0 1 0 9.5 0a4.75 4.1 0 1 0 -9.5 0M1007.4 1526.1a4.75 4.1 0 1 0 9.5 0a4.75 4.1 0 1 0 -9.5 0M990.5 1536.1a4.75 4.1 0 1 0 9.5 0a4.75 4.1 0 1 0 -9.5 0M999.2 1535.9a4.75 4.1 0 1 0 9.5 0a4.75 4.1 0 1 0 -9.5 0M1005.4 1557.3a4.75 4.1 0 1 0 9.5 0a4.75 4.1 0 1 0 -9.5 0M987.1 1527.6a4.75 4.1 0 1 0 9.5 0a4.75 4.1 0 1 0 -9.5 0M979.9 1548.1a4.75 4.1 0 1 0 9.5 0a4.75 4.1 0 1 0 -9.5 0M993.1 1534.7a4.75 4.1 0 1 0 9.5 0a4.75 4.1 0 1 0 -9.5 0M1016.3 1531.6a4.75 4.1 0 1 0 9.5 0a4.75 4.1 0 1 0 -9.5 0M984.9 1552.4a4.75 4.1 0 1 0 9.5 0a4.75 4.1 0 1 0 -9.5 0M986.4 1536.6a4.75 4.1 0 1 0 9.5 0a4.75 4.1 0 1 0 -9.5 0M1015.8 1559.1a4.75 4.1 0 1 0 9.5 0a4.75 4.1 0 1 0 -9.5 0M994.9 1670.0a4.75 4.1 0 1 0 9.5 0a4.75 4.1 0 1 0 -9.5 0M992.0 1665.1a4.75 4.1 0 1 0 9.5 0a4.75 4.1 0 1 0 -9.5 0M999.6 1560.4a4.75 4.1 0 1 0 9.5 0a4.75 4.1 0 1 0 -9.5 0M989.4 1671.0a4.75 4.1 0 1 0 9.5 0a4.75 4.1 0 1 0 -9.5 0M996.8 1582.8a4.75 4.1 0 1 0 9.5 0a4.75 4.1 0 1 0 -9.5 0M970.5 1624.8a4.75 4.1 0 1 0 9.5 0a4.75 4.1 0 1 0 -9.5 0M983.1 1585.3a4.75 4.1 0 1 0 9.5 0a4.75 4.1 0 1 0 -9.5 0M977.1 1602.7a4.75 4.1 0 1 0 9.5 0a4.75 4.1 0 1 0 -9.5 0M996.8 1596.3a4.75 4.1 0 1 0 9.5 0a4.75 4.1 0 1 0 -9.5 0M971.8 1652.9a4.75 4.1 0 1 0 9.5 0a4.75 4.1 0 1 0 -9.5 0M985.8 1622.8a4.75 4.1 0 1 0 9.5 0a4.75 4.1 0 1 0 -9.5 0M993.8 1607.6a4.75 4.1 0 1 0 9.5 0a4.75 4.1 0 1 0 -9.5 0M972.4 1598.3a4.75 4.1 0 1 0 9.5 0a4.75 4.1 0 1 0 -9.5 0M973.5 1612.2a4.75 4.1 0 1 0 9.5 0a4.75 4.1 0 1 0 -9.5 0M994.1 1652.3a4.75 4.1 0 1 0 9.5 0a4.75 4.1 0 1 0 -9.5 0M988.8 1575.7a4.75 4.1 0 1 0 9.5 0a4.75 4.1 0 1 0 -9.5 0M978.8 1671.0a4.75 4.1 0 1 0 9.5 0a4.75 4.1 0 1 0 -9.5 0M981.7 1663.1a4.75 4.1 0 1 0 9.5 0a4.75 4.1 0 1 0 -9.5 0M968.6 1566.7a4.75 4.1 0 1 0 9.5 0a4.75 4.1 0 1 0 -9.5 0M997.5 1658.9a4.75 4.1 0 1 0 9.5 0a4.75 4.1 0 1 0 -9.5 0M978.2 1637.6a4.75 4.1 0 1 0 9.5 0a4.75 4.1 0 1 0 -9.5 0M999.8 1594.1a4.75 4.1 0 1 0 9.5 0a4.75 4.1 0 1 0 -9.5 0M969.6 1627.6a4.75 4.1 0 1 0 9.5 0a4.75 4.1 0 1 0 -9.5 0M994.7 1619.5a4.75 4.1 0 1 0 9.5 0a4.75 4.1 0 1 0 -9.5 0M984.1 1655.4a4.75 4.1 0 1 0 9.5 0a4.75 4.1 0 1 0 -9.5 0M995.5 1616.8a4.75 4.1 0 1 0 9.5 0a4.75 4.1 0 1 0 -9.5 0M993.7 1564.3a4.75 4.1 0 1 0 9.5 0a4.75 4.1 0 1 0 -9.5 0M993.1 1623.3a4.75 4.1 0 1 0 9.5 0a4.75 4.1 0 1 0 -9.5 0M976.8 1607.0a4.75 4.1 0 1 0 9.5 0a4.75 4.1 0 1 0 -9.5 0M993.9 1605.0a4.75 4.1 0 1 0 9.5 0a4.75 4.1 0 1 0 -9.5 0M979.1 1666.3a4.75 4.1 0 1 0 9.5 0a4.75 4.1 0 1 0 -9.5 0M976.2 1675.8a4.75 4.1 0 1 0 9.5 0a4.75 4.1 0 1 0 -9.5 0M997.2 1646.6a4.75 4.1 0 1 0 9.5 0a4.75 4.1 0 1 0 -9.5 0M976.0 1664.9a4.75 4.1 0 1 0 9.5 0a4.75 4.1 0 1 0 -9.5 0M976.5 1640.3a4.75 4.1 0 1 0 9.5 0a4.75 4.1 0 1 0 -9.5 0M1001.5 1573.7a4.75 4.1 0 1 0 9.5 0a4.75 4.1 0 1 0 -9.5 0M983.3 1567.7a4.75 4.1 0 1 0 9.5 0a4.75 4.1 0 1 0 -9.5 0M970.1 1602.0a4.75 4.1 0 1 0 9.5 0a4.75 4.1 0 1 0 -9.5 0M984.0 1662.2a4.75 4.1 0 1 0 9.5 0a4.75 4.1 0 1 0 -9.5 0M969.5 1589.0a4.75 4.1 0 1 0 9.5 0a4.75 4.1 0 1 0 -9.5 0M968.1 1621.0a4.75 4.1 0 1 0 9.5 0a4.75 4.1 0 1 0 -9.5 0M989.7 1626.4a4.75 4.1 0 1 0 9.5 0a4.75 4.1 0 1 0 -9.5 0M999.8 1656.3a4.75 4.1 0 1 0 9.5 0a4.75 4.1 0 1 0 -9.5 0M969.3 1589.9a4.75 4.1 0 1 0 9.5 0a4.75 4.1 0 1 0 -9.5 0M997.0 1626.9a4.75 4.1 0 1 0 9.5 0a4.75 4.1 0 1 0 -9.5 0M983.5 1563.1a4.75 4.1 0 1 0 9.5 0a4.75 4.1 0 1 0 -9.5 0M995.5 1671.2a4.75 4.1 0 1 0 9.5 0a4.75 4.1 0 1 0 -9.5 0M978.2 1570.4a4.75 4.1 0 1 0 9.5 0a4.75 4.1 0 1 0 -9.5 0M988.7 1630.6a4.75 4.1 0 1 0 9.5 0a4.75 4.1 0 1 0 -9.5 0M977.3 1669.0a4.75 4.1 0 1 0 9.5 0a4.75 4.1 0 1 0 -9.5 0M970.7 1670.0a4.75 4.1 0 1 0 9.5 0a4.75 4.1 0 1 0 -9.5 0M985.2 1635.9a4.75 4.1 0 1 0 9.5 0a4.75 4.1 0 1 0 -9.5 0M984.9 1639.4a4.75 4.1 0 1 0 9.5 0a4.75 4.1 0 1 0 -9.5 0M977.8 1678.2a4.75 4.1 0 1 0 9.5 0a4.75 4.1 0 1 0 -9.5 0M998.3 1562.1a4.75 4.1 0 1 0 9.5 0a4.75 4.1 0 1 0 -9.5 0M983.9 1587.7a4.75 4.1 0 1 0 9.5 0a4.75 4.1 0 1 0 -9.5 0M987.4 1563.1a4.75 4.1 0 1 0 9.5 0a4.75 4.1 0 1 0 -9.5 0M988.5 1594.8a4.75 4.1 0 1 0 9.5 0a4.75 4.1 0 1 0 -9.5 0M983.7 1628.3a4.75 4.1 0 1 0 9.5 0a4.75 4.1 0 1 0 -9.5 0M983.4 1575.3a4.75 4.1 0 1 0 9.5 0a4.75 4.1 0 1 0 -9.5 0M970.1 1668.4a4.75 4.1 0 1 0 9.5 0a4.75 4.1 0 1 0 -9.5 0M974.6 1573.6a4.75 4.1 0 1 0 9.5 0a4.75 4.1 0 1 0 -9.5 0M969.5 1562.2a4.75 4.1 0 1 0 9.5 0a4.75 4.1 0 1 0 -9.5 0M981.5 1603.4a4.75 4.1 0 1 0 9.5 0a4.75 4.1 0 1 0 -9.5 0M990.1 1632.2a4.75 4.1 0 1 0 9.5 0a4.75 4.1 0 1 0 -9.5 0M999.0 1574.6a4.75 4.1 0 1 0 9.5 0a4.75 4.1 0 1 0 -9.5 0M977.9 1566.1a4.75 4.1 0 1 0 9.5 0a4.75 4.1 0 1 0 -9.5 0M973.9 1577.2a4.75 4.1 0 1 0 9.5 0a4.75 4.1 0 1 0 -9.5 0M971.8 1674.5a4.75 4.1 0 1 0 9.5 0a4.75 4.1 0 1 0 -9.5 0M987.4 1635.2a4.75 4.1 0 1 0 9.5 0a4.75 4.1 0 1 0 -9.5 0M985.0 1631.8a4.75 4.1 0 1 0 9.5 0a4.75 4.1 0 1 0 -9.5 0M990.8 1638.5a4.75 4.1 0 1 0 9.5 0a4.75 4.1 0 1 0 -9.5 0" fill="none" stroke="#000" stroke-width="1.8"/>
<path d="M1380.9 1148.7a4.75 4.1 0 1 0 9.5 0a4.75 4.1 0 1 0 -9.5 0M1299.8 1196.5a4.75 4.1 0 1 0 9.5 0a4.75 4.1 0 1 0 -9.5 0M1297.7 1214.9a4.75 4.1 0 1 0 9.5 0a4.75 4.1 0 1 0 -9.5 0M1394.8 1219.6a4.75 4.1 0 1 0 9.5 0a4.75 4.1 0 1 0 -9.5 0M1390.8 1228.9a4.75 4.1 0 1 0 9.5 0a4.75 4.1 0 1 0 -9.5 0M1165.6 1238.2a4.75 4.1 0 1 0 9.5 0a4.75 4.1 0 1 0 -9.5 0M1282.0 1299.4a4.75 4.1 0 1 0 9.5 0a4.75 4.1 0 1 0 -9.5 0M1131.0 1322.5a4.75 4.1 0 1 0 9.5 0a4.75 4.1 0 1 0 -9.5 0M1142.5 1328.6a4.75 4.1 0 1 0 9.5 0a4.75 4.1 0 1 0 -9.5 0M1303.8 1334.8a4.75 4.1 0 1 0 9.5 0a4.75 4.1 0 1 0 -9.5 0M1308.3 1335.8a4.75 4.1 0 1 0 9.5 0a4.75 4.1 0 1 0 -9.5 0M1056.6 1392.4a4.75 4.1 0 1 0 9.5 0a4.75 4.1 0 1 0 -9.5 0M1082.6 1415.0a4.75 4.1 0 1 0 9.5 0a4.75 4.1 0 1 0 -9.5 0M1083.2 1419.8a4.75 4.1 0 1 0 9.5 0a4.75 4.1 0 1 0 -9.5 0M750.3 1073.7a4.75 4.1 0 1 0 9.5 0a4.75 4.1 0 1 0 -9.5 0M687.6 1158.7a4.75 4.1 0 1 0 9.5 0a4.75 4.1 0 1 0 -9.5 0M742.5 1215.4a4.75 4.1 0 1 0 9.5 0a4.75 4.1 0 1 0 -9.5 0M756.5 1231.2a4.75 4.1 0 1 0 9.5 0a4.75 4.1 0 1 0 -9.5 0M709.3 1284.4a4.75 4.1 0 1 0 9.5 0a4.75 4.1 0 1 0 -9.5 0M732.9 1290.7a4.75 4.1 0 1 0 9.5 0a4.75 4.1 0 1 0 -9.5 0M747.4 1332.4a4.75 4.1 0 1 0 9.5 0a4.75 4.1 0 1 0 -9.5 0M751.6 1375.9a4.75 4.1 0 1 0 9.5 0a4.75 4.1 0 1 0 -9.5 0M629.9 1386.4a4.75 4.1 0 1 0 9.5 0a4.75 4.1 0 1 0 -9.5 0M738.7 1417.6a4.75 4.1 0 1 0 9.5 0a4.75 4.1 0 1 0 -9.5 0M745.6 1424.9a4.75 4.1 0 1 0 9.5 0a4.75 4.1 0 1 0 -9.5 0M756.5 1426.7a4.75 4.1 0 1 0 9.5 0a4.75 4.1 0 1 0 -9.5 0M752.8 1433.9a4.75 4.1 0 1 0 9.5 0a4.75 4.1 0 1 0 -9.5 0M752.8 1454.9a4.75 4.1 0 1 0 9.5 0a4.75 4.1 0 1 0 -9.5 0M731.6 1462.7a4.75 4.1 0 1 0 9.5 0a4.75 4.1 0 1 0 -9.5 0M711.1 1469.0a4.75 4.1 0 1 0 9.5 0a4.75 4.1 0 1 0 -9.5 0M719.7 1474.3a4.75 4.1 0 1 0 9.5 0a4.75 4.1 0 1 0 -9.5 0M678.5 1481.7a4.75 4.1 0 1 0 9.5 0a4.75 4.1 0 1 0 -9.5 0M640.1 1486.3a4.75 4.1 0 1 0 9.5 0a4.75 4.1 0 1 0 -9.5 0M748.3 1503.3a4.75 4.1 0 1 0 9.5 0a4.75 4.1 0 1 0 -9.5 0M701.7 1511.5a4.75 4.1 0 1 0 9.5 0a4.75 4.1 0 1 0 -9.5 0M987.2 1039.6a4.75 4.1 0 1 0 9.5 0a4.75 4.1 0 1 0 -9.5 0M1004.4 1080.2a4.75 4.1 0 1 0 9.5 0a4.75 4.1 0 1 0 -9.5 0M1003.5 1226.6a4.75 4.1 0 1 0 9.5 0a4.75 4.1 0 1 0 -9.5 0M1022.4 1237.0a4.75 4.1 0 1 0 9.5 0a4.75 4.1 0 1 0 -9.5 0M999.7 1253.6a4.75 4.1 0 1 0 9.5 0a4.75 4.1 0 1 0 -9.5 0M980.7 1292.6a4.75 4.1 0 1 0 9.5 0a4.75 4.1 0 1 0 -9.5 0M988.5 1292.9a4.75 4.1 0 1 0 9.5 0a4.75 4.1 0 1 0 -9.5 0M992.5 1298.4a4.75 4.1 0 1 0 9.5 0a4.75 4.1 0 1 0 -9.5 0M1033.4 1296.2a4.75 4.1 0 1 0 9.5 0a4.75 4.1 0 1 0 -9.5 0M1045.9 1293.1a4.75 4.1 0 1 0 9.5 0a4.75 4.1 0 1 0 -9.5 0M1005.3 1312.5a4.75 4.1 0 1 0 9.5 0a4.75 4.1 0 1 0 -9.5 0M1022.9 1309.8a4.75 4.1 0 1 0 9.5 0a4.75 4.1 0 1 0 -9.5 0M1004.8 1330.6a4.75 4.1 0 1 0 9.5 0a4.75 4.1 0 1 0 -9.5 0M1011.1 1330.1a4.75 4.1 0 1 0 9.5 0a4.75 4.1 0 1 0 -9.5 0M1003.3 1343.3a4.75 4.1 0 1 0 9.5 0a4.75 4.1 0 1 0 -9.5 0M993.0 1363.8a4.75 4.1 0 1 0 9.5 0a4.75 4.1 0 1 0 -9.5 0M1015.1 1366.9a4.75 4.1 0 1 0 9.5 0a4.75 4.1 0 1 0 -9.5 0M1043.4 1379.6a4.75 4.1 0 1 0 9.5 0a4.75 4.1 0 1 0 -9.5 0M1003.9 1393.2a4.75 4.1 0 1 0 9.5 0a4.75 4.1 0 1 0 -9.5 0M1009.0 1393.2a4.75 4.1 0 1 0 9.5 0a4.75 4.1 0 1 0 -9.5 0M988.1 1405.3a4.75 4.1 0 1 0 9.5 0a4.75 4.1 0 1 0 -9.5 0M1033.8 1405.9a4.75 4.1 0 1 0 9.5 0a4.75 4.1 0 1 0 -9.5 0M1026.5 1411.7a4.75 4.1 0 1 0 9.5 0a4.75 4.1 0 1 0 -9.5 0M1033.8 1412.2a4.75 4.1 0 1 0 9.5 0a4.75 4.1 0 1 0 -9.5 0M976.7 1412.2a4.75 4.1 0 1 0 9.5 0a4.75 4.1 0 1 0 -9.5 0M980.3 1413.1a4.75 4.1 0 1 0 9.5 0a4.75 4.1 0 1 0 -9.5 0M999.4 1414.9a4.75 4.1 0 1 0 9.5 0a4.75 4.1 0 1 0 -9.5 0M1036.5 1418.5a4.75 4.1 0 1 0 9.5 0a4.75 4.1 0 1 0 -9.5 0M973.1 1421.3a4.75 4.1 0 1 0 9.5 0a4.75 4.1 0 1 0 -9.5 0M1014.8 1421.6a4.75 4.1 0 1 0 9.5 0a4.75 4.1 0 1 0 -9.5 0M1038.3 1423.1a4.75 4.1 0 1 0 9.5 0a4.75 4.1 0 1 0 -9.5 0M989.4 1431.2a4.75 4.1 0 1 0 9.5 0a4.75 4.1 0 1 0 -9.5 0M1005.7 1431.8a4.75 4.1 0 1 0 9.5 0a4.75 4.1 0 1 0 -9.5 0M1012.0 1432.5a4.75 4.1 0 1 0 9.5 0a4.75 4.1 0 1 0 -9.5 0M1045.6 1432.7a4.75 4.1 0 1 0 9.5 0a4.75 4.1 0 1 0 -9.5 0M1052.8 1435.8a4.75 4.1 0 1 0 9.5 0a4.75 4.1 0 1 0 -9.5 0M981.6 1436.3a4.75 4.1 0 1 0 9.5 0a4.75 4.1 0 1 0 -9.5 0M1017.5 1440.3a4.75 4.1 0 1 0 9.5 0a4.75 4.1 0 1 0 -9.5 0M988.5 1445.7a4.75 4.1 0 1 0 9.5 0a4.75 4.1 0 1 0 -9.5 0M1074.9 1448.5a4.75 4.1 0 1 0 9.5 0a4.75 4.1 0 1 0 -9.5 0M1001.2 1448.5a4.75 4.1 0 1 0 9.5 0a4.75 4.1 0 1 0 -9.5 0M976.7 1448.5a4.75 4.1 0 1 0 9.5 0a4.75 4.1 0 1 0 -9.5 0M1035.6 1448.5a4.75 4.1 0 1 0 9.5 0a4.75 4.1 0 1 0 -9.5 0M1030.2 1451.2a4.75 4.1 0 1 0 9.5 0a4.75 4.1 0 1 0 -9.5 0M996.6 1453.0a4.75 4.1 0 1 0 9.5 0a4.75 4.1 0 1 0 -9.5 0M980.3 1453.9a4.75 4.1 0 1 0 9.5 0a4.75 4.1 0 1 0 -9.5 0M1006.6 1456.6a4.75 4.1 0 1 0 9.5 0a4.75 4.1 0 1 0 -9.5 0M983.0 1457.5a4.75 4.1 0 1 0 9.5 0a4.75 4.1 0 1 0 -9.5 0M996.6 1461.1a4.75 4.1 0 1 0 9.5 0a4.75 4.1 0 1 0 -9.5 0M1007.5 1463.0a4.75 4.1 0 1 0 9.5 0a4.75 4.1 0 1 0 -9.5 0M1033.8 1463.9a4.75 4.1 0 1 0 9.5 0a4.75 4.1 0 1 0 -9.5 0M974.9 1464.8a4.75 4.1 0 1 0 9.5 0a4.75 4.1 0 1 0 -9.5 0M983.3 1467.3a4.75 4.1 0 1 0 9.5 0a4.75 4.1 0 1 0 -9.5 0M995.1 1470.0a4.75 4.1 0 1 0 9.5 0a4.75 4.1 0 1 0 -9.5 0M1020.4 1469.1a4.75 4.1 0 1 0 9.5 0a4.75 4.1 0 1 0 -9.5 0M980.6 1475.4a4.75 4.1 0 1 0 9.5 0a4.75 4.1 0 1 0 -9.5 0M1015.9 1479.0a4.75 4.1 0 1 0 9.5 0a4.75 4.1 0 1 0 -9.5 0M1022.3 1479.9a4.75 4.1 0 1 0 9.5 0a4.75 4.1 0 1 0 -9.5 0M1041.3 1479.0a4.75 4.1 0 1 0 9.5 0a4.75 4.1 0 1 0 -9.5 0M991.4 1482.7a4.75 4.1 0 1 0 9.5 0a4.75 4.1 0 1 0 -9.5 0M1002.3 1488.1a4.75 4.1 0 1 0 9.5 0a4.75 4.1 0 1 0 -9.5 0M1027.7 1486.3a4.75 4.1 0 1 0 9.5 0a4.75 4.1 0 1 0 -9.5 0M1038.6 1489.9a4.75 4.1 0 1 0 9.5 0a4.75 4.1 0 1 0 -9.5 0M987.8 1492.6a4.75 4.1 0 1 0 9.5 0a4.75 4.1 0 1 0 -9.5 0M1015.0 1490.8a4.75 4.1 0 1 0 9.5 0a4.75 4.1 0 1 0 -9.5 0M1019.5 1494.4a4.75 4.1 0 1 0 9.5 0a4.75 4.1 0 1 0 -9.5 0M1029.5 1494.4a4.75 4.1 0 1 0 9.5 0a4.75 4.1 0 1 0 -9.5 0M1060.3 1494.8a4.75 4.1 0 1 0 9.5 0a4.75 4.1 0 1 0 -9.5 0M975.1 1495.3a4.75 4.1 0 1 0 9.5 0a4.75 4.1 0 1 0 -9.5 0M980.6 1499.0a4.75 4.1 0 1 0 9.5 0a4.75 4.1 0 1 0 -9.5 0M1002.3 1499.9a4.75 4.1 0 1 0 9.5 0a4.75 4.1 0 1 0 -9.5 0M986.9 1503.5a4.75 4.1 0 1 0 9.5 0a4.75 4.1 0 1 0 -9.5 0M1015.0 1505.3a4.75 4.1 0 1 0 9.5 0a4.75 4.1 0 1 0 -9.5 0M1024.1 1505.3a4.75 4.1 0 1 0 9.5 0a4.75 4.1 0 1 0 -9.5 0M1040.4 1505.0a4.75 4.1 0 1 0 9.5 0a4.75 4.1 0 1 0 -9.5 0M1066.7 1504.8a4.75 4.1 0 1 0 9.5 0a4.75 4.1 0 1 0 -9.5 0M997.8 1508.9a4.75 4.1 0 1 0 9.5 0a4.75 4.1 0 1 0 -9.5 0M983.3 1512.6a4.75 4.1 0 1 0 9.5 0a4.75 4.1 0 1 0 -9.5 0M989.6 1512.6a4.75 4.1 0 1 0 9.5 0a4.75 4.1 0 1 0 -9.5 0M1002.3 1511.7a4.75 4.1 0 1 0 9.5 0a4.75 4.1 0 1 0 -9.5 0M1015.0 1515.3a4.75 4.1 0 1 0 9.5 0a4.75 4.1 0 1 0 -9.5 0M1023.2 1518.9a4.75 4.1 0 1 0 9.5 0a4.75 4.1 0 1 0 -9.5 0M976.9 1503.5a4.75 4.1 0 1 0 9.5 0a4.75 4.1 0 1 0 -9.5 0M991.4 1487.2a4.75 4.1 0 1 0 9.5 0a4.75 4.1 0 1 0 -9.5 0M1028.9 1512.5a4.75 4.1 0 1 0 9.5 0a4.75 4.1 0 1 0 -9.5 0M1001.4 1494.5a4.75 4.1 0 1 0 9.5 0a4.75 4.1 0 1 0 -9.5 0M1008.8 1509.6a4.75 4.1 0 1 0 9.5 0a4.75 4.1 0 1 0 -9.5 0M1030.0 1478.5a4.75 4.1 0 1 0 9.5 0a4.75 4.1 0 1 0 -9.5 0M972.4 1479.2a4.75 4.1 0 1 0 9.5 0a4.75 4.1 0 1 0 -9.5 0M993.6 1463.5a4.75 4.1 0 1 0 9.5 0a4.75 4.1 0 1 0 -9.5 0M983.7 1503.2a4.75 4.1 0 1 0 9.5 0a4.75 4.1 0 1 0 -9.5 0M982.1 1452.6a4.75 4.1 0 1 0 9.5 0a4.75 4.1 0 1 0 -9.5 0M998.8 1461.1a4.75 4.1 0 1 0 9.5 0a4.75 4.1 0 1 0 -9.5 0M1011.3 1467.0a4.75 4.1 0 1 0 9.5 0a4.75 4.1 0 1 0 -9.5 0M1019.4 1474.4a4.75 4.1 0 1 0 9.5 0a4.75 4.1 0 1 0 -9.5 0M979.0 1487.3a4.75 4.1 0 1 0 9.5 0a4.75 4.1 0 1 0 -9.5 0M996.8 1483.0a4.75 4.1 0 1 0 9.5 0a4.75 4.1 0 1 0 -9.5 0M991.1 1441.3a4.75 4.1 0 1 0 9.5 0a4.75 4.1 0 1 0 -9.5 0M1028.7 1447.6a4.75 4.1 0 1 0 9.5 0a4.75 4.1 0 1 0 -9.5 0M972.7 1475.2a4.75 4.1 0 1 0 9.5 0a4.75 4.1 0 1 0 -9.5 0M981.0 1510.4a4.75 4.1 0 1 0 9.5 0a4.75 4.1 0 1 0 -9.5 0M991.0 1482.7a4.75 4.1 0 1 0 9.5 0a4.75 4.1 0 1 0 -9.5 0M998.5 1509.7a4.75 4.1 0 1 0 9.5 0a4.75 4.1 0 1 0 -9.5 0M1028.4 1451.9a4.75 4.1 0 1 0 9.5 0a4.75 4.1 0 1 0 -9.5 0M1026.0 1494.6a4.75 4.1 0 1 0 9.5 0a4.75 4.1 0 1 0 -9.5 0M994.0 1473.4a4.75 4.1 0 1 0 9.5 0a4.75 4.1 0 1 0 -9.5 0M994.8 1485.9a4.75 4.1 0 1 0 9.5 0a4.75 4.1 0 1 0 -9.5 0M1005.5 1517.9a4.75 4.1 0 1 0 9.5 0a4.75 4.1 0 1 0 -9.5 0M1020.4 1479.7a4.75 4.1 0 1 0 9.5 0a4.75 4.1 0 1 0 -9.5 0M990.9 1456.1a4.75 4.1 0 1 0 9.5 0a4.75 4.1 0 1 0 -9.5 0M1006.3 1444.9a4.75 4.1 0 1 0 9.5 0a4.75 4.1 0 1 0 -9.5 0M982.7 1460.6a4.75 4.1 0 1 0 9.5 0a4.75 4.1 0 1 0 -9.5 0M1029.8 1465.0a4.75 4.1 0 1 0 9.5 0a4.75 4.1 0 1 0 -9.5 0M975.6 1484.8a4.75 4.1 0 1 0 9.5 0a4.75 4.1 0 1 0 -9.5 0M982.4 1464.3a4.75 4.1 0 1 0 9.5 0a4.75 4.1 0 1 0 -9.5 0M985.1 1454.4a4.75 4.1 0 1 0 9.5 0a4.75 4.1 0 1 0 -9.5 0M1014.0 1465.2a4.75 4.1 0 1 0 9.5 0a4.75 4.1 0 1 0 -9.5 0M1012.3 1453.6a4.75 4.1 0 1 0 9.5 0a4.75 4.1 0 1 0 -9.5 0" fill="none" stroke="#e7298a" stroke-width="1.8"/>
<text transform="translate(1325.9,1138.8) scale(1.186,1)" font-family='"Liberation Sans", sans-serif' font-size="12.2" font-weight="normal" text-anchor="start" fill="#000">108POS_PC(19:1)</text>
<text transform="translate(1222.2,1184.0) scale(1.186,1)" font-family='"Liberation Sans", sans-serif' font-size="12.2" font-weight="normal" text-anchor="start" fill="#000">515POS_SM(d40:5+pO)</text>
<text transform="translate(1354.6,1208.0) scale(1.186,1)" font-family='"Liberation Sans", sans-serif' font-size="12.2" font-weight="normal" text-anchor="start" fill="#000">14POS_Cer(d25:1)</text>
<text transform="translate(1207.0,1231.1) scale(1.186,1)" font-family='"Liberation Sans", sans-serif' font-size="12.2" font-weight="normal" text-anchor="start" fill="#000">105POS_PC(19:2)</text>
<text transform="translate(1347.9,1245.2) scale(1.186,1)" font-family='"Liberation Sans", sans-serif' font-size="12.2" font-weight="normal" text-anchor="start" fill="#000">18POS_Cer(d27:1)</text>
<text transform="translate(1065.8,1254.5) scale(1.186,1)" font-family='"Liberation Sans", sans-serif' font-size="12.2" font-weight="normal" text-anchor="start" fill="#000">114POS_PE(21:3)</text>
<text transform="translate(1226.7,1290.4) scale(1.186,1)" font-family='"Liberation Sans", sans-serif' font-size="12.2" font-weight="normal" text-anchor="start" fill="#000">126POS_PC(21:4)</text>
<text transform="translate(1080.0,1320.2) scale(1.186,1)" font-family='"Liberation Sans", sans-serif' font-size="12.2" font-weight="normal" text-anchor="start" fill="#000">131POS_DG(32:1p)</text>
<text transform="translate(1234.9,1322.0) scale(1.186,1)" font-family='"Liberation Sans", sans-serif' font-size="12.2" font-weight="normal" text-anchor="start" fill="#000">1093NEG_PS(27:0)</text>
<text transform="translate(1286.5,1352.1) scale(1.186,1)" font-family='"Liberation Sans", sans-serif' font-size="12.2" font-weight="normal" text-anchor="start" fill="#000">132POS_PC(21:3)</text>
<text transform="translate(579.9,1148.7) scale(1.186,1)" font-family='"Liberation Sans", sans-serif' font-size="12.2" font-weight="normal" text-anchor="start" fill="#000">1415NEG_CL(23:1/20:4/20:4/20:4)</text>
<text transform="translate(622.5,1271.2) scale(1.186,1)" font-family='"Liberation Sans", sans-serif' font-size="12.2" font-weight="normal" text-anchor="start" fill="#000">1326NEG_PC(18:0p/22:6)</text>
<text transform="translate(689.1,1307.1) scale(1.186,1)" font-family='"Liberation Sans", sans-serif' font-size="12.2" font-weight="normal" text-anchor="start" fill="#000">1189NEG_PE(18:0p/22:6)</text>
<text transform="translate(570.5,1377.6) scale(1.186,1)" font-family='"Liberation Sans", sans-serif' font-size="12.2" font-weight="normal" text-anchor="start" fill="#000">1218NEG_PE(40:3)</text>
<text transform="translate(697.8,1445.2) scale(1.186,1)" font-family='"Liberation Sans", sans-serif' font-size="12.2" font-weight="normal" text-anchor="start" fill="#000">508POS_PE(38:2)</text>
<text transform="translate(506.0,1491.9) scale(1.186,1)" font-family='"Liberation Sans", sans-serif' font-size="12.2" font-weight="normal" text-anchor="start" fill="#000">690POS_PC(40:6e)</text>
<text transform="translate(732.5,1490.5) scale(1.186,1)" font-family='"Liberation Sans", sans-serif' font-size="12.2" font-weight="normal" text-anchor="start" fill="#000">1161NEG_PE(18:0e/20:4)</text>
<text transform="translate(365.0,1517.5) scale(1.186,1)" font-family='"Liberation Sans", sans-serif' font-size="12.2" font-weight="normal" text-anchor="start" fill="#000">1259NEG_PS(40:4e)</text>
<text transform="translate(560.9,1516.9) scale(1.186,1)" font-family='"Liberation Sans", sans-serif' font-size="12.2" font-weight="normal" text-anchor="start" fill="#000">1254NEG_PS(40:5p)</text>
<text transform="translate(717.7,1538.3) scale(1.186,1)" font-family='"Liberation Sans", sans-serif' font-size="12.2" font-weight="normal" text-anchor="start" fill="#000">1344NEG_Cer(d43:2)</text>
<path d="M88.3 1004H1650.7M88.3 1799H1650.7" fill="none" stroke="#6e6e6e" stroke-width="1.8"/>
<path d="M89.5 1004V1799" fill="none" stroke="#7c7c7c" stroke-width="2.5"/>
<path d="M1649.5 1004V1799" fill="none" stroke="#686868" stroke-width="1.9"/>
<line x1="89.5" y1="1020" x2="100.5" y2="1020" stroke="#333" stroke-width="1.8"/>
<text transform="translate(77.6,1027.7) scale(1.125,1)" font-family='"Liberation Sans", sans-serif' font-size="20.6" font-weight="normal" text-anchor="end" fill="#000">4</text>
<line x1="89.5" y1="1205.5" x2="100.5" y2="1205.5" stroke="#333" stroke-width="1.8"/>
<text transform="translate(77.6,1213.2) scale(1.125,1)" font-family='"Liberation Sans", sans-serif' font-size="20.6" font-weight="normal" text-anchor="end" fill="#000">3</text>
<line x1="89.5" y1="1391" x2="100.5" y2="1391" stroke="#333" stroke-width="1.8"/>
<text transform="translate(77.6,1398.7) scale(1.125,1)" font-family='"Liberation Sans", sans-serif' font-size="20.6" font-weight="normal" text-anchor="end" fill="#000">2</text>
<line x1="89.5" y1="1577" x2="100.5" y2="1577" stroke="#333" stroke-width="1.8"/>
<text transform="translate(77.6,1584.7) scale(1.125,1)" font-family='"Liberation Sans", sans-serif' font-size="20.6" font-weight="normal" text-anchor="end" fill="#000">1</text>
<line x1="89.5" y1="1763" x2="100.5" y2="1763" stroke="#333" stroke-width="1.8"/>
<text transform="translate(77.6,1770.7) scale(1.125,1)" font-family='"Liberation Sans", sans-serif' font-size="20.6" font-weight="normal" text-anchor="end" fill="#000">0</text>
<line x1="148" y1="1799" x2="148" y2="1790" stroke="#333" stroke-width="2.4"/>
<text transform="translate(148.0,1826.0) scale(1.125,1)" font-family='"Liberation Sans", sans-serif' font-size="20.6" font-weight="normal" text-anchor="middle" fill="#000">-4</text>
<line x1="509" y1="1799" x2="509" y2="1790" stroke="#333" stroke-width="2.4"/>
<text transform="translate(509.0,1826.0) scale(1.125,1)" font-family='"Liberation Sans", sans-serif' font-size="20.6" font-weight="normal" text-anchor="middle" fill="#000">-2</text>
<line x1="870" y1="1799" x2="870" y2="1790" stroke="#333" stroke-width="2.4"/>
<text transform="translate(870.0,1826.0) scale(1.125,1)" font-family='"Liberation Sans", sans-serif' font-size="20.6" font-weight="normal" text-anchor="middle" fill="#000">0</text>
<line x1="1231" y1="1799" x2="1231" y2="1790" stroke="#333" stroke-width="2.4"/>
<text transform="translate(1231.0,1826.0) scale(1.125,1)" font-family='"Liberation Sans", sans-serif' font-size="20.6" font-weight="normal" text-anchor="middle" fill="#000">2</text>
<line x1="1592" y1="1799" x2="1592" y2="1790" stroke="#333" stroke-width="2.4"/>
<text transform="translate(1592.0,1826.0) scale(1.125,1)" font-family='"Liberation Sans", sans-serif' font-size="20.6" font-weight="normal" text-anchor="middle" fill="#000">4</text>
<text transform="translate(870.0,984.6) scale(1.166,1)" font-family='"Liberation Sans", sans-serif' font-size="31.2" font-weight="bold" text-anchor="middle" fill="#000" stroke="#000" stroke-width="0.4">Volcano Plot</text>
<text transform="translate(870.0,1871.0) scale(1.183,1)" font-family='"Liberation Sans", sans-serif' font-size="28" font-weight="normal" text-anchor="middle" fill="#000">log2 Fold change (DH/DM)</text>
<text transform="translate(28.7,1401.0) scale(1.31,1) rotate(-90)" font-family='"Liberation Sans", sans-serif' font-size="26.8" font-weight="normal" text-anchor="middle" fill="#000">-log10(p-value)</text>
<text transform="translate(152.5,1759.5) scale(1.15,1)" font-family='"Liberation Serif", serif' font-size="50" font-weight="bold" text-anchor="middle" fill="#000">B</text>
</svg>
</body></html>
